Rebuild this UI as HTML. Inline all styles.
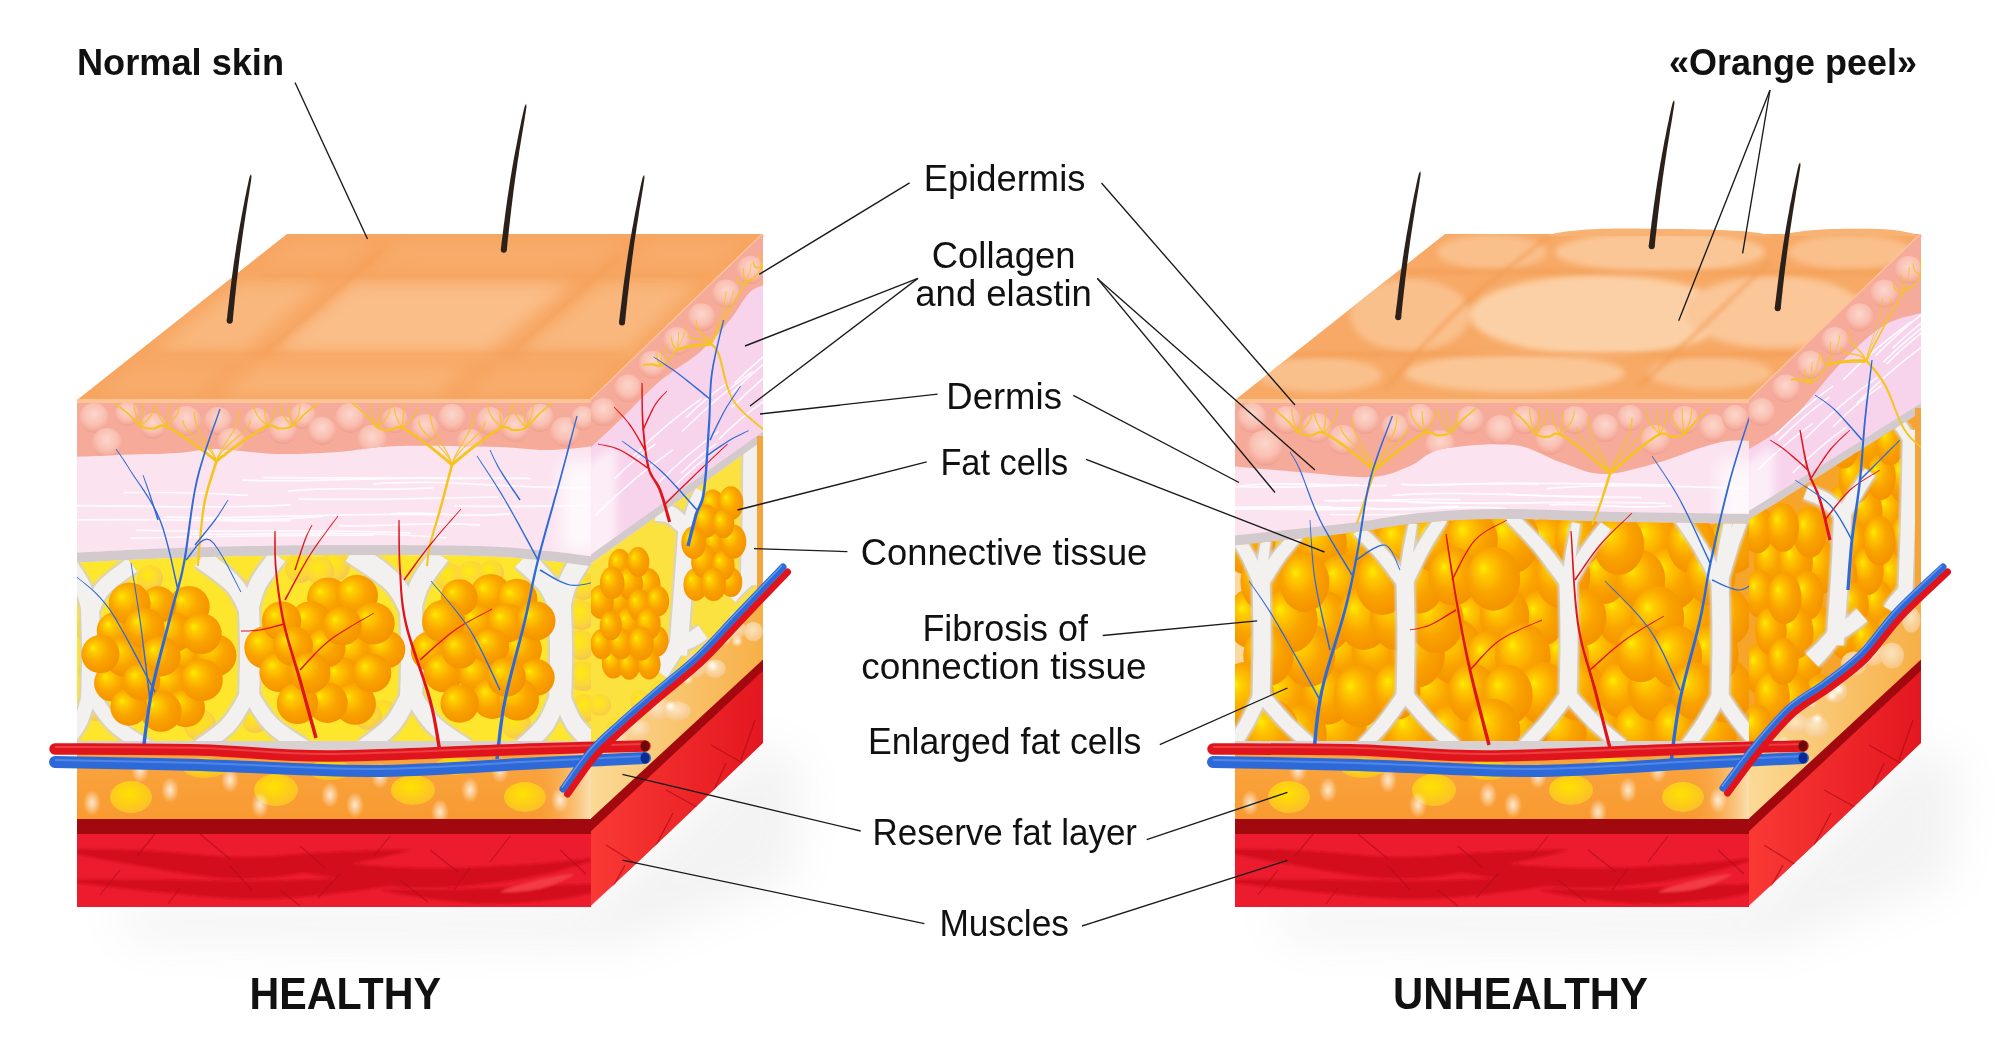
<!DOCTYPE html><html><head><meta charset="utf-8"><style>html,body{margin:0;padding:0;background:#fff;overflow:hidden}svg{display:block}</style></head><body>
<svg width="2000" height="1063" viewBox="0 0 2000 1063"><defs>
<filter id="blur8" x="-30%" y="-30%" width="160%" height="160%"><feGaussianBlur stdDeviation="8"/></filter>
<filter id="blur5" x="-30%" y="-30%" width="160%" height="160%"><feGaussianBlur stdDeviation="5"/></filter>
<filter id="blur3" x="-30%" y="-30%" width="160%" height="160%"><feGaussianBlur stdDeviation="3"/></filter>
<filter id="blur2" x="-30%" y="-30%" width="160%" height="160%"><feGaussianBlur stdDeviation="2"/></filter>
<filter id="blur1" x="-30%" y="-30%" width="160%" height="160%"><feGaussianBlur stdDeviation="1"/></filter>
<filter id="blur25" x="-50%" y="-50%" width="200%" height="200%"><feGaussianBlur stdDeviation="22"/></filter>
<radialGradient id="gFat" cx="0.45" cy="0.42" r="0.62" fx="0.3" fy="0.33">
  <stop offset="0" stop-color="#FFEE00"/><stop offset="0.18" stop-color="#FFCB00"/><stop offset="0.55" stop-color="#FAA400"/><stop offset="1" stop-color="#F39000"/>
</radialGradient>
<radialGradient id="gFatPale" cx="0.42" cy="0.38" r="0.62">
  <stop offset="0" stop-color="#FFEA10"/><stop offset="0.7" stop-color="#FBD63A"/><stop offset="1" stop-color="#F6C650"/>
</radialGradient>
<radialGradient id="gEpi" cx="0.5" cy="0.38" r="0.6">
  <stop offset="0" stop-color="#FCD6CC"/><stop offset="0.6" stop-color="#F9C0B2"/><stop offset="0.92" stop-color="#F4A898"/><stop offset="1" stop-color="#F0A090"/>
</radialGradient>
<radialGradient id="gSpark" cx="0.5" cy="0.5" r="0.5">
  <stop offset="0" stop-color="#FFFFFF" stop-opacity="0.9"/><stop offset="1" stop-color="#FFFFFF" stop-opacity="0"/>
</radialGradient>
<radialGradient id="gBlob" cx="0.45" cy="0.4" r="0.6">
  <stop offset="0" stop-color="#FFE200"/><stop offset="1" stop-color="#FBBF2A"/>
</radialGradient>
<radialGradient id="gBlobPale" cx="0.45" cy="0.4" r="0.6">
  <stop offset="0" stop-color="#FDE9C8"/><stop offset="1" stop-color="#F7C88A"/>
</radialGradient>
<linearGradient id="gMuscleR" x1="0" y1="0" x2="1" y2="0">
  <stop offset="0" stop-color="#FA3A35"/><stop offset="1" stop-color="#E3161F"/>
</linearGradient>
<linearGradient id="gDermHi" x1="0" y1="0" x2="1" y2="0">
  <stop offset="0" stop-color="#FFFFFF" stop-opacity="0"/><stop offset="0.6" stop-color="#FFFFFF" stop-opacity="0.9"/><stop offset="1" stop-color="#FFFFFF" stop-opacity="0.3"/>
</linearGradient>
<linearGradient id="gRes" x1="0" y1="0" x2="0" y2="1">
  <stop offset="0" stop-color="#FAA540"/><stop offset="1" stop-color="#F89A30"/>
</linearGradient>
<linearGradient id="gResCorner" x1="0" y1="0" x2="1" y2="0">
  <stop offset="0" stop-color="#F99C32" stop-opacity="0"/><stop offset="1" stop-color="#FBE0B0"/>
</linearGradient>
<linearGradient id="gResR" x1="0" y1="0" x2="1" y2="0">
  <stop offset="0" stop-color="#FBDB98"/><stop offset="1" stop-color="#F7AE44"/>
</linearGradient>
<clipPath id="tf0"><polygon points="287.0,234.0 763.0,234.0 591.0,400.0 77.0,400.0"/></clipPath><clipPath id="ff0"><rect x="77" y="403" width="514" height="504"/></clipPath><clipPath id="ep0"><path d="M72.0,457.0 C79.5,456.7 99.5,455.7 117.0,455.0 C134.5,454.3 160.3,454.0 177.0,453.0 C193.7,452.0 200.3,448.8 217.0,449.0 C233.7,449.2 257.0,453.5 277.0,454.0 C297.0,454.5 317.0,453.3 337.0,452.0 C357.0,450.7 370.3,446.8 397.0,446.0 C423.7,445.2 472.0,446.3 497.0,447.0 C522.0,447.7 530.5,450.2 547.0,450.0 C563.5,449.8 587.8,446.7 596.0,446.0 L596,402 L72,402 Z"/></clipPath><clipPath id="fc0"><path d="M72.0,563.0 C89.5,562.2 134.5,559.3 177.0,558.0 C219.5,556.7 277.0,555.3 327.0,555.0 C377.0,554.7 440.3,555.0 477.0,556.0 C513.7,557.0 527.2,559.2 547.0,561.0 C566.8,562.8 587.8,566.0 596.0,567.0 L596,752 L72,752 Z"/></clipPath><clipPath id="rf0"><polygon points="591.0,400.0 763.0,234.0 763.0,743.0 591.0,907.0"/></clipPath><clipPath id="fr0"><polygon points="586.0,567.0 768.0,437.0 763.0,592.0 738.0,618.0 698.0,660.0 658.0,694.0 619.0,728.0 591.0,754.0"/></clipPath><clipPath id="tf1158"><polygon points="1445.0,234.0 1921.0,234.0 1749.0,400.0 1235.0,400.0"/></clipPath><clipPath id="ff1158"><rect x="1235" y="403" width="514" height="504"/></clipPath><clipPath id="ep1158"><path d="M1230.0,466.0 C1241.5,467.0 1275.5,470.2 1299.0,472.0 C1322.5,473.8 1352.5,478.0 1371.0,477.0 C1389.5,476.0 1398.2,470.7 1410.0,466.0 C1421.8,461.3 1424.7,452.5 1442.0,449.0 C1459.3,445.5 1494.3,442.8 1514.0,445.0 C1533.7,447.2 1545.2,457.2 1560.0,462.0 C1574.8,466.8 1586.8,473.8 1603.0,474.0 C1619.2,474.2 1640.8,467.3 1657.0,463.0 C1673.2,458.7 1688.2,451.7 1700.0,448.0 C1711.8,444.3 1719.0,442.2 1728.0,441.0 C1737.0,439.8 1749.7,441.0 1754.0,441.0 L1754,402 L1230,402 Z"/></clipPath><clipPath id="fc1158"><path d="M1230.0,546.0 C1250.0,543.8 1318.3,536.8 1350.0,533.0 C1381.7,529.2 1395.0,525.3 1420.0,523.0 C1445.0,520.7 1466.7,519.2 1500.0,519.0 C1533.3,518.8 1577.7,521.2 1620.0,522.0 C1662.3,522.8 1731.7,523.7 1754.0,524.0 L1754,752 L1230,752 Z"/></clipPath><clipPath id="rf1158"><polygon points="1749.0,400.0 1921.0,234.0 1921.0,743.0 1749.0,907.0"/></clipPath><clipPath id="fr1158"><polygon points="1744.0,523.0 1926.0,409.0 1921.0,588.0 1897.0,611.0 1861.0,654.0 1825.0,683.0 1789.0,708.0 1754.0,747.0 1749.0,754.0"/></clipPath></defs><rect width="2000" height="1063" fill="#fff"/>
<g filter="url(#blur25)" opacity="0.10"><polygon points="107.0,905.0 591.0,905.0 763.0,742.0 803.0,770.0 793.0,880.0 621.0,945.0 137.0,940.0" fill="#8A8A8A" /></g>
<polygon points="287.0,234.0 763.0,234.0 591.0,400.0 77.0,400.0" fill="#F7A560" />
<g clip-path="url(#tf0)">
<g filter="url(#blur8)">
<polygon points="293.4,240.0 374.5,240.0 342.0,268.0 258.0,268.0" fill="#F8AB6A" />
<polygon points="402.5,240.0 626.4,240.0 591.9,268.0 370.0,268.0" fill="#F8AB6A" />
<polygon points="654.4,240.0 742.8,240.0 713.8,268.0 619.9,268.0" fill="#F8AB6A" />
<polygon points="239.0,283.0 324.6,283.0 244.6,352.0 151.7,352.0" fill="#F9B77D" />
<polygon points="352.6,283.0 573.5,283.0 488.6,352.0 272.6,352.0" fill="#FABE89" />
<polygon points="601.5,283.0 698.2,283.0 626.8,352.0 516.6,352.0" fill="#F9B77D" />
<polygon points="134.0,366.0 228.4,366.0 193.6,396.0 96.1,396.0" fill="#F8AC6C" />
<polygon points="256.4,366.0 471.4,366.0 434.5,396.0 221.6,396.0" fill="#F9B275" />
<polygon points="499.4,366.0 612.2,366.0 581.2,396.0 462.5,396.0" fill="#F8AC6C" />
</g><g filter="url(#blur2)">
<path d="M258.9,276.0 L704.5,276.0" fill="none" stroke="#F39A4E" stroke-width="3" opacity="0.45"/>
<path d="M160.2,354.0 L623.7,354.0" fill="none" stroke="#F39A4E" stroke-width="3" opacity="0.45"/>
<path d="M384,249 L267,351" fill="none" stroke="#F39A4E" stroke-width="3" opacity="0.5" transform="translate(0,0)"/>
<path d="M618,258 L516,348" fill="none" stroke="#F39A4E" stroke-width="3" opacity="0.5" transform="translate(0,0)"/>
</g>
</g>
<path d="M77,401 L591,401 L763,235" fill="none" stroke="#FDC597" stroke-width="4" />
<g clip-path="url(#ff0)">
<rect x="77" y="400" width="514" height="507" fill="#FBE3F0"/>
<path d="M72.0,457.0 C79.5,456.7 99.5,455.7 117.0,455.0 C134.5,454.3 160.3,454.0 177.0,453.0 C193.7,452.0 200.3,448.8 217.0,449.0 C233.7,449.2 257.0,453.5 277.0,454.0 C297.0,454.5 317.0,453.3 337.0,452.0 C357.0,450.7 370.3,446.8 397.0,446.0 C423.7,445.2 472.0,446.3 497.0,447.0 C522.0,447.7 530.5,450.2 547.0,450.0 C563.5,449.8 587.8,446.7 596.0,446.0 L596,402 L72,402 Z" fill="#F6AA9A" stroke="none" stroke-width="1" />
<g clip-path="url(#ep0)">
<circle cx="94.0" cy="418.0" r="15.0" fill="url(#gEpi)"/>
<circle cx="107.0" cy="443.0" r="15.0" fill="url(#gEpi)"/>
<circle cx="127.0" cy="414.0" r="12.0" fill="url(#gEpi)"/>
<circle cx="153.0" cy="426.0" r="13.0" fill="url(#gEpi)"/>
<circle cx="186.0" cy="421.0" r="15.0" fill="url(#gEpi)"/>
<circle cx="218.0" cy="421.0" r="14.0" fill="url(#gEpi)"/>
<circle cx="231.0" cy="442.0" r="14.0" fill="url(#gEpi)"/>
<circle cx="257.0" cy="421.0" r="13.0" fill="url(#gEpi)"/>
<circle cx="283.0" cy="430.0" r="14.0" fill="url(#gEpi)"/>
<circle cx="303.0" cy="416.0" r="13.0" fill="url(#gEpi)"/>
<circle cx="322.0" cy="431.0" r="14.0" fill="url(#gEpi)"/>
<circle cx="350.0" cy="418.0" r="15.0" fill="url(#gEpi)"/>
<circle cx="372.0" cy="440.0" r="15.0" fill="url(#gEpi)"/>
<circle cx="395.0" cy="420.0" r="13.0" fill="url(#gEpi)"/>
<circle cx="425.0" cy="428.0" r="14.0" fill="url(#gEpi)"/>
<circle cx="452.0" cy="418.0" r="14.0" fill="url(#gEpi)"/>
<circle cx="470.0" cy="442.0" r="13.0" fill="url(#gEpi)"/>
<circle cx="490.0" cy="421.0" r="14.0" fill="url(#gEpi)"/>
<circle cx="515.0" cy="428.0" r="14.0" fill="url(#gEpi)"/>
<circle cx="540.0" cy="418.0" r="14.0" fill="url(#gEpi)"/>
<circle cx="565.0" cy="432.0" r="15.0" fill="url(#gEpi)"/>
<circle cx="583.0" cy="418.0" r="12.0" fill="url(#gEpi)"/>
</g>
<path d="M263.3,477.7 C343.7,477.3 424.0,477.8 531.2,478.4" fill="none" stroke="#FFFFFF" stroke-width="1.7" opacity="0.85"/>
<path d="M242.2,480.2 C308.5,483.8 374.7,475.4 463.0,478.7" fill="none" stroke="#FFFFFF" stroke-width="1.7" opacity="0.85"/>
<path d="M373.2,483.8 C442.5,478.3 511.8,489.6 604.2,487.5" fill="none" stroke="#FFFFFF" stroke-width="1.7" opacity="0.85"/>
<path d="M287.8,491.3 C331.4,485.5 375.0,491.7 433.0,487.8" fill="none" stroke="#FFFFFF" stroke-width="1.7" opacity="0.85"/>
<path d="M123.5,492.7 C160.9,492.2 198.3,492.0 248.3,495.4" fill="none" stroke="#FFFFFF" stroke-width="1.7" opacity="0.85"/>
<path d="M298.7,498.8 C358.7,500.7 418.7,498.3 498.7,497.0" fill="none" stroke="#FFFFFF" stroke-width="1.7" opacity="0.85"/>
<path d="M455.1,505.8 C531.4,508.3 607.8,503.6 709.5,503.6" fill="none" stroke="#FFFFFF" stroke-width="1.7" opacity="0.85"/>
<path d="M47.9,505.7 C120.7,504.5 193.5,509.8 290.5,504.8" fill="none" stroke="#FFFFFF" stroke-width="1.7" opacity="0.85"/>
<path d="M389.8,513.8 C425.8,510.3 461.9,518.7 509.9,513.6" fill="none" stroke="#FFFFFF" stroke-width="1.7" opacity="0.85"/>
<path d="M191.9,518.1 C231.4,519.6 270.9,521.4 323.6,516.2" fill="none" stroke="#FFFFFF" stroke-width="1.7" opacity="0.85"/>
<path d="M163.3,516.9 C245.6,520.0 327.9,512.3 437.6,514.8" fill="none" stroke="#FFFFFF" stroke-width="1.7" opacity="0.85"/>
<path d="M43.4,521.1 C117.6,517.2 191.9,521.8 290.9,520.7" fill="none" stroke="#FFFFFF" stroke-width="1.7" opacity="0.85"/>
<path d="M339.0,525.7 C381.3,527.5 423.6,521.1 480.0,525.1" fill="none" stroke="#FFFFFF" stroke-width="1.7" opacity="0.85"/>
<path d="M135.7,530.0 C218.3,533.7 300.9,527.7 411.1,533.1" fill="none" stroke="#FFFFFF" stroke-width="1.7" opacity="0.85"/>
<path d="M190.5,534.1 C267.5,535.8 344.5,529.3 447.2,538.0" fill="none" stroke="#FFFFFF" stroke-width="1.7" opacity="0.85"/>
<path d="M130.6,538.3 C203.7,536.2 276.8,535.8 374.3,534.9" fill="none" stroke="#FFFFFF" stroke-width="1.7" opacity="0.85"/>
<g filter="url(#blur8)"><rect x="561" y="462" width="40" height="90" fill="#FFFFFF" opacity="0.75"/></g>
<path d="M72.0,553.0 C89.5,552.2 134.5,549.3 177.0,548.0 C219.5,546.7 277.0,545.3 327.0,545.0 C377.0,544.7 440.3,545.0 477.0,546.0 C513.7,547.0 527.2,549.2 547.0,551.0 C566.8,552.8 587.8,556.0 596.0,557.0 L596.0,567.0 C587.8,566.0 566.8,562.8 547.0,561.0 C527.2,559.2 513.7,557.0 477.0,556.0 C440.3,555.0 377.0,554.7 327.0,555.0 C277.0,555.3 219.5,556.7 177.0,558.0 C134.5,559.3 89.5,562.2 72.0,563.0 Z" fill="#D3CACD" stroke="none" stroke-width="1" />
<path d="M72.0,563.0 C89.5,562.2 134.5,559.3 177.0,558.0 C219.5,556.7 277.0,555.3 327.0,555.0 C377.0,554.7 440.3,555.0 477.0,556.0 C513.7,557.0 527.2,559.2 547.0,561.0 C566.8,562.8 587.8,566.0 596.0,567.0 L596,752 L72,752 Z" fill="#FEE62C" stroke="none" stroke-width="1" />
<g clip-path="url(#fc0)">
<circle cx="300" cy="568" r="15" fill="url(#gFatPale)"/>
<circle cx="335" cy="566" r="15" fill="url(#gFatPale)"/>
<circle cx="449" cy="577" r="14" fill="url(#gFatPale)"/>
<circle cx="471" cy="575" r="14" fill="url(#gFatPale)"/>
<circle cx="491" cy="573" r="13" fill="url(#gFatPale)"/>
<circle cx="583" cy="586" r="14" fill="url(#gFatPale)"/>
<circle cx="581" cy="615" r="15" fill="url(#gFatPale)"/>
<circle cx="581" cy="645" r="15" fill="url(#gFatPale)"/>
<circle cx="583" cy="676" r="15" fill="url(#gFatPale)"/>
<circle cx="585" cy="708" r="14" fill="url(#gFatPale)"/>
<circle cx="516" cy="724" r="15" fill="url(#gFatPale)"/>
<circle cx="384" cy="714" r="14" fill="url(#gFatPale)"/>
<circle cx="368" cy="716" r="14" fill="url(#gFatPale)"/>
<circle cx="200" cy="725" r="16" fill="url(#gFatPale)"/>
<circle cx="320" cy="571" r="14" fill="url(#gFatPale)"/>
<circle cx="150" cy="578" r="13" fill="url(#gFatPale)"/>
<circle cx="118" cy="590" r="13" fill="url(#gFatPale)"/>
<circle cx="90" cy="630" r="14" fill="url(#gFatPale)"/>
<circle cx="92" cy="670" r="14" fill="url(#gFatPale)"/>
<circle cx="96" cy="708" r="13" fill="url(#gFatPale)"/>
<circle cx="240" cy="590" r="12" fill="url(#gFatPale)"/>
<circle cx="255" cy="720" r="13" fill="url(#gFatPale)"/>
<g filter="url(#blur1)"><polygon points="79.0,605.3 79.1,609.0 79.2,614.0 79.4,619.9 79.6,626.5 79.7,633.4 79.9,640.4 80.0,647.2 80.0,653.5 80.0,659.8 79.9,666.6 79.7,673.6 79.6,680.5 79.4,687.1 79.2,693.0 79.1,698.0 79.0,701.7 101.0,702.3 101.1,698.5 101.2,693.6 101.4,687.7 101.6,681.1 101.7,674.1 101.9,666.9 102.0,660.0 102.0,653.5 102.0,647.0 101.9,640.1 101.7,632.9 101.6,625.9 101.4,619.3 101.2,613.4 101.1,608.5 101.0,604.7" fill="#D6D0CC" /><polygon points="99.0,612.9 98.6,610.9 98.2,608.1 97.6,604.7 96.9,600.7 96.0,596.5 94.9,592.0 93.6,587.6 92.0,583.3 90.0,579.1 87.6,574.9 85.1,570.8 82.6,566.9 80.1,563.3 77.9,560.2 76.2,557.6 75.0,555.7 57.0,568.3 58.5,570.3 60.6,572.9 62.9,575.9 65.3,579.1 67.8,582.5 70.1,585.8 72.1,588.9 73.6,591.6 74.8,594.3 76.0,597.6 77.1,601.2 78.0,604.9 78.9,608.5 79.7,611.9 80.4,614.8 81.0,617.1" fill="#D6D0CC" /><polygon points="98.5,618.6 99.5,616.3 100.6,613.5 101.8,610.3 103.2,607.0 104.7,603.6 106.4,600.3 108.1,597.4 110.0,595.0 112.4,592.5 115.8,589.5 119.8,586.3 124.0,583.1 128.3,580.1 132.2,577.3 135.6,574.9 138.1,573.0 125.9,557.0 123.6,558.8 120.4,561.1 116.5,564.1 112.1,567.4 107.6,571.0 103.1,574.7 98.9,578.6 95.2,582.6 92.1,586.8 89.6,591.3 87.5,595.6 85.7,599.8 84.3,603.7 83.1,607.0 82.2,609.6 81.5,611.4" fill="#D6D0CC" /><polygon points="81.6,689.4 80.8,692.0 79.8,695.5 78.6,699.6 77.3,703.9 75.9,708.4 74.4,712.7 72.8,716.6 71.3,719.8 69.5,722.6 67.3,725.7 64.8,728.9 62.1,732.0 59.4,735.0 56.9,737.7 54.7,740.1 53.0,742.0 67.0,754.0 68.4,752.3 70.4,750.0 72.9,747.2 75.8,744.0 78.8,740.4 81.8,736.5 84.6,732.5 87.1,728.2 89.2,723.7 91.1,718.9 92.8,714.0 94.3,709.1 95.6,704.4 96.7,700.3 97.6,697.0 98.4,694.6" fill="#D6D0CC" /><polygon points="82.8,696.9 84.4,699.4 86.5,702.7 89.2,706.8 92.2,711.5 95.6,716.4 99.2,721.3 103.1,726.1 107.2,730.5 111.7,734.5 116.7,738.4 122.0,742.1 127.2,745.6 132.2,748.8 136.7,751.6 140.3,753.9 143.0,755.7 153.0,740.3 150.2,738.5 146.4,736.1 141.9,733.4 137.1,730.4 132.2,727.2 127.4,723.8 123.1,720.6 119.6,717.5 116.5,714.3 113.2,710.3 110.0,706.0 106.9,701.5 104.0,697.2 101.3,693.2 99.0,689.7 97.2,687.1" fill="#D6D0CC" /></g><polygon points="81.0,605.2 81.1,609.0 81.2,614.0 81.4,619.9 81.6,626.4 81.7,633.4 81.9,640.4 82.0,647.2 82.0,653.5 82.0,659.8 81.9,666.6 81.7,673.6 81.6,680.6 81.4,687.1 81.2,693.0 81.1,698.0 81.0,701.8 99.0,702.2 99.1,698.5 99.2,693.5 99.4,687.6 99.6,681.0 99.7,674.0 99.9,666.9 100.0,660.0 100.0,653.5 100.0,647.0 99.9,640.1 99.7,633.0 99.6,626.0 99.4,619.4 99.2,613.5 99.1,608.5 99.0,604.8" fill="#F3F1EF" /><polygon points="97.0,613.4 96.7,611.3 96.2,608.5 95.6,605.1 94.9,601.2 94.0,596.9 93.0,592.6 91.7,588.3 90.2,584.1 88.2,580.0 85.9,575.9 83.5,571.9 80.9,568.1 78.5,564.5 76.3,561.3 74.6,558.8 73.4,556.8 58.6,567.2 60.1,569.1 62.2,571.7 64.5,574.7 67.0,577.9 69.5,581.3 71.8,584.7 73.9,588.0 75.4,590.8 76.7,593.7 77.9,597.1 79.0,600.7 80.0,604.5 80.9,608.1 81.7,611.5 82.4,614.4 83.0,616.6" fill="#F3F1EF" /><polygon points="96.6,617.8 97.6,615.6 98.7,612.8 100.0,609.6 101.3,606.2 102.9,602.7 104.6,599.4 106.5,596.3 108.5,593.7 111.0,591.1 114.5,588.0 118.6,584.8 122.8,581.5 127.1,578.5 131.0,575.7 134.4,573.3 136.9,571.4 127.1,558.6 124.8,560.4 121.6,562.8 117.7,565.7 113.3,569.0 108.8,572.5 104.4,576.2 100.3,580.0 96.7,583.9 93.8,588.0 91.3,592.2 89.3,596.5 87.6,600.6 86.2,604.4 85.0,607.7 84.1,610.3 83.4,612.2" fill="#F3F1EF" /><polygon points="83.5,690.0 82.7,692.6 81.7,696.1 80.5,700.1 79.2,704.5 77.8,709.0 76.3,713.4 74.7,717.4 73.1,720.7 71.2,723.7 68.9,726.9 66.3,730.2 63.6,733.4 60.9,736.4 58.4,739.1 56.2,741.5 54.5,743.3 65.5,752.7 66.9,751.0 68.9,748.7 71.5,745.9 74.3,742.6 77.2,739.1 80.2,735.3 82.9,731.4 85.3,727.3 87.4,722.9 89.2,718.2 90.9,713.3 92.4,708.5 93.7,703.9 94.8,699.8 95.7,696.4 96.5,694.0" fill="#F3F1EF" /><polygon points="84.4,695.8 86.1,698.3 88.2,701.6 90.8,705.7 93.9,710.3 97.2,715.2 100.8,720.1 104.6,724.7 108.6,729.0 113.0,733.0 117.9,736.8 123.1,740.5 128.3,743.9 133.3,747.1 137.7,749.9 141.4,752.3 144.1,754.0 151.9,742.0 149.1,740.2 145.3,737.8 140.9,735.1 136.0,732.1 131.1,728.8 126.2,725.5 121.9,722.1 118.2,719.0 115.0,715.6 111.7,711.6 108.4,707.2 105.2,702.7 102.3,698.3 99.7,694.2 97.4,690.8 95.6,688.2" fill="#F3F1EF" />
<g filter="url(#blur1)"><polygon points="237.0,605.3 237.1,609.1 237.2,614.0 237.4,620.0 237.6,626.5 237.7,633.4 237.9,640.4 238.0,647.2 238.0,653.5 238.0,659.8 237.9,666.6 237.7,673.6 237.6,680.5 237.4,687.0 237.2,693.0 237.1,697.9 237.0,701.7 261.0,702.3 261.1,698.6 261.2,693.6 261.4,687.7 261.6,681.1 261.7,674.1 261.9,667.0 262.0,660.0 262.0,653.5 262.0,647.0 261.9,640.0 261.7,632.9 261.6,625.9 261.4,619.3 261.2,613.4 261.1,608.4 261.0,604.7" fill="#D6D0CC" /><polygon points="258.2,611.0 257.4,608.9 256.4,606.1 255.2,602.3 253.6,598.0 251.6,593.3 249.3,588.4 246.5,583.4 243.0,578.6 238.9,574.0 234.2,569.5 229.1,565.1 223.9,560.9 219.0,557.0 214.5,553.5 210.9,550.7 208.4,548.5 193.6,567.5 196.5,569.6 200.5,572.4 205.0,575.6 209.9,579.1 214.8,582.8 219.4,586.5 223.3,589.9 226.2,592.7 228.4,595.5 230.5,598.7 232.4,602.4 234.2,606.1 235.8,609.8 237.3,613.3 238.6,616.5 239.8,619.0" fill="#D6D0CC" /><polygon points="258.7,617.4 259.4,615.0 260.2,611.7 261.0,608.1 262.0,604.1 263.1,600.1 264.4,596.1 265.7,592.5 267.1,589.4 268.9,586.3 271.3,582.7 274.0,578.8 277.0,574.9 279.9,571.2 282.7,567.8 285.0,564.8 286.8,562.6 269.2,549.4 267.7,551.6 265.5,554.4 262.8,558.0 259.8,562.0 256.7,566.4 253.6,570.9 250.7,575.5 248.3,580.1 246.3,584.9 244.6,589.7 243.3,594.6 242.1,599.2 241.2,603.5 240.4,607.3 239.8,610.3 239.3,612.6" fill="#D6D0CC" /><polygon points="240.8,687.3 239.2,689.9 237.3,693.4 235.1,697.4 232.6,701.7 230.0,706.2 227.3,710.5 224.5,714.3 221.9,717.5 219.0,720.4 215.3,723.6 211.3,726.9 207.0,730.1 202.8,733.1 198.9,735.8 195.5,738.1 193.0,740.0 205.0,756.0 207.3,754.3 210.4,752.0 214.3,749.2 218.7,745.9 223.4,742.4 228.0,738.6 232.4,734.7 236.5,730.5 240.1,726.0 243.4,721.2 246.5,716.2 249.4,711.3 251.9,706.6 254.1,702.5 255.9,699.2 257.2,696.7" fill="#D6D0CC" /><polygon points="241.0,697.1 242.5,699.6 244.5,702.9 247.0,707.0 249.8,711.7 253.0,716.6 256.5,721.6 260.1,726.4 264.1,730.8 268.5,734.9 273.3,738.9 278.3,742.6 283.4,746.2 288.1,749.4 292.4,752.2 295.8,754.5 298.3,756.2 309.7,739.8 306.9,737.9 303.3,735.6 299.0,732.8 294.5,729.8 289.8,726.6 285.3,723.4 281.3,720.1 278.0,717.2 275.1,714.0 272.1,710.1 269.0,705.8 266.1,701.3 263.3,697.0 260.9,693.0 258.7,689.5 257.0,686.9" fill="#D6D0CC" /></g><polygon points="239.0,605.2 239.1,609.0 239.2,614.0 239.4,619.9 239.6,626.5 239.7,633.4 239.9,640.4 240.0,647.2 240.0,653.5 240.0,659.8 239.9,666.6 239.7,673.6 239.6,680.5 239.4,687.1 239.2,693.0 239.1,698.0 239.0,701.8 259.0,702.2 259.1,698.5 259.2,693.6 259.4,687.6 259.6,681.0 259.7,674.0 259.9,666.9 260.0,660.0 260.0,653.5 260.0,647.0 259.9,640.1 259.7,633.0 259.6,626.0 259.4,619.4 259.2,613.4 259.1,608.5 259.0,604.8" fill="#F3F1EF" /><polygon points="256.3,611.8 255.6,609.7 254.6,606.8 253.3,603.0 251.7,598.8 249.8,594.1 247.6,589.3 244.8,584.5 241.5,579.9 237.5,575.4 232.8,571.0 227.8,566.7 222.7,562.5 217.8,558.6 213.3,555.1 209.7,552.3 207.1,550.1 194.9,565.9 197.7,568.0 201.7,570.7 206.2,574.0 211.1,577.5 216.0,581.2 220.7,584.9 224.7,588.4 227.7,591.4 230.0,594.4 232.2,597.8 234.2,601.5 236.1,605.3 237.7,609.1 239.1,612.6 240.5,615.8 241.7,618.2" fill="#F3F1EF" /><polygon points="256.8,617.0 257.4,614.5 258.2,611.3 259.1,607.6 260.1,603.6 261.2,599.5 262.5,595.5 263.9,591.7 265.3,588.5 267.2,585.3 269.6,581.6 272.4,577.7 275.4,573.7 278.3,570.0 281.1,566.6 283.5,563.6 285.2,561.4 270.8,550.6 269.3,552.8 267.1,555.7 264.4,559.2 261.4,563.2 258.3,567.5 255.3,572.0 252.5,576.5 250.1,581.0 248.1,585.6 246.5,590.3 245.2,595.1 244.1,599.7 243.1,604.0 242.4,607.8 241.7,610.8 241.2,613.0" fill="#F3F1EF" /><polygon points="242.5,688.3 241.0,690.9 239.0,694.3 236.8,698.4 234.4,702.7 231.7,707.2 228.9,711.6 226.1,715.5 223.4,718.8 220.4,721.9 216.6,725.2 212.5,728.5 208.2,731.7 204.0,734.7 200.1,737.4 196.7,739.8 194.2,741.6 203.8,754.4 206.1,752.6 209.3,750.3 213.2,747.5 217.5,744.3 222.1,740.8 226.7,737.1 231.1,733.2 235.0,729.2 238.5,724.8 241.8,720.1 244.8,715.1 247.6,710.3 250.1,705.7 252.3,701.5 254.1,698.2 255.5,695.7" fill="#F3F1EF" /><polygon points="242.7,696.1 244.2,698.5 246.2,701.9 248.7,706.0 251.5,710.6 254.7,715.5 258.1,720.4 261.7,725.1 265.5,729.4 269.8,733.4 274.5,737.3 279.5,741.0 284.5,744.5 289.2,747.7 293.5,750.5 297.0,752.8 299.5,754.6 308.5,741.4 305.8,739.6 302.2,737.2 297.9,734.5 293.3,731.5 288.6,728.3 284.1,724.9 280.0,721.7 276.6,718.6 273.6,715.2 270.4,711.3 267.4,706.9 264.4,702.4 261.6,698.0 259.2,694.0 257.0,690.5 255.3,687.9" fill="#F3F1EF" />
<g filter="url(#blur1)"><polygon points="398.0,605.3 398.1,609.1 398.2,614.1 398.4,620.0 398.6,626.5 398.7,633.5 398.9,640.5 399.0,647.2 399.0,653.5 399.0,659.8 398.9,666.5 398.7,673.5 398.6,680.5 398.4,687.0 398.2,692.9 398.1,697.9 398.0,701.7 424.0,702.3 424.1,698.6 424.2,693.6 424.4,687.7 424.6,681.1 424.7,674.1 424.9,667.0 425.0,660.0 425.0,653.5 425.0,647.0 424.9,640.0 424.7,632.9 424.6,625.9 424.4,619.3 424.2,613.4 424.1,608.4 424.0,604.7" fill="#D6D0CC" /><polygon points="420.7,610.3 419.8,608.0 418.6,604.9 417.0,600.8 415.0,596.1 412.6,590.9 409.7,585.5 406.2,580.1 402.0,574.8 397.0,569.8 391.2,564.9 385.0,560.0 378.7,555.3 372.6,550.9 367.1,547.0 362.7,543.8 359.5,541.4 344.5,562.6 348.0,564.9 352.8,568.1 358.4,571.7 364.4,575.7 370.4,579.8 376.1,584.0 381.0,587.8 384.6,591.1 387.3,594.2 389.9,597.8 392.3,601.7 394.5,605.8 396.4,609.8 398.2,613.6 399.8,617.0 401.3,619.7" fill="#D6D0CC" /><polygon points="421.5,617.6 422.2,615.1 423.0,611.8 423.9,608.1 424.8,604.1 426.0,600.0 427.2,596.0 428.5,592.3 429.9,589.2 431.7,586.1 434.0,582.5 436.8,578.6 439.7,574.6 442.7,570.8 445.4,567.4 447.8,564.3 449.6,562.0 430.4,548.0 428.9,550.2 426.7,553.1 424.0,556.7 421.0,560.8 417.9,565.3 414.8,569.9 412.0,574.6 409.5,579.4 407.5,584.2 405.8,589.2 404.5,594.1 403.3,598.9 402.4,603.3 401.6,607.1 401.0,610.2 400.5,612.4" fill="#D6D0CC" /><polygon points="402.0,687.2 400.5,689.8 398.7,693.3 396.7,697.3 394.4,701.6 391.9,706.1 389.4,710.3 386.9,714.1 384.5,717.2 381.8,720.1 378.4,723.2 374.6,726.4 370.6,729.6 366.6,732.6 362.9,735.3 359.7,737.7 357.3,739.5 370.7,756.5 372.8,754.7 375.8,752.5 379.5,749.6 383.7,746.4 388.1,742.8 392.5,739.0 396.8,735.0 400.6,730.8 404.0,726.2 407.2,721.3 410.1,716.3 412.7,711.4 415.1,706.7 417.1,702.6 418.8,699.3 420.0,696.8" fill="#D6D0CC" /><polygon points="402.4,697.6 403.9,700.0 405.9,703.3 408.4,707.4 411.2,712.1 414.4,717.0 417.8,722.0 421.5,726.9 425.5,731.4 430.0,735.5 434.8,739.5 439.9,743.3 444.9,746.8 449.7,750.0 454.0,752.9 457.4,755.2 459.9,756.9 472.1,739.1 469.4,737.3 465.7,734.9 461.5,732.2 456.9,729.2 452.2,726.0 447.8,722.7 443.8,719.6 440.6,716.6 437.7,713.5 434.7,709.6 431.7,705.3 428.7,700.9 426.0,696.6 423.5,692.6 421.4,689.1 419.6,686.4" fill="#D6D0CC" /></g><polygon points="400.0,605.3 400.1,609.0 400.2,614.0 400.4,619.9 400.6,626.5 400.7,633.4 400.9,640.4 401.0,647.2 401.0,653.5 401.0,659.8 400.9,666.6 400.7,673.6 400.6,680.5 400.4,687.1 400.2,693.0 400.1,698.0 400.0,701.7 422.0,702.3 422.1,698.5 422.2,693.6 422.4,687.7 422.6,681.1 422.7,674.1 422.9,666.9 423.0,660.0 423.0,653.5 423.0,647.0 422.9,640.1 422.7,632.9 422.6,625.9 422.4,619.3 422.2,613.4 422.1,608.5 422.0,604.7" fill="#F3F1EF" /><polygon points="418.9,611.2 417.9,608.8 416.7,605.6 415.1,601.6 413.2,596.9 410.8,591.8 408.0,586.6 404.6,581.3 400.5,576.2 395.6,571.3 390.0,566.4 383.8,561.6 377.6,556.9 371.5,552.6 366.0,548.7 361.5,545.5 358.4,543.0 345.6,561.0 349.2,563.3 353.9,566.4 359.5,570.0 365.5,574.0 371.6,578.2 377.4,582.4 382.3,586.3 386.1,589.7 388.9,593.0 391.6,596.7 394.1,600.8 396.3,604.9 398.3,609.0 400.0,612.8 401.7,616.2 403.1,618.8" fill="#F3F1EF" /><polygon points="419.5,617.1 420.2,614.6 421.0,611.4 421.9,607.6 422.9,603.6 424.0,599.5 425.3,595.4 426.7,591.6 428.1,588.4 430.0,585.1 432.4,581.4 435.2,577.4 438.1,573.4 441.1,569.6 443.8,566.2 446.2,563.1 448.0,560.8 432.0,549.2 430.5,551.4 428.3,554.3 425.6,557.9 422.6,562.0 419.5,566.4 416.5,571.0 413.7,575.6 411.3,580.2 409.3,584.9 407.7,589.8 406.4,594.7 405.3,599.3 404.3,603.7 403.6,607.5 403.0,610.6 402.5,612.9" fill="#F3F1EF" /><polygon points="403.7,688.1 402.3,690.7 400.5,694.2 398.4,698.2 396.1,702.6 393.7,707.0 391.1,711.4 388.5,715.3 386.0,718.5 383.2,721.5 379.7,724.7 375.8,728.0 371.8,731.2 367.8,734.2 364.1,736.9 360.9,739.3 358.5,741.1 369.5,754.9 371.6,753.2 374.6,750.9 378.3,748.0 382.5,744.8 386.8,741.3 391.2,737.5 395.3,733.6 399.1,729.5 402.4,725.0 405.5,720.3 408.4,715.3 411.0,710.4 413.3,705.8 415.4,701.7 417.0,698.3 418.3,695.9" fill="#F3F1EF" /><polygon points="404.1,696.5 405.6,698.9 407.6,702.3 410.1,706.4 412.9,711.0 416.0,715.9 419.4,720.8 423.1,725.6 427.0,730.0 431.3,734.0 436.0,737.9 441.0,741.7 446.0,745.2 450.8,748.4 455.1,751.2 458.5,753.5 461.0,755.3 471.0,740.7 468.3,738.9 464.6,736.6 460.4,733.8 455.8,730.8 451.1,727.6 446.5,724.3 442.5,721.1 439.1,718.0 436.2,714.7 433.1,710.8 430.0,706.5 427.0,702.0 424.3,697.6 421.8,693.6 419.7,690.1 417.9,687.5" fill="#F3F1EF" />
<g filter="url(#blur1)"><polygon points="547.0,605.3 547.1,609.1 547.2,614.1 547.4,620.0 547.6,626.5 547.7,633.5 547.9,640.5 548.0,647.2 548.0,653.5 548.0,659.8 547.9,666.5 547.7,673.5 547.6,680.5 547.4,687.0 547.2,692.9 547.1,697.9 547.0,701.7 573.0,702.3 573.1,698.6 573.2,693.6 573.4,687.7 573.6,681.1 573.7,674.1 573.9,667.0 574.0,660.0 574.0,653.5 574.0,647.0 573.9,640.0 573.7,632.9 573.6,625.9 573.4,619.3 573.2,613.4 573.1,608.4 573.0,604.7" fill="#D6D0CC" /><polygon points="570.2,611.6 569.7,609.5 569.0,606.6 568.0,602.9 566.9,598.7 565.4,594.1 563.6,589.3 561.5,584.4 558.8,579.5 555.6,574.9 551.9,570.4 548.0,566.0 544.0,561.9 540.2,558.0 536.7,554.6 534.0,551.8 532.1,549.8 513.9,568.2 516.2,570.3 519.3,573.1 522.8,576.2 526.5,579.6 530.3,583.2 533.8,586.7 536.8,590.0 539.0,592.7 540.7,595.3 542.3,598.5 543.9,602.1 545.3,605.8 546.6,609.5 547.7,612.9 548.8,616.0 549.8,618.4" fill="#D6D0CC" /><polygon points="570.6,617.1 571.1,614.7 571.8,611.6 572.4,608.0 573.2,604.1 574.1,600.2 575.0,596.3 576.1,592.7 577.2,589.7 578.6,586.8 580.4,583.3 582.5,579.6 584.7,575.9 586.9,572.4 589.0,569.1 590.9,566.2 592.3,564.0 571.7,552.0 570.6,554.0 569.0,556.8 567.0,560.2 564.7,564.1 562.4,568.2 560.0,572.6 557.9,577.1 556.0,581.6 554.5,586.1 553.3,590.8 552.3,595.5 551.5,600.0 550.8,604.1 550.2,607.8 549.8,610.8 549.4,612.9" fill="#D6D0CC" /><polygon points="550.5,688.1 549.4,690.7 548.0,694.2 546.4,698.2 544.7,702.6 542.8,707.0 540.8,711.2 538.8,715.0 536.9,718.1 534.7,720.9 532.0,723.9 528.9,727.1 525.6,730.2 522.3,733.2 519.3,735.9 516.6,738.3 514.5,740.2 529.5,755.8 531.2,754.1 533.6,751.8 536.7,749.0 540.2,745.8 543.9,742.2 547.6,738.3 551.1,734.2 554.3,729.9 557.1,725.3 559.6,720.4 561.8,715.4 563.9,710.4 565.7,705.8 567.3,701.7 568.5,698.3 569.5,695.9" fill="#D6D0CC" /><polygon points="550.5,695.9 551.5,698.3 552.7,701.7 554.3,705.8 556.1,710.4 558.2,715.4 560.4,720.4 562.9,725.3 565.7,729.9 568.9,734.2 572.4,738.3 576.1,742.2 579.8,745.8 583.3,749.0 586.4,751.8 588.8,754.1 590.5,755.8 605.5,740.2 603.4,738.3 600.7,735.9 597.7,733.2 594.4,730.2 591.1,727.1 588.0,723.9 585.3,720.9 583.1,718.1 581.2,715.0 579.2,711.2 577.2,707.0 575.3,702.6 573.6,698.2 572.0,694.2 570.6,690.7 569.5,688.1" fill="#D6D0CC" /></g><polygon points="549.0,605.3 549.1,609.0 549.2,614.0 549.4,619.9 549.6,626.5 549.7,633.4 549.9,640.4 550.0,647.2 550.0,653.5 550.0,659.8 549.9,666.6 549.7,673.6 549.6,680.5 549.4,687.1 549.2,693.0 549.1,698.0 549.0,701.7 571.0,702.3 571.1,698.5 571.2,693.6 571.4,687.7 571.6,681.1 571.7,674.1 571.9,666.9 572.0,660.0 572.0,653.5 572.0,647.0 571.9,640.1 571.7,632.9 571.6,625.9 571.4,619.3 571.2,613.4 571.1,608.5 571.0,604.7" fill="#F3F1EF" /><polygon points="568.3,612.2 567.8,610.1 567.1,607.2 566.1,603.5 565.0,599.3 563.5,594.8 561.8,590.1 559.7,585.3 557.2,580.6 554.0,576.2 550.4,571.7 546.5,567.4 542.6,563.3 538.8,559.4 535.4,556.0 532.6,553.3 530.7,551.2 515.3,566.8 517.6,568.9 520.6,571.6 524.2,574.8 527.9,578.2 531.7,581.8 535.3,585.4 538.4,588.7 540.6,591.6 542.4,594.4 544.1,597.7 545.7,601.4 547.2,605.2 548.5,608.9 549.7,612.3 550.7,615.4 551.7,617.8" fill="#F3F1EF" /><polygon points="568.6,616.7 569.2,614.3 569.8,611.2 570.5,607.6 571.2,603.8 572.1,599.8 573.1,595.8 574.2,592.2 575.3,589.0 576.7,585.9 578.6,582.4 580.7,578.7 583.0,574.9 585.2,571.3 587.3,568.0 589.2,565.2 590.5,563.0 573.5,553.0 572.3,555.0 570.7,557.8 568.7,561.2 566.4,565.1 564.1,569.2 561.8,573.6 559.7,577.9 557.9,582.3 556.4,586.7 555.2,591.3 554.3,595.9 553.4,600.3 552.7,604.5 552.2,608.2 551.7,611.1 551.4,613.3" fill="#F3F1EF" /><polygon points="552.4,688.8 551.3,691.5 549.9,694.9 548.3,699.0 546.5,703.3 544.6,707.8 542.6,712.1 540.5,716.0 538.5,719.2 536.3,722.1 533.5,725.3 530.3,728.5 527.0,731.7 523.7,734.7 520.6,737.4 517.9,739.8 515.9,741.6 528.1,754.4 529.8,752.6 532.3,750.4 535.4,747.5 538.8,744.3 542.5,740.7 546.1,737.0 549.6,733.0 552.7,728.8 555.3,724.3 557.8,719.5 560.0,714.6 562.0,709.7 563.8,705.1 565.4,700.9 566.6,697.6 567.6,695.2" fill="#F3F1EF" /><polygon points="552.4,695.2 553.4,697.6 554.6,700.9 556.2,705.1 558.0,709.7 560.0,714.6 562.2,719.5 564.7,724.3 567.3,728.8 570.4,733.0 573.9,737.0 577.5,740.7 581.2,744.3 584.6,747.5 587.7,750.4 590.2,752.6 591.9,754.4 604.1,741.6 602.1,739.8 599.4,737.4 596.3,734.7 593.0,731.7 589.7,728.5 586.5,725.3 583.7,722.1 581.5,719.2 579.5,716.0 577.4,712.1 575.4,707.8 573.5,703.3 571.7,699.0 570.1,694.9 568.7,691.5 567.6,688.8" fill="#F3F1EF" />
<ellipse cx="186.3" cy="656.5" rx="19.3" ry="19.3" fill="url(#gFat)"/><ellipse cx="215.2" cy="655.3" rx="21.2" ry="21.2" fill="url(#gFat)"/><ellipse cx="188.9" cy="606.7" rx="20.8" ry="20.8" fill="url(#gFat)"/><ellipse cx="171.3" cy="682.8" rx="20.7" ry="20.7" fill="url(#gFat)"/><ellipse cx="115.0" cy="630.6" rx="18.3" ry="18.3" fill="url(#gFat)"/><ellipse cx="172.7" cy="632.3" rx="20.4" ry="20.4" fill="url(#gFat)"/><ellipse cx="158.0" cy="604.7" rx="18.4" ry="18.4" fill="url(#gFat)"/><ellipse cx="112.6" cy="683.0" rx="18.6" ry="18.6" fill="url(#gFat)"/><ellipse cx="129.6" cy="603.5" rx="21.0" ry="21.0" fill="url(#gFat)"/><ellipse cx="185.7" cy="708.0" rx="19.3" ry="19.3" fill="url(#gFat)"/><ellipse cx="161.0" cy="711.2" rx="20.6" ry="20.6" fill="url(#gFat)"/><ellipse cx="125.2" cy="657.2" rx="19.7" ry="19.7" fill="url(#gFat)"/><ellipse cx="100.4" cy="654.2" rx="19.1" ry="19.1" fill="url(#gFat)"/><ellipse cx="201.7" cy="680.1" rx="21.1" ry="21.1" fill="url(#gFat)"/><ellipse cx="144.6" cy="628.0" rx="20.2" ry="20.2" fill="url(#gFat)"/><ellipse cx="160.6" cy="656.3" rx="20.1" ry="20.1" fill="url(#gFat)"/><ellipse cx="201.4" cy="633.7" rx="20.3" ry="20.3" fill="url(#gFat)"/><ellipse cx="128.9" cy="707.1" rx="18.6" ry="18.6" fill="url(#gFat)"/><ellipse cx="141.4" cy="681.4" rx="18.8" ry="18.8" fill="url(#gFat)"/>
<ellipse cx="265.7" cy="647.6" rx="21.4" ry="21.4" fill="url(#gFat)"/><ellipse cx="328.0" cy="598.4" rx="20.9" ry="20.9" fill="url(#gFat)"/><ellipse cx="357.0" cy="595.8" rx="21.0" ry="21.0" fill="url(#gFat)"/><ellipse cx="310.6" cy="622.4" rx="21.2" ry="21.2" fill="url(#gFat)"/><ellipse cx="355.3" cy="651.4" rx="20.2" ry="20.2" fill="url(#gFat)"/><ellipse cx="341.1" cy="678.0" rx="20.8" ry="20.8" fill="url(#gFat)"/><ellipse cx="281.5" cy="621.0" rx="19.7" ry="19.7" fill="url(#gFat)"/><ellipse cx="386.2" cy="649.4" rx="19.1" ry="19.1" fill="url(#gFat)"/><ellipse cx="355.1" cy="703.9" rx="20.9" ry="20.9" fill="url(#gFat)"/><ellipse cx="373.7" cy="623.3" rx="21.0" ry="21.0" fill="url(#gFat)"/><ellipse cx="279.4" cy="672.1" rx="20.0" ry="20.0" fill="url(#gFat)"/><ellipse cx="325.8" cy="647.9" rx="19.8" ry="19.8" fill="url(#gFat)"/><ellipse cx="327.6" cy="702.7" rx="20.2" ry="20.2" fill="url(#gFat)"/><ellipse cx="342.3" cy="626.0" rx="19.5" ry="19.5" fill="url(#gFat)"/><ellipse cx="297.4" cy="703.4" rx="20.6" ry="20.6" fill="url(#gFat)"/><ellipse cx="293.2" cy="646.2" rx="19.8" ry="19.8" fill="url(#gFat)"/><ellipse cx="372.0" cy="673.1" rx="19.3" ry="19.3" fill="url(#gFat)"/><ellipse cx="310.0" cy="672.8" rx="20.5" ry="20.5" fill="url(#gFat)"/>
<ellipse cx="490.8" cy="594.4" rx="20.5" ry="20.5" fill="url(#gFat)"/><ellipse cx="478.0" cy="622.8" rx="19.2" ry="19.2" fill="url(#gFat)"/><ellipse cx="430.8" cy="651.2" rx="20.0" ry="20.0" fill="url(#gFat)"/><ellipse cx="443.8" cy="672.2" rx="20.1" ry="20.1" fill="url(#gFat)"/><ellipse cx="459.2" cy="597.6" rx="18.4" ry="18.4" fill="url(#gFat)"/><ellipse cx="521.5" cy="649.5" rx="20.4" ry="20.4" fill="url(#gFat)"/><ellipse cx="517.1" cy="599.0" rx="20.3" ry="20.3" fill="url(#gFat)"/><ellipse cx="443.6" cy="621.4" rx="21.6" ry="21.6" fill="url(#gFat)"/><ellipse cx="477.2" cy="674.8" rx="19.0" ry="19.0" fill="url(#gFat)"/><ellipse cx="536.3" cy="677.5" rx="18.4" ry="18.4" fill="url(#gFat)"/><ellipse cx="507.0" cy="622.9" rx="19.7" ry="19.7" fill="url(#gFat)"/><ellipse cx="492.3" cy="698.6" rx="20.3" ry="20.3" fill="url(#gFat)"/><ellipse cx="535.8" cy="620.9" rx="19.7" ry="19.7" fill="url(#gFat)"/><ellipse cx="459.7" cy="703.6" rx="19.2" ry="19.2" fill="url(#gFat)"/><ellipse cx="460.1" cy="650.4" rx="18.2" ry="18.2" fill="url(#gFat)"/><ellipse cx="517.8" cy="699.3" rx="21.2" ry="21.2" fill="url(#gFat)"/><ellipse cx="491.0" cy="646.4" rx="18.1" ry="18.1" fill="url(#gFat)"/><ellipse cx="506.3" cy="677.3" rx="19.5" ry="19.5" fill="url(#gFat)"/>
</g>
<rect x="77" y="741" width="514" height="10" fill="#D9D1D1"/>
<rect x="77" y="752" width="514" height="68" fill="url(#gRes)"/>
<rect x="531" y="752" width="60" height="68" fill="url(#gResCorner)"/>
<ellipse cx="131.0" cy="797.0" rx="21.0" ry="16.0" fill="url(#gBlob)"/>
<ellipse cx="276.0" cy="790.0" rx="22.0" ry="16.0" fill="url(#gBlob)"/>
<ellipse cx="413.0" cy="790.0" rx="22.0" ry="15.0" fill="url(#gBlob)"/>
<ellipse cx="525.0" cy="797.0" rx="21.0" ry="15.0" fill="url(#gBlob)"/>
<ellipse cx="205.0" cy="768.0" rx="22.0" ry="10.0" fill="url(#gBlob)"/>
<ellipse cx="330.0" cy="770.0" rx="22.0" ry="10.0" fill="url(#gBlob)"/>
<ellipse cx="455.0" cy="766.0" rx="20.0" ry="9.0" fill="url(#gBlob)"/>
<ellipse cx="92" cy="803" rx="9" ry="13" fill="url(#gSpark)" opacity="0.85"/>
<ellipse cx="140" cy="770" rx="9" ry="13" fill="url(#gSpark)" opacity="0.85"/>
<ellipse cx="170" cy="790" rx="9" ry="13" fill="url(#gSpark)" opacity="0.85"/>
<ellipse cx="230" cy="780" rx="9" ry="13" fill="url(#gSpark)" opacity="0.85"/>
<ellipse cx="260" cy="805" rx="9" ry="13" fill="url(#gSpark)" opacity="0.85"/>
<ellipse cx="330" cy="795" rx="9" ry="13" fill="url(#gSpark)" opacity="0.85"/>
<ellipse cx="380" cy="776" rx="9" ry="13" fill="url(#gSpark)" opacity="0.85"/>
<ellipse cx="355" cy="805" rx="9" ry="13" fill="url(#gSpark)" opacity="0.85"/>
<ellipse cx="440" cy="812" rx="9" ry="13" fill="url(#gSpark)" opacity="0.85"/>
<ellipse cx="470" cy="790" rx="9" ry="13" fill="url(#gSpark)" opacity="0.85"/>
<ellipse cx="560" cy="800" rx="9" ry="13" fill="url(#gSpark)" opacity="0.85"/>
<ellipse cx="500" cy="770" rx="9" ry="13" fill="url(#gSpark)" opacity="0.85"/>
<rect x="77" y="819" width="514" height="15" fill="#A1090F"/>
<rect x="77" y="834" width="514" height="73" fill="#EC1C2E"/>
<g filter="url(#blur1)">
<polygon points="60.0,850.0 65.9,851.7 73.7,853.5 82.9,855.5 93.3,857.6 104.5,859.7 116.1,861.8 127.8,863.8 139.2,865.7 150.6,867.7 162.7,869.9 175.3,872.0 188.2,874.1 201.3,875.9 214.3,877.5 227.3,878.5 239.9,879.0 252.1,878.8 264.1,878.1 275.9,876.9 287.4,875.4 298.6,873.6 309.6,871.6 320.3,869.7 330.9,867.7 341.8,865.7 353.3,863.5 364.9,861.1 376.2,858.7 386.7,856.3 396.1,854.0 404.0,851.9 410.0,850.0 410.0,850.0 403.8,849.7 395.6,849.7 385.9,849.9 375.1,850.3 363.6,850.8 351.8,851.3 340.2,851.8 329.1,852.3 318.3,852.8 307.3,853.5 296.3,854.3 285.1,855.1 274.0,855.9 262.8,856.5 251.5,856.9 240.1,857.0 228.4,856.7 216.1,856.0 203.5,855.0 190.6,853.9 177.7,852.8 165.0,851.7 152.6,850.8 140.8,850.3 129.2,849.9 117.3,849.6 105.5,849.3 94.2,849.2 83.6,849.1 74.1,849.3 66.1,849.5 60.0,850.0" fill="#D30F1F" />
<polygon points="250.0,862.0 256.0,863.6 263.9,865.4 273.4,867.3 284.0,869.3 295.3,871.3 306.9,873.3 318.4,875.3 329.3,877.0 339.9,878.8 350.6,880.6 361.6,882.4 372.8,884.1 384.2,885.6 395.9,886.8 407.8,887.6 419.9,888.0 432.3,887.9 445.1,887.5 458.1,886.7 471.2,885.6 484.2,884.2 496.9,882.7 509.2,880.9 520.8,879.0 532.4,876.8 544.2,874.2 555.8,871.4 567.0,868.4 577.3,865.4 586.5,862.6 594.2,860.1 600.0,858.0 600.0,858.0 593.8,858.2 585.7,858.8 576.2,859.7 565.5,860.9 554.2,862.1 542.4,863.3 530.6,864.3 519.2,865.0 507.6,865.5 495.4,866.1 482.8,866.7 470.0,867.2 457.2,867.6 444.4,867.9 432.0,868.0 420.1,868.0 408.6,867.7 397.3,867.2 386.0,866.5 374.7,865.7 363.6,864.9 352.5,864.1 341.5,863.4 330.7,863.0 319.6,862.6 308.0,862.3 296.2,862.0 284.8,861.7 274.0,861.5 264.3,861.5 256.2,861.6 250.0,862.0" fill="#D30F1F" />
<polygon points="60.0,880.0 67.7,881.4 77.9,882.9 90.0,884.5 103.5,886.2 117.8,887.9 132.4,889.5 146.5,891.0 159.7,892.4 172.1,893.6 184.6,894.8 197.1,896.0 209.6,897.1 222.2,897.9 234.8,898.6 247.4,898.9 260.1,899.0 272.9,898.7 285.9,898.1 298.9,897.2 311.8,896.0 324.6,894.8 337.0,893.3 349.0,891.8 360.5,890.3 372.0,888.7 383.8,886.9 395.4,885.0 406.6,883.1 417.0,881.1 426.3,879.2 434.1,877.5 440.0,876.0 440.0,876.0 433.9,875.8 425.9,875.7 416.5,875.9 405.9,876.2 394.6,876.6 382.8,877.0 371.0,877.4 359.5,877.7 347.9,878.0 335.8,878.4 323.4,878.9 310.7,879.5 297.9,880.0 285.1,880.4 272.4,880.8 259.9,881.0 247.6,881.0 235.2,880.9 222.8,880.7 210.4,880.4 197.9,880.2 185.4,879.9 172.9,879.7 160.3,879.6 147.1,879.6 132.9,879.5 118.4,879.4 104.0,879.3 90.3,879.3 78.1,879.4 67.8,879.6 60.0,880.0" fill="#D30F1F" />
<polygon points="380.0,890.0 386.9,891.6 396.0,893.4 406.9,895.3 419.1,897.2 432.0,899.1 445.1,900.7 457.9,902.0 469.9,902.9 481.5,903.4 493.4,903.5 505.4,903.3 517.3,902.9 528.9,902.1 540.1,901.2 550.7,900.1 560.6,898.9 570.0,897.5 579.2,895.7 588.0,893.8 596.2,891.7 603.7,889.6 610.2,887.6 615.7,885.7 620.0,884.0 620.0,884.0 615.4,883.6 609.6,883.5 602.7,883.6 595.0,883.8 586.7,884.1 577.8,884.5 568.7,884.8 559.4,885.1 549.6,885.4 539.1,885.8 528.0,886.3 516.5,886.9 504.8,887.5 493.0,888.1 481.4,888.6 470.1,889.1 458.4,889.3 445.7,889.4 432.6,889.4 419.7,889.3 407.4,889.2 396.3,889.2 387.0,889.5 380.0,890.0" fill="#D30F1F" />
<polygon points="500.0,892.0 503.3,892.3 507.6,892.3 512.8,892.1 518.4,891.7 524.3,891.2 530.3,890.4 535.9,889.5 541.1,888.4 546.0,887.0 551.0,885.4 556.1,883.6 560.9,881.6 565.4,879.5 569.3,877.5 572.6,875.6 575.0,874.0 575.0,874.0 572.1,873.9 568.3,874.2 563.9,874.7 559.1,875.4 554.0,876.4 548.8,877.4 543.7,878.5 538.9,879.6 534.0,880.8 528.6,882.3 522.9,883.8 517.2,885.5 511.8,887.2 507.0,888.9 503.0,890.5 500.0,892.0" fill="#F23A45" />
</g>
<path d="M155,834 l-18,22" fill="none" stroke="#B80C1A" stroke-width="1.2" opacity="0.75"/>
<path d="M200,834 l30,25" fill="none" stroke="#B80C1A" stroke-width="1.2" opacity="0.75"/>
<path d="M300,846 l25,22" fill="none" stroke="#B80C1A" stroke-width="1.2" opacity="0.75"/>
<path d="M390,836 l-16,20" fill="none" stroke="#B80C1A" stroke-width="1.2" opacity="0.75"/>
<path d="M430,850 l28,22" fill="none" stroke="#B80C1A" stroke-width="1.2" opacity="0.75"/>
<path d="M510,836 l-20,26" fill="none" stroke="#B80C1A" stroke-width="1.2" opacity="0.75"/>
<path d="M560,850 l26,24" fill="none" stroke="#B80C1A" stroke-width="1.2" opacity="0.75"/>
<path d="M120,870 l-20,25" fill="none" stroke="#B80C1A" stroke-width="1.2" opacity="0.75"/>
<path d="M230,866 l22,24" fill="none" stroke="#B80C1A" stroke-width="1.2" opacity="0.75"/>
<path d="M340,874 l-22,24" fill="none" stroke="#B80C1A" stroke-width="1.2" opacity="0.75"/>
<path d="M400,880 l28,22" fill="none" stroke="#B80C1A" stroke-width="1.2" opacity="0.75"/>
<path d="M470,868 l-16,22" fill="none" stroke="#B80C1A" stroke-width="1.2" opacity="0.75"/>
<path d="M180,888 l-12,16" fill="none" stroke="#B80C1A" stroke-width="1.2" opacity="0.75"/>
<path d="M280,890 l20,16" fill="none" stroke="#B80C1A" stroke-width="1.2" opacity="0.75"/>
</g>
<g clip-path="url(#rf0)">
<polygon points="591.0,400.0 763.0,234.0 763.0,743.0 591.0,907.0" fill="#F8D4EC" />
<path d="M586.0,452.0 C591.7,446.7 607.7,431.8 620.0,420.0 C632.3,408.2 646.7,392.3 660.0,381.0 C673.3,369.7 688.3,362.2 700.0,352.0 C711.7,341.8 721.7,330.0 730.0,320.0 C738.3,310.0 743.7,298.0 750.0,292.0 C756.3,286.0 765.0,285.3 768.0,284.0 L768,200 L586,380 Z" fill="#F6AA9A" stroke="none" stroke-width="1" />
<circle cx="603.3" cy="412.1" r="14.0" fill="url(#gEpi)"/>
<circle cx="627.9" cy="388.4" r="14.0" fill="url(#gEpi)"/>
<circle cx="652.4" cy="364.7" r="14.0" fill="url(#gEpi)"/>
<circle cx="677.0" cy="341.0" r="14.0" fill="url(#gEpi)"/>
<circle cx="701.6" cy="317.3" r="14.0" fill="url(#gEpi)"/>
<circle cx="726.1" cy="293.6" r="14.0" fill="url(#gEpi)"/>
<circle cx="750.7" cy="269.9" r="14.0" fill="url(#gEpi)"/>
<path d="M682.1,431.5 q35.4,-35.4 70.8,-60.2" fill="none" stroke="#FFFFFF" stroke-width="1.6" opacity="0.85"/>
<path d="M728.8,396.3 q38.3,-38.3 76.5,-65.0" fill="none" stroke="#FFFFFF" stroke-width="1.6" opacity="0.85"/>
<path d="M595.2,515.6 q38.7,-38.7 77.5,-65.8" fill="none" stroke="#FFFFFF" stroke-width="1.6" opacity="0.85"/>
<path d="M685.9,417.9 q20.0,-20.0 40.1,-34.1" fill="none" stroke="#FFFFFF" stroke-width="1.6" opacity="0.85"/>
<path d="M659.6,481.6 q29.7,-29.7 59.5,-50.5" fill="none" stroke="#FFFFFF" stroke-width="1.6" opacity="0.85"/>
<path d="M674.9,485.7 q22.4,-22.4 44.8,-38.0" fill="none" stroke="#FFFFFF" stroke-width="1.6" opacity="0.85"/>
<path d="M631.9,457.7 q34.7,-34.7 69.5,-59.0" fill="none" stroke="#FFFFFF" stroke-width="1.6" opacity="0.85"/>
<path d="M614.3,479.0 q20.6,-20.6 41.2,-35.1" fill="none" stroke="#FFFFFF" stroke-width="1.6" opacity="0.85"/>
<path d="M681.3,473.3 q17.5,-17.5 35.1,-29.8" fill="none" stroke="#FFFFFF" stroke-width="1.6" opacity="0.85"/>
<path d="M718.4,439.7 q22.3,-22.3 44.7,-38.0" fill="none" stroke="#FFFFFF" stroke-width="1.6" opacity="0.85"/>
<path d="M734.6,383.0 q24.0,-24.0 48.0,-40.8" fill="none" stroke="#FFFFFF" stroke-width="1.6" opacity="0.85"/>
<path d="M731.6,407.6 q32.8,-32.8 65.5,-55.7" fill="none" stroke="#FFFFFF" stroke-width="1.6" opacity="0.85"/>
<polygon points="586.0,465.0 616.0,445.0 616.0,545.0 586.0,565.0" fill="#FFFFFF" opacity="0.6" filter="url(#blur5)"/>
<polygon points="586.0,558.0 768.0,428.0 768.0,437.0 586.0,567.0" fill="#D3CACD" />
<polygon points="586.0,567.0 768.0,437.0 763.0,592.0 738.0,618.0 698.0,660.0 658.0,694.0 619.0,728.0 591.0,754.0" fill="#FCE23E" />
<g clip-path="url(#fr0)">
<g filter="url(#blur1)"><polygon points="677.0,519.2 676.6,524.7 676.1,531.9 675.5,540.6 674.8,550.2 674.1,560.3 673.4,570.4 672.7,580.2 672.0,589.2 671.4,598.0 670.7,607.3 669.9,616.8 669.2,626.0 668.5,634.8 667.9,642.6 667.4,649.2 667.0,654.2 689.0,655.8 689.4,650.9 689.9,644.3 690.5,636.5 691.2,627.7 691.9,618.4 692.6,609.0 693.3,599.6 694.0,590.8 694.6,581.8 695.3,572.0 696.1,561.8 696.8,551.7 697.5,542.1 698.1,533.5 698.6,526.2 699.0,520.8" fill="#D6D0CC" /><polygon points="694.8,522.7 693.6,521.5 692.0,519.8 689.9,517.6 687.5,515.2 684.9,512.7 682.1,510.3 679.3,507.9 676.1,505.8 672.8,504.2 669.5,503.1 666.5,502.3 663.7,501.9 661.3,501.6 659.4,501.4 658.2,501.3 657.4,501.1 654.6,522.9 656.1,523.0 657.9,523.1 659.6,523.2 661.2,523.2 662.7,523.4 664.0,523.6 665.1,523.9 665.9,524.2 667.0,524.9 668.9,526.2 671.1,528.1 673.4,530.1 675.7,532.3 677.8,534.3 679.7,536.0 681.2,537.3" fill="#D6D0CC" /><polygon points="696.6,532.7 697.3,530.6 698.2,527.9 699.2,524.6 700.4,521.0 701.6,517.4 702.8,513.9 703.9,510.9 704.8,508.5 705.7,506.6 706.6,504.9 707.5,503.3 708.4,501.9 709.3,500.5 710.2,499.3 711.0,498.0 711.7,497.0 694.3,487.0 693.9,487.8 693.4,488.8 692.6,490.3 691.6,492.0 690.5,494.0 689.4,496.3 688.3,498.8 687.2,501.5 686.1,504.6 685.0,508.1 683.8,511.8 682.7,515.6 681.7,519.3 680.7,522.6 680.0,525.3 679.4,527.3" fill="#D6D0CC" /><polygon points="669.8,639.2 668.8,640.5 667.4,642.3 665.7,644.5 663.9,646.8 662.0,649.3 660.1,651.6 658.5,653.8 657.0,655.7 655.7,657.3 654.5,658.8 653.4,660.2 652.3,661.5 651.4,662.6 650.5,663.6 649.8,664.5 649.2,665.1 668.8,678.9 669.2,678.1 669.8,677.1 670.4,675.9 671.2,674.7 672.0,673.2 672.9,671.7 673.9,670.0 675.0,668.3 676.2,666.4 677.7,664.0 679.3,661.5 681.0,658.9 682.6,656.4 684.1,654.1 685.3,652.2 686.2,650.8" fill="#D6D0CC" /><polygon points="681.1,653.5 682.0,653.2 683.3,652.8 685.0,652.3 686.9,651.7 688.9,651.0 691.1,650.3 693.2,649.4 695.4,648.4 697.5,647.3 699.5,646.1 701.5,644.9 703.4,643.7 705.1,642.5 706.6,641.5 707.8,640.8 708.7,640.2 697.3,623.8 696.3,624.5 695.1,625.5 693.7,626.6 692.2,627.7 690.7,628.8 689.2,629.9 687.8,630.9 686.6,631.6 685.4,632.2 684.0,632.9 682.3,633.6 680.6,634.3 679.0,634.9 677.4,635.5 676.0,636.1 674.9,636.5" fill="#D6D0CC" /></g><polygon points="679.0,519.4 678.6,524.8 678.1,532.1 677.5,540.7 676.8,550.3 676.1,560.4 675.4,570.6 674.7,580.4 674.0,589.3 673.4,598.1 672.7,607.4 671.9,616.9 671.2,626.2 670.5,634.9 669.9,642.7 669.4,649.3 669.0,654.3 687.0,655.7 687.4,650.7 687.9,644.1 688.5,636.3 689.2,627.6 689.9,618.3 690.6,608.8 691.3,599.5 692.0,590.7 692.6,581.7 693.3,571.9 694.1,561.7 694.8,551.6 695.5,542.0 696.1,533.3 696.6,526.1 697.0,520.6" fill="#F3F1EF" /><polygon points="693.5,524.2 692.3,522.9 690.6,521.2 688.5,519.1 686.1,516.7 683.5,514.2 680.9,511.8 678.1,509.6 675.2,507.6 672.1,506.1 669.0,505.0 666.1,504.3 663.5,503.9 661.1,503.6 659.3,503.4 658.0,503.3 657.2,503.1 654.8,520.9 656.3,521.0 658.0,521.1 659.7,521.2 661.4,521.3 663.0,521.4 664.5,521.7 665.8,522.0 666.8,522.4 668.2,523.2 670.2,524.7 672.4,526.6 674.8,528.7 677.1,530.8 679.2,532.8 681.1,534.6 682.5,535.8" fill="#F3F1EF" /><polygon points="694.7,532.1 695.4,530.1 696.3,527.3 697.3,524.0 698.5,520.5 699.7,516.8 700.9,513.3 702.0,510.2 703.0,507.8 703.9,505.8 704.8,504.0 705.7,502.4 706.7,500.9 707.6,499.5 708.5,498.2 709.3,497.0 709.9,496.0 696.1,488.0 695.7,488.8 695.1,489.9 694.3,491.3 693.3,493.0 692.3,495.0 691.2,497.2 690.1,499.6 689.0,502.2 688.0,505.2 686.9,508.7 685.8,512.4 684.6,516.2 683.6,519.8 682.6,523.2 681.9,525.9 681.3,527.9" fill="#F3F1EF" /><polygon points="671.5,640.4 670.4,641.7 669.0,643.5 667.3,645.6 665.5,648.0 663.6,650.4 661.8,652.8 660.1,655.0 658.6,656.8 657.4,658.4 656.2,659.9 655.0,661.3 654.0,662.6 653.0,663.8 652.1,664.8 651.4,665.6 650.8,666.3 667.2,677.7 667.6,676.9 668.1,675.9 668.8,674.8 669.5,673.5 670.4,672.1 671.3,670.5 672.3,668.9 673.4,667.2 674.6,665.2 676.1,662.9 677.7,660.4 679.4,657.8 681.0,655.3 682.5,653.0 683.7,651.0 684.5,649.6" fill="#F3F1EF" /><polygon points="680.4,651.6 681.3,651.3 682.7,650.9 684.3,650.4 686.2,649.8 688.2,649.2 690.3,648.4 692.4,647.6 694.5,646.7 696.5,645.6 698.5,644.4 700.4,643.2 702.3,642.0 704.0,640.9 705.5,639.9 706.7,639.1 707.6,638.6 698.4,625.4 697.5,626.2 696.3,627.1 694.9,628.2 693.4,629.3 691.8,630.5 690.2,631.6 688.8,632.6 687.5,633.3 686.3,634.0 684.7,634.7 683.0,635.5 681.3,636.2 679.6,636.8 678.1,637.4 676.7,638.0 675.6,638.4" fill="#F3F1EF" />
<g filter="url(#blur1)"><polygon points="741.5,444.9 741.4,450.7 741.3,458.6 741.2,468.0 741.1,478.3 741.0,489.2 740.8,500.0 740.7,510.4 740.5,519.8 740.3,528.8 740.0,538.2 739.7,547.6 739.4,556.8 739.2,565.5 738.9,573.2 738.7,579.7 738.5,584.7 759.5,585.3 759.7,580.4 759.9,573.9 760.1,566.2 760.4,557.5 760.7,548.3 761.0,538.8 761.3,529.3 761.5,520.2 761.7,510.8 761.8,500.3 762.0,489.4 762.1,478.6 762.2,468.2 762.3,458.8 762.4,451.0 762.5,445.1" fill="#D6D0CC" /><polygon points="759.4,449.8 758.5,448.6 757.4,447.0 756.0,444.9 754.4,442.6 752.7,440.2 750.9,437.9 749.2,435.7 747.4,433.6 745.3,431.8 743.2,430.4 741.2,429.4 739.4,428.6 737.9,428.1 736.9,427.8 736.5,427.7 736.3,427.6 729.7,444.4 730.7,444.8 731.9,445.1 732.6,445.3 733.2,445.5 733.6,445.7 734.0,445.8 734.3,446.0 734.6,446.4 735.4,447.2 736.6,448.8 738.1,450.8 739.6,452.9 741.1,455.1 742.5,457.1 743.7,458.9 744.6,460.2" fill="#D6D0CC" /><polygon points="743.2,571.1 742.0,572.0 740.3,573.2 738.4,574.7 736.2,576.4 734.0,578.1 731.9,579.8 730.0,581.3 728.3,582.6 726.9,583.7 725.6,584.7 724.5,585.7 723.6,586.5 722.7,587.2 722.0,587.7 721.5,588.1 721.1,588.4 736.9,603.6 737.3,603.1 737.7,602.4 738.2,601.7 738.7,601.0 739.3,600.3 739.9,599.4 740.7,598.5 741.7,597.4 743.0,596.1 744.6,594.5 746.5,592.7 748.5,590.9 750.5,589.0 752.3,587.4 753.8,585.9 754.8,584.9" fill="#D6D0CC" /></g><polygon points="743.5,444.9 743.4,450.8 743.3,458.6 743.2,468.0 743.1,478.3 743.0,489.2 742.8,500.1 742.7,510.4 742.5,519.8 742.3,528.8 742.0,538.2 741.7,547.7 741.4,556.9 741.2,565.5 740.9,573.3 740.7,579.8 740.5,584.7 757.5,585.3 757.7,580.3 757.9,573.8 758.1,566.1 758.4,557.5 758.7,548.2 759.0,538.7 759.3,529.3 759.5,520.2 759.7,510.7 759.8,500.3 760.0,489.4 760.1,478.5 760.2,468.2 760.3,458.8 760.4,451.0 760.5,445.1" fill="#F3F1EF" /><polygon points="757.7,451.0 756.9,449.8 755.7,448.1 754.3,446.0 752.7,443.7 751.1,441.4 749.4,439.1 747.7,436.9 745.9,435.1 744.1,433.4 742.2,432.1 740.4,431.2 738.7,430.5 737.4,430.0 736.3,429.7 735.8,429.6 735.5,429.5 730.5,442.5 731.4,442.9 732.4,443.2 733.2,443.4 733.9,443.6 734.5,443.9 735.0,444.1 735.5,444.5 736.1,444.9 736.9,446.0 738.2,447.6 739.7,449.6 741.3,451.8 742.8,454.0 744.2,456.0 745.4,457.8 746.3,459.0" fill="#F3F1EF" /><polygon points="744.5,572.7 743.3,573.5 741.6,574.8 739.7,576.3 737.5,577.9 735.3,579.6 733.2,581.3 731.3,582.8 729.6,584.1 728.3,585.1 727.0,586.2 726.0,587.1 725.0,587.9 724.2,588.5 723.5,589.1 723.0,589.5 722.5,589.7 735.5,602.3 735.8,601.7 736.3,601.0 736.7,600.4 737.3,599.6 737.8,598.8 738.6,598.0 739.4,597.0 740.4,595.9 741.7,594.6 743.3,593.0 745.2,591.2 747.2,589.3 749.2,587.5 751.0,585.8 752.5,584.4 753.5,583.3" fill="#F3F1EF" />
<circle cx="600" cy="705" r="11" fill="url(#gFatPale)" opacity="0.8"/>
<circle cx="618" cy="728" r="11" fill="url(#gFatPale)" opacity="0.8"/>
<circle cx="640" cy="700" r="10" fill="url(#gFatPale)" opacity="0.8"/>
<circle cx="660" cy="690" r="10" fill="url(#gFatPale)" opacity="0.8"/>
<circle cx="605" cy="745" r="10" fill="url(#gFatPale)" opacity="0.8"/>
<ellipse cx="656.9" cy="641.1" rx="11.6" ry="15.4" fill="url(#gFat)"/><ellipse cx="619.7" cy="564.2" rx="11.4" ry="15.2" fill="url(#gFat)"/><ellipse cx="619.3" cy="602.1" rx="12.2" ry="16.3" fill="url(#gFat)"/><ellipse cx="628.7" cy="623.8" rx="12.5" ry="16.7" fill="url(#gFat)"/><ellipse cx="647.8" cy="584.8" rx="12.7" ry="16.9" fill="url(#gFat)"/><ellipse cx="630.1" cy="583.2" rx="12.8" ry="17.0" fill="url(#gFat)"/><ellipse cx="639.3" cy="605.1" rx="12.0" ry="16.0" fill="url(#gFat)"/><ellipse cx="613.3" cy="663.1" rx="11.5" ry="15.4" fill="url(#gFat)"/><ellipse cx="600.9" cy="601.9" rx="12.8" ry="17.0" fill="url(#gFat)"/><ellipse cx="657.8" cy="601.3" rx="11.4" ry="15.3" fill="url(#gFat)"/><ellipse cx="638.1" cy="562.0" rx="11.3" ry="15.0" fill="url(#gFat)"/><ellipse cx="629.2" cy="665.3" rx="10.9" ry="14.5" fill="url(#gFat)"/><ellipse cx="601.8" cy="644.1" rx="11.4" ry="15.1" fill="url(#gFat)"/><ellipse cx="649.2" cy="664.3" rx="11.4" ry="15.3" fill="url(#gFat)"/><ellipse cx="612.2" cy="583.0" rx="12.3" ry="16.4" fill="url(#gFat)"/><ellipse cx="621.0" cy="643.9" rx="11.7" ry="15.6" fill="url(#gFat)"/><ellipse cx="648.5" cy="624.0" rx="12.2" ry="16.3" fill="url(#gFat)"/><ellipse cx="610.8" cy="625.6" rx="11.1" ry="14.7" fill="url(#gFat)"/><ellipse cx="641.0" cy="643.6" rx="12.8" ry="17.1" fill="url(#gFat)"/>
<ellipse cx="695.7" cy="584.5" rx="12.3" ry="16.4" fill="url(#gFat)"/><ellipse cx="714.7" cy="543.0" rx="10.8" ry="14.4" fill="url(#gFat)"/><ellipse cx="712.7" cy="505.0" rx="11.7" ry="15.6" fill="url(#gFat)"/><ellipse cx="703.8" cy="561.3" rx="12.7" ry="17.0" fill="url(#gFat)"/><ellipse cx="706.1" cy="521.2" rx="12.6" ry="16.8" fill="url(#gFat)"/><ellipse cx="731.2" cy="582.2" rx="11.1" ry="14.8" fill="url(#gFat)"/><ellipse cx="723.3" cy="565.2" rx="11.3" ry="15.1" fill="url(#gFat)"/><ellipse cx="693.7" cy="542.6" rx="12.4" ry="16.5" fill="url(#gFat)"/><ellipse cx="730.8" cy="503.2" rx="12.6" ry="16.9" fill="url(#gFat)"/><ellipse cx="733.4" cy="541.6" rx="12.9" ry="17.2" fill="url(#gFat)"/><ellipse cx="723.5" cy="523.8" rx="10.8" ry="14.4" fill="url(#gFat)"/><ellipse cx="713.6" cy="584.4" rx="12.5" ry="16.6" fill="url(#gFat)"/>
</g>
<rect x="757" y="436" width="6" height="154" fill="#F3A53C"/>
<polygon points="591.0,754.0 619.0,728.0 658.0,694.0 698.0,660.0 738.0,618.0 763.0,592.0 768.0,662.0 586.0,825.0" fill="url(#gResR)" />
<ellipse cx="600.6" cy="757.8" rx="10.6" ry="10.0" fill="url(#gBlobPale)" opacity="0.9"/>
<ellipse cx="619.7" cy="738.5" rx="9.6" ry="10.9" fill="url(#gBlobPale)" opacity="0.9"/>
<ellipse cx="638.8" cy="729.4" rx="12.1" ry="9.6" fill="url(#gBlobPale)" opacity="0.9"/>
<ellipse cx="657.9" cy="708.4" rx="11.5" ry="12.4" fill="url(#gBlobPale)" opacity="0.9"/>
<ellipse cx="677.0" cy="711.0" rx="13.8" ry="9.7" fill="url(#gBlobPale)" opacity="0.9"/>
<ellipse cx="696.1" cy="665.1" rx="11.5" ry="12.3" fill="url(#gBlobPale)" opacity="0.9"/>
<ellipse cx="715.2" cy="668.7" rx="10.6" ry="9.3" fill="url(#gBlobPale)" opacity="0.9"/>
<ellipse cx="734.3" cy="629.4" rx="11.7" ry="9.8" fill="url(#gBlobPale)" opacity="0.9"/>
<ellipse cx="753.4" cy="631.5" rx="9.4" ry="9.8" fill="url(#gBlobPale)" opacity="0.9"/>
<circle cx="687.3" cy="678.9" r="6" fill="url(#gSpark)"/>
<circle cx="712.1" cy="665.8" r="6" fill="url(#gSpark)"/>
<circle cx="735.4" cy="616.2" r="6" fill="url(#gSpark)"/>
<circle cx="718.2" cy="639.9" r="6" fill="url(#gSpark)"/>
<circle cx="737.2" cy="641.1" r="6" fill="url(#gSpark)"/>
<circle cx="670.3" cy="706.1" r="6" fill="url(#gSpark)"/>
<circle cx="725.4" cy="639.1" r="6" fill="url(#gSpark)"/>
<polygon points="586.0,823.0 768.0,655.0 768.0,668.0 586.0,838.0" fill="#A1090F" />
<polygon points="586.0,836.0 768.0,666.0 768.0,743.0 586.0,910.0" fill="url(#gMuscleR)" />
<path d="M603,905 l22,-40" fill="none" stroke="#B00A18" stroke-width="1.3" opacity="0.7"/>
<path d="M606,845 l40,25" fill="none" stroke="#B00A18" stroke-width="1.3" opacity="0.7"/>
<path d="M651,855 l22,-42" fill="none" stroke="#B00A18" stroke-width="1.3" opacity="0.7"/>
<path d="M666,790 l40,22" fill="none" stroke="#B00A18" stroke-width="1.3" opacity="0.7"/>
<path d="M706,808 l20,-45" fill="none" stroke="#B00A18" stroke-width="1.3" opacity="0.7"/>
<path d="M711,745 l35,20" fill="none" stroke="#B00A18" stroke-width="1.3" opacity="0.7"/>
<path d="M741,760 l14,-40" fill="none" stroke="#B00A18" stroke-width="1.3" opacity="0.7"/>
</g>
<g clip-path="url(#ff0)">
<polygon points="217.4,459.8 215.4,458.3 212.8,456.3 209.7,453.9 206.2,451.3 202.5,448.5 198.8,445.7 195.2,443.1 191.8,440.7 188.5,438.5 185.1,436.2 181.6,433.8 178.1,431.6 174.8,429.5 171.6,427.7 168.6,426.1 165.9,425.0 163.5,424.5 161.4,424.4 159.6,424.8 158.1,425.5 156.7,426.2 155.5,426.8 154.4,427.2 153.2,427.4 151.7,427.4 150.3,427.4 148.8,427.4 147.3,427.3 145.9,427.0 144.5,426.7 143.0,426.1 141.5,425.4 140.0,424.3 138.4,423.0 136.8,421.4 135.1,419.7 133.4,417.9 131.7,416.1 130.0,414.4 128.3,412.8 126.5,411.3 124.6,409.8 122.7,408.3 120.8,406.8 119.0,405.4 117.3,404.2 116.0,403.2 114.9,402.4 114.1,403.6 115.1,404.4 116.4,405.4 118.0,406.7 119.8,408.0 121.7,409.5 123.6,411.1 125.5,412.6 127.2,414.1 128.8,415.6 130.5,417.3 132.1,419.1 133.8,421.0 135.5,422.7 137.1,424.4 138.8,425.9 140.5,427.0 142.2,427.9 143.8,428.6 145.5,429.0 147.1,429.3 148.6,429.5 150.2,429.6 151.7,429.6 153.3,429.6 155.0,429.4 156.5,428.9 157.8,428.2 159.0,427.6 160.3,427.1 161.6,426.8 163.2,426.9 165.1,427.4 167.5,428.4 170.3,429.9 173.4,431.7 176.7,433.8 180.1,436.0 183.6,438.4 187.0,440.7 190.2,443.0 193.6,445.3 197.1,448.0 200.8,450.8 204.5,453.5 207.9,456.2 211.0,458.6 213.6,460.7 215.6,462.2" fill="#F5C41E" /><polygon points="217.4,462.2 219.4,460.7 222.0,458.6 225.1,456.2 228.5,453.5 232.2,450.8 235.9,448.0 239.4,445.3 242.8,443.0 246.0,440.7 249.4,438.4 252.9,436.0 256.3,433.8 259.6,431.7 262.7,429.9 265.5,428.4 267.9,427.4 269.8,426.9 271.4,426.8 272.7,427.1 274.0,427.6 275.2,428.2 276.5,428.9 278.0,429.4 279.7,429.6 281.3,429.6 282.8,429.6 284.4,429.5 285.9,429.3 287.5,429.0 289.2,428.6 290.8,427.9 292.5,427.0 294.2,425.9 295.9,424.4 297.5,422.7 299.2,421.0 300.9,419.1 302.5,417.3 304.2,415.6 305.8,414.1 307.5,412.6 309.4,411.1 311.3,409.5 313.2,408.0 315.0,406.7 316.6,405.4 317.9,404.4 318.9,403.6 318.1,402.4 317.0,403.2 315.7,404.2 314.0,405.4 312.2,406.8 310.3,408.3 308.4,409.8 306.5,411.3 304.7,412.8 303.0,414.4 301.3,416.1 299.6,417.9 297.9,419.7 296.2,421.4 294.6,423.0 293.0,424.3 291.5,425.4 290.0,426.1 288.5,426.7 287.1,427.0 285.7,427.3 284.2,427.4 282.7,427.4 281.3,427.4 279.8,427.4 278.6,427.2 277.5,426.8 276.3,426.2 274.9,425.5 273.4,424.8 271.6,424.4 269.5,424.5 267.1,425.0 264.4,426.1 261.4,427.7 258.2,429.5 254.9,431.6 251.4,433.8 247.9,436.2 244.5,438.5 241.2,440.7 237.8,443.1 234.2,445.7 230.5,448.5 226.8,451.3 223.3,453.9 220.2,456.3 217.6,458.3 215.6,459.8" fill="#F5C41E" /><path d="M165.5,426.2 C168.4,422.2 179.0,418.3 179.0,406.4" fill="none" stroke="#F5C41E" stroke-width="1.2" stroke-linecap="round" opacity="0.9"/><path d="M165.5,426.2 C166.1,422.2 168.9,417.3 168.9,404.0" fill="none" stroke="#F5C41E" stroke-width="1.2" stroke-linecap="round" opacity="0.9"/><path d="M165.5,426.2 C163.8,422.2 156.9,417.6 156.9,404.8" fill="none" stroke="#F5C41E" stroke-width="1.2" stroke-linecap="round" opacity="0.9"/><path d="M141.0,426.2 C143.5,422.2 153.6,418.2 153.6,406.2" fill="none" stroke="#F5C41E" stroke-width="1.2" stroke-linecap="round" opacity="0.9"/><path d="M141.0,426.2 C141.5,422.2 142.7,417.0 142.7,403.1" fill="none" stroke="#F5C41E" stroke-width="1.2" stroke-linecap="round" opacity="0.9"/><path d="M141.0,426.2 C139.6,422.2 134.3,417.6 134.3,404.7" fill="none" stroke="#F5C41E" stroke-width="1.2" stroke-linecap="round" opacity="0.9"/><path d="M216.5,461.0 C212.0,443.6 194.1,432.0 194.1,411.7" fill="none" stroke="#F5C41E" stroke-width="1.2" stroke-linecap="round" opacity="0.9"/><path d="M216.5,461.0 C209.8,443.6 182.8,432.0 182.8,420.4" fill="none" stroke="#F5C41E" stroke-width="1.2" stroke-linecap="round" opacity="0.9"/><path d="M267.5,426.2 C264.6,422.2 253.7,416.9 253.7,403.0" fill="none" stroke="#F5C41E" stroke-width="1.2" stroke-linecap="round" opacity="0.9"/><path d="M267.5,426.2 C266.9,422.2 264.5,418.1 264.5,405.9" fill="none" stroke="#F5C41E" stroke-width="1.2" stroke-linecap="round" opacity="0.9"/><path d="M267.5,426.2 C269.2,422.2 275.5,418.4 275.5,406.8" fill="none" stroke="#F5C41E" stroke-width="1.2" stroke-linecap="round" opacity="0.9"/><path d="M292.0,426.2 C289.5,422.2 280.5,417.0 280.5,403.1" fill="none" stroke="#F5C41E" stroke-width="1.2" stroke-linecap="round" opacity="0.9"/><path d="M292.0,426.2 C291.5,422.2 288.6,417.8 288.6,405.2" fill="none" stroke="#F5C41E" stroke-width="1.2" stroke-linecap="round" opacity="0.9"/><path d="M292.0,426.2 C293.4,422.2 300.2,417.5 300.2,404.5" fill="none" stroke="#F5C41E" stroke-width="1.2" stroke-linecap="round" opacity="0.9"/><path d="M216.5,461.0 C221.0,443.6 238.9,432.0 238.9,411.7" fill="none" stroke="#F5C41E" stroke-width="1.2" stroke-linecap="round" opacity="0.9"/><path d="M216.5,461.0 C223.2,443.6 250.2,432.0 250.2,420.4" fill="none" stroke="#F5C41E" stroke-width="1.2" stroke-linecap="round" opacity="0.9"/><polygon points="215.2,460.6 214.3,463.6 213.1,467.6 211.5,472.3 209.9,477.6 208.1,483.2 206.5,488.9 205.0,494.5 203.8,499.8 202.9,504.8 202.1,510.1 201.4,515.4 200.8,520.7 200.3,525.9 199.8,530.9 199.3,535.6 198.9,539.9 198.5,544.0 198.2,548.0 197.9,551.8 197.7,555.4 197.5,558.7 197.3,561.6 197.2,564.0 197.0,565.9 199.0,566.1 199.1,564.2 199.3,561.7 199.5,558.8 199.7,555.6 200.0,552.0 200.3,548.2 200.7,544.2 201.1,540.1 201.5,535.8 202.0,531.1 202.5,526.1 203.0,520.9 203.7,515.7 204.4,510.4 205.2,505.3 206.2,500.2 207.4,495.1 208.9,489.6 210.5,483.9 212.3,478.4 214.0,473.1 215.5,468.4 216.8,464.4 217.8,461.4" fill="#F5C41E" />
<polygon points="453.0,463.5 451.0,462.0 448.5,459.8 445.4,457.3 442.0,454.5 438.4,451.5 434.7,448.6 431.1,445.8 427.8,443.2 424.6,440.9 421.2,438.4 417.8,435.9 414.4,433.5 411.1,431.3 408.0,429.3 405.1,427.7 402.4,426.5 400.1,425.9 398.0,425.9 396.2,426.3 394.7,427.0 393.4,427.7 392.2,428.4 391.1,428.9 389.9,429.0 388.5,429.1 387.1,429.1 385.6,429.0 384.2,428.9 382.8,428.6 381.4,428.2 380.0,427.7 378.5,426.9 377.0,425.8 375.5,424.3 373.9,422.7 372.3,420.8 370.6,418.9 368.9,417.0 367.3,415.2 365.6,413.5 363.8,411.9 362.0,410.3 360.1,408.7 358.2,407.1 356.4,405.7 354.8,404.4 353.5,403.3 352.5,402.4 351.5,403.6 352.5,404.4 353.9,405.5 355.4,406.8 357.2,408.3 359.0,409.9 360.9,411.5 362.7,413.1 364.4,414.7 366.0,416.4 367.6,418.2 369.2,420.1 370.9,422.0 372.5,423.9 374.2,425.7 375.8,427.2 377.5,428.5 379.1,429.4 380.7,430.1 382.3,430.6 383.9,431.0 385.5,431.1 387.0,431.2 388.5,431.2 390.1,431.3 391.7,431.0 393.2,430.5 394.5,429.8 395.7,429.1 396.9,428.6 398.2,428.3 399.7,428.3 401.6,428.8 403.9,429.9 406.7,431.5 409.7,433.4 412.9,435.7 416.3,438.1 419.7,440.5 423.0,443.0 426.2,445.4 429.4,447.9 433.0,450.7 436.6,453.7 440.1,456.7 443.5,459.5 446.6,462.1 449.1,464.2 451.0,465.9" fill="#F5C41E" /><polygon points="453.0,465.9 454.9,464.2 457.4,462.1 460.5,459.5 463.9,456.7 467.4,453.7 471.0,450.7 474.6,447.9 477.8,445.4 481.0,443.0 484.3,440.5 487.7,438.1 491.1,435.7 494.3,433.4 497.3,431.5 500.1,429.9 502.4,428.8 504.3,428.3 505.8,428.3 507.1,428.6 508.3,429.1 509.5,429.8 510.8,430.5 512.3,431.0 513.9,431.3 515.5,431.2 517.0,431.2 518.5,431.1 520.1,431.0 521.7,430.6 523.3,430.1 524.9,429.4 526.5,428.5 528.2,427.2 529.8,425.7 531.5,423.9 533.1,422.0 534.8,420.1 536.4,418.2 538.0,416.4 539.6,414.7 541.3,413.1 543.1,411.5 545.0,409.9 546.8,408.3 548.6,406.8 550.1,405.5 551.5,404.4 552.5,403.6 551.5,402.4 550.5,403.3 549.2,404.4 547.6,405.7 545.8,407.1 543.9,408.7 542.0,410.3 540.2,411.9 538.4,413.5 536.7,415.2 535.1,417.0 533.4,418.9 531.7,420.8 530.1,422.7 528.5,424.3 527.0,425.8 525.5,426.9 524.0,427.7 522.6,428.2 521.2,428.6 519.8,428.9 518.4,429.0 516.9,429.1 515.5,429.1 514.1,429.0 512.9,428.9 511.8,428.4 510.6,427.7 509.3,427.0 507.8,426.3 506.0,425.9 503.9,425.9 501.6,426.5 498.9,427.7 496.0,429.3 492.9,431.3 489.6,433.5 486.2,435.9 482.8,438.4 479.4,440.9 476.2,443.2 472.9,445.8 469.3,448.6 465.6,451.5 462.0,454.5 458.6,457.3 455.5,459.8 453.0,462.0 451.0,463.5" fill="#F5C41E" /><path d="M402.0,427.7 C404.8,423.7 416.9,419.3 416.9,406.8" fill="none" stroke="#F5C41E" stroke-width="1.2" stroke-linecap="round" opacity="0.9"/><path d="M402.0,427.7 C402.6,423.7 403.9,417.9 403.9,403.3" fill="none" stroke="#F5C41E" stroke-width="1.2" stroke-linecap="round" opacity="0.9"/><path d="M402.0,427.7 C400.3,423.7 394.3,419.0 394.3,405.9" fill="none" stroke="#F5C41E" stroke-width="1.2" stroke-linecap="round" opacity="0.9"/><path d="M378.0,427.7 C380.4,423.7 390.3,418.3 390.3,404.2" fill="none" stroke="#F5C41E" stroke-width="1.2" stroke-linecap="round" opacity="0.9"/><path d="M378.0,427.7 C378.5,423.7 380.6,418.8 380.6,405.4" fill="none" stroke="#F5C41E" stroke-width="1.2" stroke-linecap="round" opacity="0.9"/><path d="M378.0,427.7 C376.6,423.7 371.0,418.1 371.0,403.6" fill="none" stroke="#F5C41E" stroke-width="1.2" stroke-linecap="round" opacity="0.9"/><path d="M452.0,464.7 C447.6,446.2 430.0,433.9 430.0,412.3" fill="none" stroke="#F5C41E" stroke-width="1.2" stroke-linecap="round" opacity="0.9"/><path d="M452.0,464.7 C445.4,446.2 419.0,433.9 419.0,421.5" fill="none" stroke="#F5C41E" stroke-width="1.2" stroke-linecap="round" opacity="0.9"/><path d="M502.0,427.7 C499.2,423.7 487.9,418.4 487.9,404.6" fill="none" stroke="#F5C41E" stroke-width="1.2" stroke-linecap="round" opacity="0.9"/><path d="M502.0,427.7 C501.4,423.7 499.6,419.4 499.6,407.0" fill="none" stroke="#F5C41E" stroke-width="1.2" stroke-linecap="round" opacity="0.9"/><path d="M502.0,427.7 C503.7,423.7 511.3,418.7 511.3,405.2" fill="none" stroke="#F5C41E" stroke-width="1.2" stroke-linecap="round" opacity="0.9"/><path d="M526.0,427.7 C523.6,423.7 513.9,418.2 513.9,404.1" fill="none" stroke="#F5C41E" stroke-width="1.2" stroke-linecap="round" opacity="0.9"/><path d="M526.0,427.7 C525.5,423.7 522.7,417.9 522.7,403.1" fill="none" stroke="#F5C41E" stroke-width="1.2" stroke-linecap="round" opacity="0.9"/><path d="M526.0,427.7 C527.4,423.7 533.1,418.3 533.1,404.3" fill="none" stroke="#F5C41E" stroke-width="1.2" stroke-linecap="round" opacity="0.9"/><path d="M452.0,464.7 C456.4,446.2 474.0,433.9 474.0,412.3" fill="none" stroke="#F5C41E" stroke-width="1.2" stroke-linecap="round" opacity="0.9"/><path d="M452.0,464.7 C458.6,446.2 485.0,433.9 485.0,421.5" fill="none" stroke="#F5C41E" stroke-width="1.2" stroke-linecap="round" opacity="0.9"/><polygon points="450.7,464.4 449.8,467.9 448.5,472.8 447.1,478.5 445.4,484.8 443.7,491.5 442.0,498.0 440.3,504.2 438.8,509.7 437.5,514.6 436.1,519.5 434.7,524.2 433.3,528.7 432.1,533.0 430.9,537.2 429.8,541.1 428.9,544.8 428.2,548.2 427.7,551.6 427.2,554.7 426.9,557.6 426.6,560.2 426.4,562.5 426.2,564.4 426.0,565.9 428.0,566.1 428.2,564.6 428.4,562.7 428.6,560.4 428.9,557.8 429.3,555.0 429.7,551.9 430.3,548.6 431.1,545.2 432.0,541.6 433.0,537.8 434.2,533.7 435.5,529.3 436.9,524.8 438.3,520.1 439.7,515.3 441.2,510.3 442.7,504.8 444.3,498.7 446.1,492.1 447.8,485.5 449.5,479.1 451.0,473.4 452.3,468.6 453.3,465.0" fill="#F5C41E" />
<polygon points="178.8,589.8 177.5,584.3 175.8,576.8 173.8,567.8 171.6,558.0 169.1,547.7 166.4,537.5 163.6,528.1 160.6,519.8 157.3,512.3 153.5,505.1 149.5,498.2 145.3,491.6 141.1,485.4 137.1,479.7 133.5,474.4 130.4,469.7 127.8,465.6 125.5,461.9 123.4,458.8 121.5,456.1 119.9,453.8 118.5,451.8 117.3,450.2 116.3,448.8 115.7,449.2 116.6,450.7 117.8,452.3 119.2,454.3 120.7,456.6 122.6,459.3 124.6,462.5 127.0,466.1 129.6,470.3 132.6,475.0 136.2,480.3 140.1,486.1 144.2,492.3 148.4,498.8 152.4,505.7 156.1,512.9 159.4,520.2 162.3,528.5 165.1,537.9 167.7,548.0 170.2,558.3 172.4,568.2 174.3,577.1 175.9,584.6 177.2,590.2" fill="#2D6AD8" /><polygon points="158.8,519.8 158.1,517.8 157.3,515.2 156.2,512.0 155.1,508.5 153.9,504.9 152.7,501.3 151.6,497.9 150.6,494.8 149.6,491.9 148.5,489.0 147.5,486.1 146.5,483.3 145.5,480.7 144.7,478.3 143.9,476.4 143.4,474.9 142.6,475.1 143.1,476.7 143.8,478.6 144.6,481.0 145.5,483.6 146.5,486.4 147.5,489.4 148.5,492.3 149.4,495.2 150.4,498.3 151.5,501.7 152.6,505.3 153.8,509.0 154.9,512.5 155.8,515.6 156.6,518.3 157.2,520.2" fill="#2D6AD8" /><polygon points="186.6,560.5 188.4,558.4 190.8,555.2 193.5,551.2 196.6,547.2 199.9,543.6 203.3,541.0 206.5,539.8 209.7,540.5 213.3,543.8 217.5,549.5 222.0,556.8 226.6,565.0 230.9,573.4 234.9,581.2 238.2,587.7 240.6,592.2 241.4,591.8 238.9,587.3 235.7,580.8 231.8,572.9 227.4,564.5 222.9,556.2 218.4,548.9 214.2,543.0 210.3,539.5 206.5,538.6 202.6,539.8 199.0,542.6 195.5,546.3 192.4,550.4 189.5,554.3 187.2,557.5 185.4,559.5" fill="#2D6AD8" /><polygon points="155.7,691.6 152.1,685.0 147.3,675.8 141.5,664.8 135.2,652.7 128.6,640.4 122.0,628.7 115.9,618.1 110.5,609.7 105.5,602.9 100.5,597.2 95.7,592.2 91.0,588.0 86.7,584.4 82.9,581.4 79.7,578.9 77.3,576.7 76.7,577.3 79.2,579.5 82.4,582.1 86.1,585.2 90.4,588.8 94.9,593.0 99.7,597.9 104.6,603.7 109.5,610.3 114.8,618.8 120.9,629.3 127.4,641.1 133.9,653.4 140.3,665.4 146.0,676.5 150.8,685.7 154.3,692.4" fill="#2D6AD8" /><polygon points="150.8,699.9 150.0,693.6 148.9,685.0 147.7,674.8 146.3,663.5 144.8,651.7 143.3,640.2 141.9,629.4 140.6,619.9 139.3,611.3 138.0,602.7 136.7,594.4 135.4,586.4 134.1,579.1 133.0,572.6 132.1,567.2 131.4,562.9 130.6,563.1 131.3,567.3 132.1,572.8 133.2,579.3 134.4,586.6 135.6,594.5 136.9,602.9 138.2,611.5 139.4,620.1 140.7,629.5 142.0,640.3 143.4,651.9 144.9,663.6 146.2,674.9 147.4,685.2 148.5,693.8 149.2,700.1" fill="#2D6AD8" /><polygon points="195.6,545.5 197.2,543.5 199.3,540.9 201.9,537.7 204.7,534.2 207.7,530.5 210.5,526.9 213.2,523.4 215.5,520.4 217.5,517.5 219.5,514.5 221.4,511.5 223.2,508.7 224.8,506.1 226.2,503.7 227.4,501.7 228.3,500.2 227.7,499.8 226.7,501.3 225.4,503.2 224.0,505.6 222.3,508.2 220.5,511.0 218.6,513.9 216.6,516.8 214.5,519.6 212.2,522.7 209.5,526.1 206.6,529.7 203.6,533.3 200.8,536.8 198.2,539.9 196.0,542.5 194.4,544.5" fill="#2D6AD8" /><polygon points="144.8,752.2 145.4,747.6 146.1,741.5 146.9,734.3 147.9,726.2 149.1,717.5 150.4,708.5 151.9,699.3 153.5,690.3 155.5,681.0 157.9,670.8 160.5,660.2 163.2,649.4 166.0,638.7 168.7,628.5 171.1,618.9 173.3,610.3 175.1,603.1 176.8,597.1 178.2,591.9 179.6,587.0 180.9,582.1 182.3,576.8 183.6,570.6 185.1,563.2 186.6,554.4 188.0,544.6 189.4,534.1 190.8,523.1 192.3,512.0 193.9,500.9 195.8,490.2 197.9,480.2 200.4,470.3 203.4,460.0 206.7,449.6 210.0,439.6 213.3,430.1 216.3,421.7 218.8,414.6 220.6,409.2 219.4,408.8 217.5,414.2 215.0,421.2 211.9,429.7 208.6,439.1 205.1,449.1 201.8,459.5 198.7,469.8 196.1,479.8 194.0,489.9 192.1,500.6 190.4,511.7 188.8,522.9 187.3,533.8 185.9,544.4 184.4,554.1 182.9,562.8 181.4,570.1 180.0,576.2 178.6,581.5 177.3,586.4 175.8,591.2 174.3,596.4 172.6,602.5 170.7,609.7 168.5,618.2 166.0,627.7 163.2,638.0 160.4,648.7 157.6,659.5 154.9,670.1 152.5,680.3 150.5,689.7 148.7,698.8 147.2,708.0 145.8,717.1 144.6,725.8 143.5,733.9 142.6,741.1 141.9,747.1 141.2,751.8" fill="#2D6AD8" />
<polygon points="285.7,600.4 287.6,596.9 290.1,592.1 293.1,586.5 296.4,580.3 299.9,573.7 303.5,567.2 307.1,561.0 310.5,555.3 314.0,549.9 317.9,544.2 321.9,538.5 326.0,533.0 329.8,527.8 333.3,523.1 336.2,519.2 338.3,516.2 337.7,515.8 335.5,518.7 332.5,522.6 329.0,527.2 325.2,532.4 321.1,537.9 317.0,543.6 313.1,549.3 309.5,554.7 306.0,560.3 302.4,566.6 298.7,573.1 295.1,579.6 291.8,585.8 288.8,591.4 286.2,596.1 284.3,599.6" fill="#E0141C" /><polygon points="283.8,623.2 281.9,623.7 279.4,624.5 276.3,625.3 273.0,626.3 269.5,627.2 266.1,628.1 262.8,628.8 259.9,629.4 257.2,629.8 254.4,630.1 251.6,630.3 249.0,630.4 246.5,630.4 244.3,630.5 242.4,630.5 241.0,630.6 241.0,631.4 242.4,631.4 244.3,631.4 246.5,631.4 249.0,631.4 251.7,631.3 254.5,631.2 257.3,630.9 260.1,630.6 263.1,630.1 266.4,629.3 269.9,628.5 273.4,627.6 276.7,626.7 279.8,625.9 282.3,625.2 284.2,624.8" fill="#E0141C" /><polygon points="300.6,670.6 302.8,668.2 305.6,665.0 309.0,661.3 312.8,657.2 316.9,652.8 321.3,648.5 325.8,644.3 330.4,640.5 335.5,636.8 341.3,632.9 347.7,628.9 354.1,625.1 360.3,621.4 366.0,618.2 370.7,615.4 374.2,613.3 373.8,612.7 370.3,614.7 365.5,617.4 359.9,620.6 353.6,624.2 347.1,628.0 340.8,631.9 334.8,635.8 329.6,639.5 325.0,643.3 320.4,647.5 315.9,651.9 311.7,656.2 307.9,660.3 304.5,664.0 301.7,667.1 299.4,669.4" fill="#E0141C" /><polygon points="295.8,570.2 296.5,567.8 297.6,564.5 298.8,560.5 300.2,556.2 301.7,551.7 303.1,547.4 304.4,543.4 305.6,540.2 306.6,537.5 307.6,535.1 308.6,532.8 309.6,530.8 310.4,529.1 311.2,527.6 311.9,526.2 312.4,525.2 311.6,524.8 311.1,525.9 310.4,527.1 309.6,528.6 308.7,530.4 307.7,532.4 306.6,534.6 305.5,537.1 304.4,539.8 303.2,543.0 301.9,546.9 300.4,551.3 298.9,555.7 297.5,560.1 296.2,564.0 295.1,567.3 294.2,569.8" fill="#E0141C" /><polygon points="317.7,737.5 316.5,733.0 314.8,727.1 312.8,720.0 310.6,712.1 308.3,703.7 305.9,695.3 303.6,687.1 301.5,679.6 299.4,672.5 297.2,665.4 295.0,658.4 292.8,651.4 290.7,644.4 288.7,637.5 286.8,630.6 285.2,623.7 283.7,616.8 282.4,609.8 281.2,602.8 280.1,595.8 279.2,588.9 278.3,582.3 277.6,575.9 276.9,569.9 276.4,564.1 276.1,558.2 275.9,552.5 275.8,547.1 275.8,542.1 275.7,537.7 275.7,533.9 275.6,531.0 274.4,531.0 274.3,533.9 274.3,537.7 274.2,542.1 274.2,547.1 274.2,552.6 274.4,558.3 274.6,564.2 275.1,570.1 275.6,576.1 276.3,582.5 277.1,589.2 278.0,596.1 279.0,603.1 280.1,610.2 281.4,617.3 282.8,624.3 284.4,631.2 286.2,638.2 288.1,645.1 290.2,652.1 292.3,659.2 294.4,666.2 296.5,673.3 298.5,680.4 300.6,688.0 302.8,696.1 305.1,704.6 307.4,712.9 309.5,720.9 311.5,728.0 313.1,734.0 314.3,738.5" fill="#E0141C" />
<polygon points="404.6,580.5 406.6,577.8 409.2,574.2 412.2,569.9 415.6,565.2 419.3,560.1 423.1,555.0 426.8,550.0 430.5,545.4 434.3,540.7 438.5,535.6 443.0,530.3 447.5,525.1 451.8,520.2 455.7,515.8 458.9,512.1 461.3,509.3 460.7,508.7 458.3,511.5 455.0,515.2 451.1,519.6 446.7,524.5 442.2,529.6 437.7,534.9 433.4,539.9 429.5,544.6 425.8,549.3 422.0,554.2 418.2,559.3 414.5,564.3 411.0,569.1 407.9,573.3 405.3,576.9 403.4,579.5" fill="#E0141C" /><polygon points="420.5,660.6 423.2,658.2 426.7,655.0 431.0,651.1 435.7,646.8 440.6,642.4 445.7,638.1 450.7,634.0 455.3,630.5 460.1,627.3 465.3,624.1 470.6,621.0 475.9,618.1 481.0,615.4 485.5,613.0 489.3,610.9 492.2,609.4 491.8,608.6 488.9,610.2 485.1,612.2 480.5,614.5 475.5,617.2 470.1,620.1 464.7,623.2 459.5,626.3 454.7,629.5 449.9,633.0 444.9,637.1 439.7,641.4 434.7,645.8 430.0,650.0 425.7,653.8 422.2,657.0 419.5,659.4" fill="#E0141C" /><polygon points="441.8,751.7 441.1,747.9 440.2,742.9 439.3,737.1 438.1,730.5 436.8,723.2 435.3,715.6 433.5,707.7 431.5,699.6 429.0,691.1 425.9,681.7 422.6,671.8 419.0,661.7 415.6,651.5 412.3,641.6 409.4,632.3 407.2,623.7 405.5,615.9 404.3,608.7 403.3,601.8 402.6,595.3 402.1,588.9 401.7,582.6 401.4,576.4 400.9,569.9 400.5,563.2 400.2,556.0 400.0,548.7 399.9,541.6 399.8,534.9 399.8,528.9 399.7,523.8 399.6,520.0 398.4,520.0 398.4,523.8 398.3,528.9 398.3,534.9 398.3,541.6 398.4,548.8 398.5,556.1 398.7,563.3 399.1,570.1 399.4,576.5 399.7,582.8 400.0,589.1 400.5,595.5 401.1,602.1 402.0,609.0 403.2,616.4 404.8,624.3 407.0,633.0 409.8,642.4 413.0,652.4 416.5,662.6 419.9,672.7 423.2,682.6 426.1,691.9 428.5,700.4 430.5,708.4 432.2,716.2 433.6,723.8 434.9,731.0 435.9,737.6 436.8,743.5 437.6,748.4 438.2,752.3" fill="#E0141C" />
<polygon points="538.7,559.6 536.1,554.9 532.6,548.5 528.5,540.8 523.9,532.4 519.1,523.6 514.2,515.0 509.7,506.8 505.5,499.7 501.6,493.1 497.5,486.6 493.3,480.1 489.4,474.0 485.6,468.3 482.3,463.3 479.5,459.1 477.3,455.8 476.7,456.2 478.8,459.5 481.5,463.8 484.8,468.8 488.5,474.5 492.5,480.7 496.5,487.1 500.6,493.7 504.5,500.3 508.6,507.5 513.1,515.6 517.9,524.3 522.6,533.1 527.2,541.5 531.3,549.2 534.7,555.6 537.3,560.4" fill="#2D6AD8" /><polygon points="539.6,570.7 541.9,572.0 545.0,573.8 548.7,576.0 552.8,578.4 557.2,580.7 561.6,582.8 565.9,584.5 569.9,585.6 573.9,586.0 578.0,585.8 582.3,585.2 586.5,584.4 590.4,583.5 593.9,582.6 596.9,581.9 599.1,581.4 598.9,580.6 596.7,581.0 593.7,581.7 590.2,582.6 586.3,583.4 582.1,584.2 578.0,584.7 573.9,584.8 570.1,584.4 566.3,583.3 562.1,581.6 557.8,579.5 553.5,577.1 549.5,574.7 545.8,572.5 542.7,570.6 540.4,569.3" fill="#2D6AD8" /><polygon points="500.7,689.7 498.4,685.0 495.5,678.6 492.0,671.1 488.1,662.8 483.8,654.0 479.4,645.3 474.9,637.1 470.5,629.7 465.8,622.7 460.4,615.5 454.7,608.3 449.0,601.4 443.5,595.0 438.6,589.3 434.4,584.4 431.3,580.7 430.7,581.3 433.7,585.0 437.9,589.8 442.8,595.6 448.2,602.1 453.9,609.0 459.5,616.2 464.8,623.3 469.5,630.3 473.8,637.7 478.3,645.9 482.6,654.6 486.8,663.4 490.7,671.7 494.1,679.3 497.0,685.6 499.3,690.3" fill="#2D6AD8" /><polygon points="520.7,499.6 519.0,497.2 516.8,494.0 514.1,490.1 511.2,485.9 508.2,481.5 505.3,477.1 502.7,473.1 500.5,469.7 498.7,466.6 497.1,463.6 495.5,460.7 494.2,457.9 493.0,455.4 492.0,453.2 491.1,451.3 490.4,449.8 489.6,450.2 490.3,451.7 491.2,453.5 492.1,455.8 493.3,458.3 494.6,461.1 496.1,464.1 497.7,467.2 499.5,470.3 501.6,473.8 504.2,477.9 507.1,482.2 510.0,486.6 512.9,490.9 515.6,494.8 517.7,498.1 519.3,500.4" fill="#2D6AD8" /><polygon points="498.8,759.2 499.3,754.8 499.9,749.1 500.6,742.3 501.4,734.7 502.4,726.5 503.6,717.8 504.9,709.1 506.5,700.3 508.5,691.2 510.8,681.4 513.4,671.0 516.1,660.4 518.9,649.8 521.6,639.4 524.1,629.5 526.3,620.3 528.2,612.0 529.8,604.3 531.2,597.2 532.6,590.2 533.9,583.3 535.4,576.2 537.1,568.6 539.1,560.3 541.4,551.1 544.0,541.3 546.8,531.0 549.7,520.5 552.7,510.0 555.5,499.6 558.3,489.6 560.8,480.2 563.3,471.0 565.8,461.6 568.3,452.2 570.6,443.2 572.8,434.8 574.7,427.3 576.4,421.0 577.6,416.2 576.4,415.8 575.1,420.7 573.4,426.9 571.4,434.4 569.1,442.8 566.7,451.8 564.2,461.2 561.7,470.6 559.2,479.8 556.6,489.1 553.7,499.1 550.8,509.4 547.8,520.0 544.8,530.5 542.0,540.8 539.3,550.6 536.9,559.7 534.9,568.1 533.1,575.7 531.6,582.8 530.2,589.8 528.8,596.7 527.3,603.8 525.6,611.4 523.7,619.7 521.4,628.9 518.9,638.7 516.1,649.1 513.3,659.7 510.5,670.3 507.9,680.6 505.5,690.5 503.5,699.7 501.8,708.5 500.4,717.4 499.1,726.0 498.1,734.3 497.2,741.9 496.4,748.7 495.8,754.4 495.2,758.8" fill="#2D6AD8" />
</g><g clip-path="url(#rf0)">
<g transform="matrix(1,-0.965,0,1,0,570.31)"><polygon points="711.9,459.0 710.6,457.9 708.8,456.3 706.7,454.5 704.4,452.4 701.9,450.2 699.4,448.1 697.0,446.0 694.8,444.2 692.6,442.5 690.3,440.7 687.9,438.9 685.6,437.1 683.4,435.5 681.2,434.1 679.2,432.9 677.4,432.0 675.7,431.5 674.2,431.5 672.9,431.8 671.9,432.3 671.0,432.9 670.2,433.4 669.5,433.7 668.8,433.8 667.8,433.8 666.8,433.9 665.9,433.8 664.9,433.7 664.0,433.6 663.1,433.3 662.1,432.9 661.2,432.3 660.2,431.5 659.1,430.5 658.0,429.3 656.9,427.9 655.8,426.5 654.7,425.1 653.5,423.8 652.4,422.6 651.2,421.4 649.9,420.2 648.6,419.1 647.3,417.9 646.1,416.9 645.0,415.9 644.1,415.1 643.4,414.5 642.6,415.5 643.3,416.1 644.2,416.9 645.2,417.9 646.4,418.9 647.7,420.1 648.9,421.3 650.2,422.5 651.3,423.6 652.4,424.8 653.5,426.1 654.6,427.5 655.7,428.9 656.8,430.3 657.9,431.6 659.0,432.8 660.2,433.7 661.3,434.4 662.5,434.9 663.6,435.3 664.7,435.5 665.7,435.7 666.8,435.7 667.8,435.8 668.9,435.8 670.1,435.6 671.1,435.2 672.0,434.6 672.9,434.2 673.6,433.8 674.4,433.6 675.4,433.6 676.6,434.0 678.2,434.8 680.0,435.9 682.1,437.3 684.3,438.9 686.5,440.7 688.8,442.5 691.1,444.3 693.2,446.1 695.5,447.9 697.8,450.0 700.3,452.1 702.7,454.3 705.0,456.3 707.1,458.2 708.8,459.8 710.1,461.0" fill="#F5C41E" /><polygon points="711.9,461.0 713.2,459.8 714.9,458.2 717.0,456.3 719.3,454.3 721.7,452.1 724.2,450.0 726.5,447.9 728.8,446.1 730.9,444.3 733.2,442.5 735.5,440.7 737.7,438.9 739.9,437.3 742.0,435.9 743.8,434.8 745.4,434.0 746.6,433.6 747.6,433.6 748.4,433.8 749.1,434.2 750.0,434.6 750.9,435.2 751.9,435.6 753.1,435.8 754.2,435.8 755.2,435.7 756.3,435.7 757.3,435.5 758.4,435.3 759.5,434.9 760.7,434.4 761.8,433.7 763.0,432.8 764.1,431.6 765.2,430.3 766.3,428.9 767.4,427.5 768.5,426.1 769.6,424.8 770.7,423.6 771.8,422.5 773.1,421.3 774.3,420.1 775.6,418.9 776.8,417.9 777.8,416.9 778.7,416.1 779.4,415.5 778.6,414.5 777.9,415.1 777.0,415.9 775.9,416.9 774.7,417.9 773.4,419.1 772.1,420.2 770.8,421.4 769.6,422.6 768.5,423.8 767.3,425.1 766.2,426.5 765.1,427.9 764.0,429.3 762.9,430.5 761.8,431.5 760.8,432.3 759.9,432.9 758.9,433.3 758.0,433.6 757.1,433.7 756.1,433.8 755.2,433.9 754.2,433.8 753.2,433.8 752.5,433.7 751.8,433.4 751.0,432.9 750.1,432.3 749.1,431.8 747.8,431.5 746.3,431.5 744.6,432.0 742.8,432.9 740.8,434.1 738.6,435.5 736.4,437.1 734.1,438.9 731.7,440.7 729.4,442.5 727.2,444.2 725.0,446.0 722.6,448.1 720.1,450.2 717.6,452.4 715.3,454.5 713.2,456.3 711.4,457.9 710.1,459.0" fill="#F5C41E" /><path d="M677.0,433.0 C678.9,429.0 686.0,426.7 686.0,417.2" fill="none" stroke="#F5C41E" stroke-width="1.05" stroke-linecap="round" opacity="0.9"/><path d="M677.0,433.0 C677.4,429.0 678.6,426.8 678.6,417.4" fill="none" stroke="#F5C41E" stroke-width="1.05" stroke-linecap="round" opacity="0.9"/><path d="M677.0,433.0 C675.9,429.0 671.5,425.9 671.5,415.3" fill="none" stroke="#F5C41E" stroke-width="1.05" stroke-linecap="round" opacity="0.9"/><path d="M660.7,433.0 C662.3,429.0 667.9,427.1 667.9,418.3" fill="none" stroke="#F5C41E" stroke-width="1.05" stroke-linecap="round" opacity="0.9"/><path d="M660.7,433.0 C661.0,429.0 661.8,426.2 661.8,415.9" fill="none" stroke="#F5C41E" stroke-width="1.05" stroke-linecap="round" opacity="0.9"/><path d="M660.7,433.0 C659.7,429.0 656.8,426.6 656.8,416.9" fill="none" stroke="#F5C41E" stroke-width="1.05" stroke-linecap="round" opacity="0.9"/><path d="M711.0,460.0 C708.0,446.5 696.0,437.5 696.0,421.8" fill="none" stroke="#F5C41E" stroke-width="1.05" stroke-linecap="round" opacity="0.9"/><path d="M711.0,460.0 C706.5,446.5 688.6,437.5 688.6,428.5" fill="none" stroke="#F5C41E" stroke-width="1.05" stroke-linecap="round" opacity="0.9"/><path d="M745.0,433.0 C743.1,429.0 736.2,426.6 736.2,416.9" fill="none" stroke="#F5C41E" stroke-width="1.05" stroke-linecap="round" opacity="0.9"/><path d="M745.0,433.0 C744.6,429.0 743.4,426.0 743.4,415.6" fill="none" stroke="#F5C41E" stroke-width="1.05" stroke-linecap="round" opacity="0.9"/><path d="M745.0,433.0 C746.1,429.0 751.0,427.2 751.0,418.5" fill="none" stroke="#F5C41E" stroke-width="1.05" stroke-linecap="round" opacity="0.9"/><path d="M761.3,433.0 C759.7,429.0 753.2,427.0 753.2,418.0" fill="none" stroke="#F5C41E" stroke-width="1.05" stroke-linecap="round" opacity="0.9"/><path d="M761.3,433.0 C761.0,429.0 760.0,425.9 760.0,415.3" fill="none" stroke="#F5C41E" stroke-width="1.05" stroke-linecap="round" opacity="0.9"/><path d="M761.3,433.0 C762.3,429.0 766.7,426.7 766.7,417.4" fill="none" stroke="#F5C41E" stroke-width="1.05" stroke-linecap="round" opacity="0.9"/><path d="M711.0,460.0 C714.0,446.5 726.0,437.5 726.0,421.8" fill="none" stroke="#F5C41E" stroke-width="1.05" stroke-linecap="round" opacity="0.9"/><path d="M711.0,460.0 C715.5,446.5 733.4,437.5 733.4,428.5" fill="none" stroke="#F5C41E" stroke-width="1.05" stroke-linecap="round" opacity="0.9"/></g><polygon points="710.2,344.8 710.8,345.5 711.6,346.1 712.4,346.7 713.3,347.5 714.3,348.6 715.5,350.2 716.7,352.4 718.0,355.4 719.3,359.4 720.7,364.4 722.0,370.2 723.5,376.5 725.2,382.9 727.2,389.3 729.5,395.2 732.2,400.5 735.6,405.3 739.8,410.1 744.5,414.7 749.3,419.0 754.0,422.9 758.3,426.4 761.9,429.4 764.4,431.6 765.6,430.4 763.0,428.1 759.4,425.1 755.1,421.6 750.5,417.6 745.7,413.4 741.2,408.8 737.1,404.2 733.8,399.5 731.2,394.4 729.0,388.6 727.1,382.4 725.5,376.0 724.0,369.8 722.7,363.9 721.3,358.8 720.0,354.6 718.6,351.5 717.3,349.0 716.1,347.2 714.9,345.9 713.9,345.0 713.0,344.3 712.3,343.8 711.8,343.2" fill="#F5C41E" />
<polygon points="645.7,449.6 644.5,447.6 643.0,445.0 641.1,441.8 639.1,438.3 636.9,434.6 634.7,431.0 632.5,427.6 630.5,424.6 628.4,421.9 626.1,419.2 623.8,416.6 621.4,414.1 619.2,411.8 617.2,409.8 615.6,408.0 614.3,406.7 613.7,407.3 614.9,408.6 616.6,410.4 618.5,412.5 620.7,414.8 623.0,417.3 625.3,419.9 627.5,422.6 629.5,425.4 631.5,428.3 633.6,431.7 635.8,435.3 637.9,439.0 639.9,442.5 641.7,445.7 643.2,448.4 644.3,450.4" fill="#E0141C" /><polygon points="643.7,430.3 644.6,428.3 645.8,425.6 647.3,422.3 648.9,418.7 650.6,415.0 652.3,411.4 654.0,408.1 655.5,405.3 657.1,403.0 658.7,400.7 660.4,398.7 662.1,396.8 663.7,395.1 665.2,393.6 666.4,392.3 667.3,391.3 666.7,390.7 665.8,391.7 664.5,392.9 663.0,394.4 661.4,396.1 659.6,398.0 657.9,400.1 656.1,402.3 654.5,404.7 652.9,407.5 651.1,410.8 649.4,414.4 647.6,418.1 646.0,421.7 644.5,424.9 643.2,427.7 642.3,429.7" fill="#E0141C" /><polygon points="648.4,467.3 646.2,465.9 643.3,463.9 639.7,461.4 635.8,458.8 631.7,456.1 627.6,453.5 623.7,451.3 620.3,449.5 617.0,448.1 613.7,447.0 610.5,446.1 607.4,445.4 604.5,444.8 601.9,444.4 599.7,444.0 598.1,443.6 597.9,444.4 599.6,444.8 601.7,445.2 604.3,445.7 607.1,446.4 610.2,447.1 613.4,448.0 616.6,449.2 619.7,450.5 623.1,452.3 626.9,454.6 630.9,457.2 635.0,460.0 638.9,462.6 642.4,465.1 645.4,467.2 647.6,468.7" fill="#E0141C" /><polygon points="664.6,505.6 667.4,502.8 671.2,499.0 675.7,494.6 680.8,489.6 686.0,484.5 691.2,479.4 696.1,474.6 700.4,470.4 704.4,466.6 708.5,462.7 712.5,458.8 716.4,455.2 720.0,451.8 723.1,448.8 725.8,446.3 727.9,444.3 727.3,443.7 725.2,445.6 722.5,448.1 719.3,451.1 715.7,454.4 711.8,458.1 707.8,461.9 703.6,465.7 699.6,469.6 695.2,473.7 690.3,478.5 685.1,483.5 679.8,488.6 674.7,493.5 670.1,498.0 666.3,501.7 663.4,504.4" fill="#E0141C" /><polygon points="671.1,521.6 670.4,519.0 669.4,515.6 668.2,511.5 666.9,507.0 665.6,502.3 664.1,497.6 662.7,493.3 661.3,489.5 659.8,486.3 658.2,483.5 656.6,481.1 655.0,478.8 653.5,476.4 652.1,473.8 650.7,470.9 649.6,467.3 648.6,463.1 647.6,458.3 646.8,453.1 646.1,447.6 645.4,442.0 644.9,436.3 644.3,430.7 643.9,425.3 643.5,419.8 643.2,413.8 643.0,407.6 642.9,401.6 642.8,395.8 642.8,390.6 642.7,386.3 642.6,383.0 641.4,383.0 641.4,386.3 641.4,390.6 641.4,395.8 641.4,401.6 641.5,407.7 641.6,413.8 641.8,419.9 642.1,425.5 642.5,430.9 643.0,436.5 643.5,442.2 644.1,447.9 644.8,453.4 645.5,458.6 646.4,463.5 647.4,467.9 648.6,471.7 649.9,474.9 651.4,477.6 653.0,480.1 654.5,482.5 656.0,484.9 657.4,487.5 658.7,490.5 660.0,494.2 661.4,498.5 662.8,503.1 664.1,507.8 665.3,512.3 666.4,516.4 667.4,519.9 668.1,522.4" fill="#E0141C" />
<polygon points="711.5,399.4 709.1,397.4 705.8,394.8 701.9,391.6 697.6,388.1 693.1,384.4 688.5,380.8 684.2,377.5 680.4,374.5 676.7,371.8 672.8,369.1 669.0,366.5 665.2,364.0 661.8,361.7 658.6,359.7 656.0,358.0 654.0,356.7 653.6,357.3 655.6,358.7 658.1,360.4 661.2,362.5 664.7,364.9 668.4,367.4 672.2,370.0 676.0,372.8 679.6,375.5 683.5,378.5 687.7,381.9 692.2,385.5 696.7,389.2 701.0,392.7 704.8,395.9 708.1,398.6 710.5,400.6" fill="#2D6AD8" /><polygon points="710.7,440.4 711.8,438.0 713.4,434.8 715.1,431.0 717.1,426.8 719.3,422.4 721.4,418.1 723.5,414.0 725.5,410.3 727.5,406.8 729.7,403.3 732.0,399.8 734.2,396.4 736.3,393.2 738.2,390.4 739.8,388.0 741.0,386.2 740.4,385.8 739.1,387.6 737.5,389.9 735.5,392.7 733.4,395.8 731.1,399.2 728.8,402.7 726.5,406.3 724.5,409.7 722.4,413.4 720.3,417.5 718.1,421.8 715.9,426.2 713.8,430.4 712.0,434.1 710.5,437.3 709.3,439.6" fill="#2D6AD8" /><polygon points="708.5,455.7 710.2,454.4 712.5,452.8 715.2,450.8 718.2,448.7 721.4,446.4 724.6,444.2 727.6,442.2 730.3,440.5 732.9,439.0 735.6,437.5 738.3,436.2 740.9,434.9 743.3,433.7 745.5,432.6 747.4,431.8 748.8,431.1 748.4,430.3 747.0,431.0 745.1,431.8 742.9,432.8 740.5,434.0 737.8,435.2 735.1,436.6 732.3,438.0 729.7,439.5 726.9,441.2 723.9,443.2 720.7,445.3 717.4,447.5 714.4,449.6 711.6,451.6 709.3,453.2 707.5,454.3" fill="#2D6AD8" /><polygon points="697.6,509.5 694.7,506.3 690.9,502.1 686.4,497.0 681.4,491.3 676.1,485.5 670.7,479.7 665.4,474.3 660.4,469.6 655.4,465.2 650.0,460.9 644.5,456.6 639.0,452.6 633.8,448.9 629.1,445.6 625.2,442.8 622.2,440.7 621.8,441.3 624.7,443.5 628.6,446.3 633.2,449.7 638.4,453.4 643.8,457.5 649.3,461.7 654.7,466.1 659.6,470.4 664.5,475.2 669.7,480.6 675.1,486.4 680.4,492.3 685.3,497.9 689.8,503.1 693.6,507.4 696.4,510.5" fill="#2D6AD8" /><polygon points="689.6,546.4 690.2,544.0 691.0,540.7 692.0,536.7 693.0,532.4 694.2,527.9 695.3,523.4 696.4,519.2 697.4,515.4 698.4,512.5 699.4,510.1 700.4,508.0 701.4,505.8 702.5,503.2 703.5,500.2 704.4,496.2 705.3,491.2 706.0,484.8 706.7,477.2 707.4,468.8 708.0,459.8 708.5,450.7 709.1,441.6 709.6,433.0 710.1,425.1 710.5,417.9 710.7,411.0 710.9,404.4 711.1,398.1 711.3,391.8 711.6,385.5 712.1,379.3 712.9,372.8 713.9,365.9 715.4,358.5 717.0,350.8 718.7,343.3 720.4,336.1 722.0,329.6 723.3,324.2 724.2,320.1 723.0,319.9 722.0,323.9 720.6,329.3 719.0,335.7 717.3,342.9 715.5,350.5 713.8,358.2 712.3,365.6 711.1,372.6 710.3,379.1 709.8,385.4 709.4,391.7 709.1,398.0 708.9,404.4 708.7,410.9 708.4,417.8 707.9,424.9 707.4,432.8 706.8,441.5 706.3,450.5 705.6,459.7 705.0,468.6 704.3,477.0 703.5,484.5 702.7,490.8 701.9,495.7 700.9,499.4 699.9,502.3 698.9,504.6 697.9,506.7 696.8,508.9 695.7,511.4 694.6,514.6 693.5,518.4 692.3,522.6 691.1,527.1 690.0,531.6 688.8,535.9 687.8,539.9 687.0,543.2 686.4,545.6" fill="#2D6AD8" />
</g>
<path d="M55.0,749.0 C79.2,749.2 154.2,748.8 200.0,750.0 C245.8,751.2 275.0,756.2 330.0,756.0 C385.0,755.8 477.5,750.7 530.0,749.0 C582.5,747.3 625.8,746.5 645.0,746.0" fill="none" stroke="#E0141C" stroke-width="11.5" stroke-linecap="round"/>
<path d="M55.0,762.0 C79.2,762.5 147.3,763.5 200.0,765.0 C252.7,766.5 314.3,771.3 371.0,771.0 C427.7,770.7 494.3,765.2 540.0,763.0 C585.7,760.8 627.5,758.8 645.0,758.0" fill="none" stroke="#2D6AD8" stroke-width="12" stroke-linecap="round"/>
<path d="M55.0,747.0 C79.2,747.2 154.2,746.8 200.0,748.0 C245.8,749.2 275.0,754.2 330.0,754.0 C385.0,753.8 477.5,748.7 530.0,747.0 C582.5,745.3 625.8,744.5 645.0,744.0" fill="none" stroke="#F05A5A" stroke-width="2" opacity="0.6"/>
<path d="M55.0,760.0 C79.2,760.5 147.3,761.5 200.0,763.0 C252.7,764.5 314.3,769.3 371.0,769.0 C427.7,768.7 494.3,763.2 540.0,761.0 C585.7,758.8 627.5,756.8 645.0,756.0" fill="none" stroke="#6A9AF0" stroke-width="2" opacity="0.6"/>
<ellipse cx="645" cy="746" rx="4.5" ry="5.5" fill="#6A0A0A"/><ellipse cx="645" cy="758" rx="4.5" ry="5.5" fill="#0A2A90"/>
<path d="M567.5,794.0 C572.0,787.8 585.2,767.8 594.5,757.0 C603.8,746.2 612.2,739.3 623.5,729.0 C634.8,718.7 649.3,706.3 662.5,695.0 C675.7,683.7 689.2,673.7 702.5,661.0 C715.8,648.3 728.3,633.8 742.5,619.0 C756.7,604.2 780.0,579.8 787.5,572.0" fill="none" stroke="#E0141C" stroke-width="7" stroke-linecap="round"/>
<path d="M563.0,789.0 C567.5,782.8 580.7,762.8 590.0,752.0 C599.3,741.2 607.7,734.3 619.0,724.0 C630.3,713.7 644.8,701.3 658.0,690.0 C671.2,678.7 684.7,668.7 698.0,656.0 C711.3,643.3 723.8,628.8 738.0,614.0 C752.2,599.2 775.5,574.8 783.0,567.0" fill="none" stroke="#2D6AD8" stroke-width="7" stroke-linecap="round"/>
<path d="M562.0,787.5 C566.5,781.3 579.7,761.3 589.0,750.5 C598.3,739.7 606.7,732.8 618.0,722.5 C629.3,712.2 643.8,699.8 657.0,688.5 C670.2,677.2 683.7,667.2 697.0,654.5 C710.3,641.8 722.8,627.3 737.0,612.5 C751.2,597.7 774.5,573.3 782.0,565.5" fill="none" stroke="#7FA8F5" stroke-width="1.5" opacity="0.7"/>
<g filter="url(#blur25)" opacity="0.10"><polygon points="1265.0,905.0 1749.0,905.0 1921.0,742.0 1961.0,770.0 1951.0,880.0 1779.0,945.0 1295.0,940.0" fill="#8A8A8A" /></g>
<polygon points="1445.0,234.0 1921.0,234.0 1749.0,400.0 1235.0,400.0" fill="#F7A965" />
<g clip-path="url(#tf1158)">
<g filter="url(#blur3)">
<ellipse cx="1492" cy="252" rx="55" ry="17" fill="#FAC08C"/>
<ellipse cx="1660" cy="252" rx="105" ry="20" fill="#FBC696"/>
<ellipse cx="1850" cy="252" rx="62" ry="17" fill="#FAC08C"/>
<ellipse cx="1410" cy="315" rx="60" ry="36" fill="#FAC08C"/>
<ellipse cx="1600" cy="315" rx="130" ry="40" fill="#FCD0A6"/>
<ellipse cx="1775" cy="312" rx="90" ry="36" fill="#FBC698"/>
<ellipse cx="1320" cy="375" rx="62" ry="17" fill="#FAC08C"/>
<ellipse cx="1515" cy="373" rx="110" ry="19" fill="#FBC696"/>
<ellipse cx="1710" cy="373" rx="62" ry="16" fill="#FAC08C"/>
</g><g filter="url(#blur2)" opacity="0.75">
<path d="M1405,272 C1500,270 1700,274 1916,272" fill="none" stroke="#F29A50" stroke-width="3" />
<path d="M1292,355 C1450,352 1650,356 1792,354" fill="none" stroke="#F29A50" stroke-width="3" />
<path d="M1550,236 C1520,258 1500,275 1481,289 C1440,325 1410,360 1385,389" fill="none" stroke="#F29A50" stroke-width="3" />
<path d="M1771,261 C1740,290 1700,330 1640,386" fill="none" stroke="#F29A50" stroke-width="3" />
</g>
</g>
<path d="M1545,236 C1570,228 1620,228 1660,229 C1720,229 1760,231 1772,236 Z" fill="#F8B274" stroke="none" stroke-width="1" />
<path d="M1778,236 C1800,229 1840,228 1880,229 C1900,230 1912,233 1921,236 Z" fill="#F8B274" stroke="none" stroke-width="1" />
<path d="M1235,401 L1749,401 L1921,235" fill="none" stroke="#FDC597" stroke-width="4" />
<g clip-path="url(#ff1158)">
<rect x="1235" y="400" width="514" height="507" fill="#FBE3F0"/>
<path d="M1230.0,466.0 C1241.5,467.0 1275.5,470.2 1299.0,472.0 C1322.5,473.8 1352.5,478.0 1371.0,477.0 C1389.5,476.0 1398.2,470.7 1410.0,466.0 C1421.8,461.3 1424.7,452.5 1442.0,449.0 C1459.3,445.5 1494.3,442.8 1514.0,445.0 C1533.7,447.2 1545.2,457.2 1560.0,462.0 C1574.8,466.8 1586.8,473.8 1603.0,474.0 C1619.2,474.2 1640.8,467.3 1657.0,463.0 C1673.2,458.7 1688.2,451.7 1700.0,448.0 C1711.8,444.3 1719.0,442.2 1728.0,441.0 C1737.0,439.8 1749.7,441.0 1754.0,441.0 L1754,402 L1230,402 Z" fill="#F6AA9A" stroke="none" stroke-width="1" />
<g clip-path="url(#ep1158)">
<circle cx="1252.0" cy="418.0" r="15.0" fill="url(#gEpi)"/>
<circle cx="1265.0" cy="448.0" r="18.0" fill="url(#gEpi)"/>
<circle cx="1287.0" cy="420.0" r="14.0" fill="url(#gEpi)"/>
<circle cx="1317.0" cy="428.0" r="15.0" fill="url(#gEpi)"/>
<circle cx="1343.0" cy="440.0" r="15.0" fill="url(#gEpi)"/>
<circle cx="1365.0" cy="420.0" r="14.0" fill="url(#gEpi)"/>
<circle cx="1395.0" cy="428.0" r="14.0" fill="url(#gEpi)"/>
<circle cx="1420.0" cy="418.0" r="14.0" fill="url(#gEpi)"/>
<circle cx="1440.0" cy="445.0" r="15.0" fill="url(#gEpi)"/>
<circle cx="1470.0" cy="420.0" r="14.0" fill="url(#gEpi)"/>
<circle cx="1500.0" cy="430.0" r="15.0" fill="url(#gEpi)"/>
<circle cx="1525.0" cy="420.0" r="14.0" fill="url(#gEpi)"/>
<circle cx="1550.0" cy="440.0" r="15.0" fill="url(#gEpi)"/>
<circle cx="1575.0" cy="420.0" r="14.0" fill="url(#gEpi)"/>
<circle cx="1605.0" cy="428.0" r="14.0" fill="url(#gEpi)"/>
<circle cx="1630.0" cy="418.0" r="13.0" fill="url(#gEpi)"/>
<circle cx="1655.0" cy="440.0" r="15.0" fill="url(#gEpi)"/>
<circle cx="1685.0" cy="420.0" r="14.0" fill="url(#gEpi)"/>
<circle cx="1713.0" cy="428.0" r="14.0" fill="url(#gEpi)"/>
<circle cx="1735.0" cy="418.0" r="13.0" fill="url(#gEpi)"/>
</g>
<path d="M1400.7,484.1 C1441.9,488.1 1483.0,480.4 1538.0,484.4" fill="none" stroke="#FFFFFF" stroke-width="1.7" opacity="0.85"/>
<path d="M1417.7,485.2 C1494.4,482.7 1571.0,482.6 1673.2,485.0" fill="none" stroke="#FFFFFF" stroke-width="1.7" opacity="0.85"/>
<path d="M1230.5,486.2 C1268.8,488.9 1307.1,486.4 1358.1,484.8" fill="none" stroke="#FFFFFF" stroke-width="1.7" opacity="0.85"/>
<path d="M1237.9,486.4 C1282.5,480.8 1327.2,486.2 1386.7,485.6" fill="none" stroke="#FFFFFF" stroke-width="1.7" opacity="0.85"/>
<path d="M1546.5,488.6 C1611.8,483.1 1677.1,486.4 1764.2,489.1" fill="none" stroke="#FFFFFF" stroke-width="1.7" opacity="0.85"/>
<path d="M1506.3,493.9 C1546.9,497.8 1587.5,496.1 1641.7,497.6" fill="none" stroke="#FFFFFF" stroke-width="1.7" opacity="0.85"/>
<path d="M1391.4,495.5 C1455.8,490.3 1520.2,496.7 1606.0,496.6" fill="none" stroke="#FFFFFF" stroke-width="1.7" opacity="0.85"/>
<path d="M1341.1,500.0 C1399.1,500.4 1457.1,505.1 1534.5,503.0" fill="none" stroke="#FFFFFF" stroke-width="1.7" opacity="0.85"/>
<path d="M1408.7,502.4 C1485.9,505.1 1563.0,500.3 1665.8,503.4" fill="none" stroke="#FFFFFF" stroke-width="1.7" opacity="0.85"/>
<path d="M1323.8,500.6 C1364.9,501.8 1405.9,498.0 1460.5,499.7" fill="none" stroke="#FFFFFF" stroke-width="1.7" opacity="0.85"/>
<path d="M1549.0,505.2 C1586.0,501.5 1623.0,510.6 1672.4,505.6" fill="none" stroke="#FFFFFF" stroke-width="1.7" opacity="0.85"/>
<path d="M1367.6,507.8 C1409.2,513.6 1450.9,504.0 1506.4,508.6" fill="none" stroke="#FFFFFF" stroke-width="1.7" opacity="0.85"/>
<path d="M1191.7,507.9 C1271.8,509.0 1352.0,512.1 1458.8,506.1" fill="none" stroke="#FFFFFF" stroke-width="1.7" opacity="0.85"/>
<path d="M1208.2,509.2 C1255.9,503.6 1303.7,510.9 1367.3,507.2" fill="none" stroke="#FFFFFF" stroke-width="1.7" opacity="0.85"/>
<path d="M1192.3,510.0 C1234.4,511.6 1276.5,504.0 1332.6,506.9" fill="none" stroke="#FFFFFF" stroke-width="1.7" opacity="0.85"/>
<path d="M1329.6,514.5 C1411.7,516.0 1493.7,510.8 1603.2,515.6" fill="none" stroke="#FFFFFF" stroke-width="1.7" opacity="0.85"/>
<g filter="url(#blur8)"><rect x="1719" y="462" width="40" height="90" fill="#FFFFFF" opacity="0.75"/></g>
<path d="M1230.0,536.0 C1250.0,533.8 1318.3,526.8 1350.0,523.0 C1381.7,519.2 1395.0,515.3 1420.0,513.0 C1445.0,510.7 1466.7,509.2 1500.0,509.0 C1533.3,508.8 1577.7,511.2 1620.0,512.0 C1662.3,512.8 1731.7,513.7 1754.0,514.0 L1754.0,524.0 C1731.7,523.7 1662.3,522.8 1620.0,522.0 C1577.7,521.2 1533.3,518.8 1500.0,519.0 C1466.7,519.2 1445.0,520.7 1420.0,523.0 C1395.0,525.3 1381.7,529.2 1350.0,533.0 C1318.3,536.8 1250.0,543.8 1230.0,546.0 Z" fill="#D3CACD" stroke="none" stroke-width="1" />
<path d="M1230.0,546.0 C1250.0,543.8 1318.3,536.8 1350.0,533.0 C1381.7,529.2 1395.0,525.3 1420.0,523.0 C1445.0,520.7 1466.7,519.2 1500.0,519.0 C1533.3,518.8 1577.7,521.2 1620.0,522.0 C1662.3,522.8 1731.7,523.7 1754.0,524.0 L1754,752 L1230,752 Z" fill="#F7A52A" stroke="none" stroke-width="1" />
<g clip-path="url(#fc1158)">
<rect x="1235" y="520" width="14" height="230" fill="#FAD9A0"/>
<ellipse cx="1653.3" cy="542.5" rx="26.4" ry="31.4" fill="url(#gFat)"/><ellipse cx="1600.9" cy="654.9" rx="27.3" ry="32.5" fill="url(#gFat)"/><ellipse cx="1379.2" cy="733.2" rx="24.9" ry="29.7" fill="url(#gFat)"/><ellipse cx="1363.8" cy="540.5" rx="26.2" ry="31.2" fill="url(#gFat)"/><ellipse cx="1345.0" cy="653.0" rx="25.5" ry="30.4" fill="url(#gFat)"/><ellipse cx="1548.8" cy="544.7" rx="23.6" ry="28.2" fill="url(#gFat)"/><ellipse cx="1712.1" cy="733.0" rx="24.8" ry="29.6" fill="url(#gFat)"/><ellipse cx="1726.2" cy="616.8" rx="24.9" ry="29.7" fill="url(#gFat)"/><ellipse cx="1284.9" cy="695.4" rx="26.7" ry="31.9" fill="url(#gFat)"/><ellipse cx="1473.8" cy="620.2" rx="23.6" ry="28.1" fill="url(#gFat)"/><ellipse cx="1434.9" cy="694.2" rx="26.4" ry="31.5" fill="url(#gFat)"/><ellipse cx="1690.5" cy="621.5" rx="27.6" ry="32.9" fill="url(#gFat)"/><ellipse cx="1522.8" cy="578.7" rx="26.4" ry="31.5" fill="url(#gFat)"/><ellipse cx="1602.7" cy="726.9" rx="24.9" ry="29.7" fill="url(#gFat)"/><ellipse cx="1284.0" cy="544.4" rx="26.9" ry="32.1" fill="url(#gFat)"/><ellipse cx="1338.7" cy="730.4" rx="27.9" ry="33.3" fill="url(#gFat)"/><ellipse cx="1455.0" cy="651.3" rx="27.8" ry="33.1" fill="url(#gFat)"/><ellipse cx="1321.4" cy="541.9" rx="25.3" ry="30.2" fill="url(#gFat)"/><ellipse cx="1563.0" cy="732.7" rx="23.6" ry="28.2" fill="url(#gFat)"/><ellipse cx="1327.3" cy="695.3" rx="24.8" ry="29.5" fill="url(#gFat)"/><ellipse cx="1451.0" cy="732.8" rx="23.6" ry="28.2" fill="url(#gFat)"/><ellipse cx="1564.9" cy="657.0" rx="24.3" ry="29.0" fill="url(#gFat)"/><ellipse cx="1301.2" cy="734.8" rx="25.5" ry="30.4" fill="url(#gFat)"/><ellipse cx="1621.7" cy="614.5" rx="26.4" ry="31.5" fill="url(#gFat)"/><ellipse cx="1247.7" cy="541.5" rx="27.8" ry="33.2" fill="url(#gFat)"/><ellipse cx="1341.8" cy="583.1" rx="24.2" ry="28.9" fill="url(#gFat)"/><ellipse cx="1325.8" cy="621.7" rx="25.7" ry="30.6" fill="url(#gFat)"/><ellipse cx="1671.8" cy="578.0" rx="27.2" ry="32.4" fill="url(#gFat)"/><ellipse cx="1604.0" cy="575.7" rx="23.8" ry="28.4" fill="url(#gFat)"/><ellipse cx="1578.1" cy="689.3" rx="26.4" ry="31.5" fill="url(#gFat)"/><ellipse cx="1251.8" cy="618.5" rx="25.4" ry="30.3" fill="url(#gFat)"/><ellipse cx="1378.8" cy="651.6" rx="27.2" ry="32.4" fill="url(#gFat)"/><ellipse cx="1413.0" cy="733.6" rx="27.6" ry="32.9" fill="url(#gFat)"/><ellipse cx="1512.0" cy="540.6" rx="27.6" ry="32.9" fill="url(#gFat)"/><ellipse cx="1416.9" cy="654.2" rx="28.0" ry="33.3" fill="url(#gFat)"/><ellipse cx="1541.8" cy="617.9" rx="23.5" ry="28.0" fill="url(#gFat)"/><ellipse cx="1522.7" cy="732.1" rx="25.3" ry="30.1" fill="url(#gFat)"/><ellipse cx="1640.5" cy="579.7" rx="24.8" ry="29.6" fill="url(#gFat)"/><ellipse cx="1618.7" cy="544.4" rx="25.5" ry="30.4" fill="url(#gFat)"/><ellipse cx="1733.0" cy="543.9" rx="24.9" ry="29.7" fill="url(#gFat)"/><ellipse cx="1504.5" cy="616.4" rx="24.8" ry="29.6" fill="url(#gFat)"/><ellipse cx="1363.8" cy="618.4" rx="26.4" ry="31.5" fill="url(#gFat)"/><ellipse cx="1359.7" cy="696.1" rx="26.1" ry="31.1" fill="url(#gFat)"/><ellipse cx="1308.8" cy="655.4" rx="26.4" ry="31.5" fill="url(#gFat)"/><ellipse cx="1621.8" cy="690.1" rx="23.7" ry="28.2" fill="url(#gFat)"/><ellipse cx="1489.4" cy="659.2" rx="23.9" ry="28.5" fill="url(#gFat)"/><ellipse cx="1397.7" cy="617.3" rx="27.9" ry="33.3" fill="url(#gFat)"/><ellipse cx="1265.8" cy="581.7" rx="25.4" ry="30.3" fill="url(#gFat)"/><ellipse cx="1562.9" cy="576.5" rx="27.4" ry="32.6" fill="url(#gFat)"/><ellipse cx="1290.4" cy="620.2" rx="27.2" ry="32.4" fill="url(#gFat)"/><ellipse cx="1522.8" cy="656.4" rx="27.8" ry="33.1" fill="url(#gFat)"/><ellipse cx="1726.1" cy="690.6" rx="26.8" ry="32.0" fill="url(#gFat)"/><ellipse cx="1637.9" cy="731.9" rx="24.2" ry="28.8" fill="url(#gFat)"/><ellipse cx="1657.6" cy="617.9" rx="26.6" ry="31.8" fill="url(#gFat)"/><ellipse cx="1472.7" cy="693.2" rx="24.8" ry="29.6" fill="url(#gFat)"/><ellipse cx="1268.4" cy="655.8" rx="25.1" ry="29.9" fill="url(#gFat)"/><ellipse cx="1655.1" cy="688.6" rx="27.2" ry="32.4" fill="url(#gFat)"/><ellipse cx="1245.9" cy="695.3" rx="28.1" ry="33.5" fill="url(#gFat)"/><ellipse cx="1691.7" cy="544.1" rx="24.4" ry="29.1" fill="url(#gFat)"/><ellipse cx="1582.6" cy="617.7" rx="23.8" ry="28.4" fill="url(#gFat)"/><ellipse cx="1401.0" cy="543.6" rx="26.3" ry="31.4" fill="url(#gFat)"/><ellipse cx="1436.7" cy="621.0" rx="27.1" ry="32.3" fill="url(#gFat)"/><ellipse cx="1418.4" cy="582.2" rx="26.3" ry="31.4" fill="url(#gFat)"/><ellipse cx="1304.6" cy="582.4" rx="24.8" ry="29.6" fill="url(#gFat)"/><ellipse cx="1434.7" cy="542.6" rx="24.7" ry="29.5" fill="url(#gFat)"/><ellipse cx="1578.3" cy="539.2" rx="23.6" ry="28.2" fill="url(#gFat)"/><ellipse cx="1640.9" cy="652.9" rx="24.6" ry="29.4" fill="url(#gFat)"/><ellipse cx="1677.6" cy="731.6" rx="24.9" ry="29.7" fill="url(#gFat)"/><ellipse cx="1396.5" cy="691.1" rx="23.9" ry="28.5" fill="url(#gFat)"/><ellipse cx="1471.9" cy="540.2" rx="25.9" ry="30.9" fill="url(#gFat)"/><ellipse cx="1543.7" cy="693.7" rx="26.3" ry="31.4" fill="url(#gFat)"/><ellipse cx="1710.8" cy="575.7" rx="24.7" ry="29.5" fill="url(#gFat)"/><ellipse cx="1713.0" cy="654.7" rx="25.6" ry="30.5" fill="url(#gFat)"/><ellipse cx="1675.9" cy="656.5" rx="26.3" ry="31.3" fill="url(#gFat)"/><ellipse cx="1271.5" cy="732.9" rx="28.0" ry="33.4" fill="url(#gFat)"/><ellipse cx="1694.8" cy="691.1" rx="23.9" ry="28.5" fill="url(#gFat)"/><ellipse cx="1453.5" cy="576.2" rx="24.6" ry="29.3" fill="url(#gFat)"/><ellipse cx="1382.7" cy="582.3" rx="27.3" ry="32.6" fill="url(#gFat)"/><ellipse cx="1507.4" cy="695.0" rx="25.3" ry="30.2" fill="url(#gFat)"/><ellipse cx="1493.0" cy="731.4" rx="27.4" ry="32.7" fill="url(#gFat)"/><ellipse cx="1493.5" cy="578.9" rx="26.7" ry="31.9" fill="url(#gFat)"/>
<g filter="url(#blur1)"><polygon points="1250.5,578.2 1250.6,582.9 1250.7,589.2 1250.9,596.6 1251.1,604.9 1251.2,613.6 1251.4,622.5 1251.5,631.0 1251.5,639.0 1251.5,647.0 1251.4,655.5 1251.2,664.4 1251.1,673.1 1250.9,681.4 1250.7,688.8 1250.6,695.1 1250.5,699.8 1271.5,700.2 1271.6,695.5 1271.7,689.3 1271.9,681.8 1272.1,673.5 1272.2,664.7 1272.4,655.8 1272.5,647.1 1272.5,639.0 1272.5,630.9 1272.4,622.2 1272.2,613.3 1272.1,604.5 1271.9,596.2 1271.7,588.7 1271.6,582.5 1271.5,577.8" fill="#D6D0CC" /><polygon points="1269.2,580.3 1268.2,578.2 1266.9,575.4 1265.3,572.0 1263.5,568.2 1261.6,564.3 1259.7,560.4 1257.8,556.6 1256.0,553.2 1254.2,550.0 1252.3,546.7 1250.4,543.6 1248.5,540.6 1246.7,537.8 1245.1,535.4 1243.8,533.4 1242.8,531.8 1229.2,540.2 1230.1,541.8 1231.3,543.9 1232.8,546.4 1234.4,549.2 1236.1,552.1 1237.8,555.1 1239.5,558.1 1241.0,561.0 1242.5,564.1 1244.1,567.7 1245.9,571.6 1247.6,575.5 1249.2,579.2 1250.7,582.7 1251.9,585.6 1252.8,587.7" fill="#D6D0CC" /><polygon points="1268.6,588.9 1269.9,586.6 1271.8,583.6 1274.0,580.0 1276.4,576.1 1279.0,572.1 1281.6,568.1 1284.1,564.3 1286.3,561.1 1288.6,558.0 1291.0,554.9 1293.6,551.7 1296.1,548.6 1298.6,545.8 1300.8,543.2 1302.6,541.0 1304.1,539.2 1291.9,528.8 1290.5,530.4 1288.6,532.4 1286.3,535.0 1283.7,537.9 1280.9,541.0 1278.1,544.2 1275.3,547.6 1272.7,550.9 1270.0,554.5 1267.3,558.4 1264.5,562.5 1261.7,566.6 1259.2,570.5 1256.8,574.1 1254.9,577.0 1253.4,579.1" fill="#D6D0CC" /><polygon points="1252.9,690.1 1251.8,692.5 1250.4,695.6 1248.7,699.2 1246.9,703.3 1244.9,707.5 1242.9,711.6 1241.0,715.5 1239.3,718.9 1237.6,722.0 1235.7,725.3 1233.8,728.6 1231.8,731.7 1230.0,734.7 1228.3,737.4 1226.9,739.7 1225.8,741.5 1240.2,750.5 1241.3,748.8 1242.7,746.6 1244.5,743.9 1246.4,740.9 1248.5,737.6 1250.6,734.2 1252.7,730.6 1254.7,727.1 1256.7,723.5 1258.7,719.4 1260.8,715.1 1262.9,710.9 1264.8,706.8 1266.6,703.1 1268.0,700.1 1269.1,697.9" fill="#D6D0CC" /><polygon points="1254.2,699.9 1256.2,702.1 1258.8,705.1 1261.9,708.8 1265.4,712.9 1269.2,717.1 1273.0,721.4 1276.7,725.4 1280.3,729.1 1283.8,732.6 1287.6,736.1 1291.4,739.5 1295.2,742.8 1298.7,745.8 1301.8,748.5 1304.4,750.7 1306.4,752.4 1317.6,739.6 1315.6,737.8 1313.0,735.5 1309.9,732.8 1306.5,729.8 1303.0,726.6 1299.4,723.3 1295.9,720.0 1292.7,716.9 1289.6,713.5 1286.1,709.6 1282.5,705.5 1278.9,701.3 1275.5,697.2 1272.4,693.6 1269.8,690.4 1267.8,688.1" fill="#D6D0CC" /><polygon points="1269.0,583.7 1269.1,581.4 1269.2,578.3 1269.4,574.6 1269.7,570.6 1269.9,566.3 1270.2,562.0 1270.6,557.8 1270.9,553.9 1271.4,550.1 1271.9,545.9 1272.5,541.5 1273.1,537.2 1273.7,533.2 1274.2,529.5 1274.6,526.4 1274.9,524.0 1263.1,522.0 1262.6,524.3 1261.9,527.3 1261.1,530.9 1260.3,535.0 1259.4,539.3 1258.6,543.7 1257.8,548.0 1257.1,552.1 1256.4,556.1 1255.8,560.4 1255.3,564.8 1254.7,569.2 1254.2,573.3 1253.8,576.9 1253.4,580.0 1253.0,582.3" fill="#D6D0CC" /></g><polygon points="1252.5,578.2 1252.6,582.9 1252.7,589.1 1252.9,596.6 1253.1,604.9 1253.2,613.6 1253.4,622.4 1253.5,631.0 1253.5,639.0 1253.5,647.0 1253.4,655.6 1253.2,664.4 1253.1,673.1 1252.9,681.4 1252.7,688.9 1252.6,695.1 1252.5,699.8 1269.5,700.2 1269.6,695.5 1269.7,689.2 1269.9,681.8 1270.1,673.5 1270.2,664.7 1270.4,655.8 1270.5,647.1 1270.5,639.0 1270.5,630.9 1270.4,622.2 1270.2,613.3 1270.1,604.5 1269.9,596.2 1269.7,588.8 1269.6,582.5 1269.5,577.8" fill="#F3F1EF" /><polygon points="1267.4,581.1 1266.4,579.0 1265.0,576.2 1263.4,572.8 1261.7,569.1 1259.8,565.1 1257.9,561.2 1256.0,557.5 1254.3,554.1 1252.5,550.9 1250.6,547.7 1248.7,544.6 1246.8,541.6 1245.0,538.9 1243.5,536.4 1242.1,534.4 1241.1,532.9 1230.9,539.1 1231.8,540.8 1233.0,542.9 1234.5,545.4 1236.1,548.1 1237.8,551.1 1239.6,554.1 1241.2,557.2 1242.7,560.1 1244.3,563.3 1245.9,566.9 1247.7,570.7 1249.4,574.7 1251.0,578.4 1252.5,581.8 1253.7,584.7 1254.6,586.9" fill="#F3F1EF" /><polygon points="1266.9,587.8 1268.3,585.5 1270.1,582.5 1272.3,579.0 1274.8,575.0 1277.3,571.0 1279.9,566.9 1282.4,563.2 1284.7,559.9 1287.0,556.8 1289.5,553.6 1292.1,550.4 1294.6,547.3 1297.1,544.5 1299.3,541.9 1301.1,539.6 1302.5,537.9 1293.5,530.1 1292.0,531.7 1290.1,533.8 1287.8,536.3 1285.2,539.2 1282.4,542.3 1279.6,545.5 1276.9,548.8 1274.3,552.1 1271.7,555.6 1268.9,559.5 1266.2,563.6 1263.4,567.7 1260.8,571.6 1258.5,575.1 1256.6,578.0 1255.1,580.2" fill="#F3F1EF" /><polygon points="1254.7,691.0 1253.6,693.3 1252.2,696.4 1250.5,700.1 1248.7,704.1 1246.7,708.3 1244.7,712.5 1242.8,716.4 1241.1,719.8 1239.3,723.0 1237.4,726.3 1235.5,729.6 1233.5,732.8 1231.7,735.8 1230.0,738.5 1228.6,740.8 1227.5,742.6 1238.5,749.4 1239.6,747.7 1241.1,745.5 1242.8,742.9 1244.7,739.8 1246.8,736.6 1248.9,733.1 1251.0,729.6 1252.9,726.2 1254.9,722.5 1256.9,718.5 1259.0,714.3 1261.1,710.0 1263.0,705.9 1264.8,702.3 1266.2,699.2 1267.3,697.0" fill="#F3F1EF" /><polygon points="1255.7,698.6 1257.7,700.8 1260.3,703.8 1263.4,707.5 1266.9,711.5 1270.7,715.8 1274.5,720.0 1278.2,724.1 1281.7,727.7 1285.2,731.2 1288.9,734.6 1292.7,738.0 1296.5,741.3 1300.0,744.3 1303.1,747.0 1305.7,749.2 1307.7,750.9 1316.3,741.1 1314.3,739.3 1311.7,737.0 1308.6,734.3 1305.2,731.3 1301.6,728.1 1298.0,724.8 1294.5,721.5 1291.3,718.3 1288.1,714.8 1284.6,710.9 1281.0,706.8 1277.4,702.6 1274.0,698.5 1270.9,694.9 1268.3,691.7 1266.3,689.4" fill="#F3F1EF" /><polygon points="1267.0,583.6 1267.1,581.2 1267.2,578.1 1267.4,574.5 1267.7,570.4 1267.9,566.1 1268.3,561.8 1268.6,557.6 1269.0,553.7 1269.4,549.8 1269.9,545.6 1270.5,541.2 1271.1,536.9 1271.7,532.8 1272.2,529.1 1272.7,526.0 1272.9,523.7 1265.1,522.3 1264.5,524.6 1263.9,527.6 1263.1,531.3 1262.3,535.4 1261.4,539.7 1260.5,544.0 1259.7,548.3 1259.0,552.3 1258.4,556.4 1257.8,560.7 1257.2,565.0 1256.7,569.4 1256.2,573.4 1255.8,577.1 1255.4,580.2 1255.0,582.4" fill="#F3F1EF" />
<g filter="url(#blur1)"><polygon points="1394.5,578.2 1394.6,582.9 1394.7,589.2 1394.9,596.6 1395.1,604.9 1395.2,613.6 1395.4,622.5 1395.5,631.0 1395.5,639.0 1395.5,647.0 1395.4,655.5 1395.2,664.4 1395.1,673.1 1394.9,681.4 1394.7,688.8 1394.6,695.1 1394.5,699.8 1415.5,700.2 1415.6,695.5 1415.7,689.3 1415.9,681.8 1416.1,673.5 1416.2,664.7 1416.4,655.8 1416.5,647.1 1416.5,639.0 1416.5,630.9 1416.4,622.2 1416.2,613.3 1416.1,604.5 1415.9,596.2 1415.7,588.7 1415.6,582.5 1415.5,577.8" fill="#D6D0CC" /><polygon points="1412.2,578.5 1410.3,576.2 1407.9,573.1 1404.9,569.3 1401.7,565.1 1398.2,560.7 1394.7,556.2 1391.2,552.0 1387.9,548.2 1384.6,544.6 1381.1,541.0 1377.5,537.5 1374.1,534.1 1370.8,531.0 1367.9,528.3 1365.4,526.0 1363.6,524.3 1352.4,535.7 1354.2,537.6 1356.6,540.0 1359.4,542.8 1362.5,545.9 1365.8,549.2 1369.0,552.7 1372.2,556.1 1375.1,559.4 1378.0,562.9 1381.2,567.0 1384.5,571.3 1387.8,575.7 1390.9,579.9 1393.7,583.8 1396.1,587.0 1397.8,589.5" fill="#D6D0CC" /><polygon points="1413.1,588.0 1414.5,585.0 1416.3,581.1 1418.5,576.4 1420.9,571.3 1423.5,565.9 1426.1,560.7 1428.6,555.7 1430.9,551.4 1433.2,547.3 1435.7,543.1 1438.3,538.9 1440.8,534.8 1443.3,531.0 1445.5,527.6 1447.3,524.6 1448.7,522.4 1435.3,513.6 1433.8,515.8 1431.9,518.6 1429.6,522.0 1427.0,525.8 1424.2,529.9 1421.4,534.3 1418.7,538.7 1416.1,543.0 1413.5,547.7 1410.8,552.8 1408.0,558.2 1405.2,563.6 1402.7,568.7 1400.3,573.3 1398.4,577.2 1396.9,580.0" fill="#D6D0CC" /><polygon points="1397.7,688.8 1396.1,691.1 1393.9,694.2 1391.4,697.9 1388.6,701.9 1385.6,706.1 1382.7,710.3 1379.8,714.1 1377.2,717.5 1374.6,720.7 1371.8,723.9 1368.8,727.2 1365.9,730.4 1363.1,733.4 1360.6,736.1 1358.4,738.4 1356.8,740.2 1369.2,751.8 1370.8,750.1 1373.0,747.9 1375.6,745.2 1378.5,742.2 1381.6,738.9 1384.7,735.5 1387.9,732.0 1390.8,728.5 1393.7,724.8 1396.8,720.7 1400.0,716.5 1403.1,712.2 1406.0,708.1 1408.5,704.5 1410.7,701.4 1412.3,699.2" fill="#D6D0CC" /><polygon points="1398.1,699.8 1400.1,702.0 1402.6,705.1 1405.7,708.7 1409.2,712.8 1412.8,717.0 1416.5,721.3 1420.2,725.4 1423.7,729.1 1427.2,732.5 1430.9,736.0 1434.6,739.5 1438.3,742.7 1441.8,745.8 1444.8,748.4 1447.4,750.6 1449.3,752.3 1460.7,739.7 1458.7,737.9 1456.2,735.6 1453.1,732.9 1449.8,729.9 1446.3,726.7 1442.8,723.4 1439.4,720.1 1436.3,716.9 1433.2,713.6 1429.8,709.7 1426.2,705.5 1422.7,701.3 1419.4,697.3 1416.4,693.6 1413.8,690.5 1411.9,688.2" fill="#D6D0CC" /><polygon points="1413.0,583.7 1413.1,581.4 1413.2,578.3 1413.4,574.6 1413.7,570.6 1413.9,566.3 1414.2,562.0 1414.6,557.8 1414.9,553.9 1415.4,550.1 1415.9,545.9 1416.5,541.5 1417.1,537.2 1417.7,533.2 1418.2,529.5 1418.6,526.4 1418.9,524.0 1407.1,522.0 1406.6,524.3 1405.9,527.3 1405.1,530.9 1404.3,535.0 1403.4,539.3 1402.6,543.7 1401.8,548.0 1401.1,552.1 1400.4,556.1 1399.8,560.4 1399.3,564.8 1398.7,569.2 1398.2,573.3 1397.8,576.9 1397.4,580.0 1397.0,582.3" fill="#D6D0CC" /></g><polygon points="1396.5,578.2 1396.6,582.9 1396.7,589.1 1396.9,596.6 1397.1,604.9 1397.2,613.6 1397.4,622.4 1397.5,631.0 1397.5,639.0 1397.5,647.0 1397.4,655.6 1397.2,664.4 1397.1,673.1 1396.9,681.4 1396.7,688.9 1396.6,695.1 1396.5,699.8 1413.5,700.2 1413.6,695.5 1413.7,689.2 1413.9,681.8 1414.1,673.5 1414.2,664.7 1414.4,655.8 1414.5,647.1 1414.5,639.0 1414.5,630.9 1414.4,622.2 1414.2,613.3 1414.1,604.5 1413.9,596.2 1413.7,588.8 1413.6,582.5 1413.5,577.8" fill="#F3F1EF" /><polygon points="1410.6,579.8 1408.7,577.4 1406.3,574.3 1403.3,570.5 1400.1,566.3 1396.6,561.9 1393.1,557.5 1389.7,553.3 1386.4,549.5 1383.1,546.0 1379.7,542.4 1376.1,538.9 1372.7,535.6 1369.4,532.5 1366.5,529.7 1364.1,527.5 1362.2,525.7 1353.8,534.3 1355.6,536.1 1358.0,538.5 1360.8,541.3 1363.9,544.5 1367.2,547.8 1370.5,551.3 1373.7,554.7 1376.6,558.1 1379.5,561.6 1382.7,565.7 1386.1,570.1 1389.3,574.5 1392.5,578.7 1395.3,582.6 1397.7,585.8 1399.4,588.2" fill="#F3F1EF" /><polygon points="1411.3,587.1 1412.7,584.2 1414.5,580.2 1416.7,575.5 1419.2,570.4 1421.7,565.1 1424.3,559.7 1426.9,554.8 1429.2,550.4 1431.5,546.3 1434.0,542.0 1436.6,537.8 1439.1,533.7 1441.6,529.9 1443.8,526.4 1445.6,523.5 1447.0,521.3 1437.0,514.7 1435.5,516.9 1433.6,519.7 1431.3,523.1 1428.7,526.9 1425.9,531.0 1423.1,535.3 1420.4,539.7 1417.8,544.0 1415.3,548.6 1412.5,553.7 1409.8,559.1 1407.0,564.4 1404.5,569.6 1402.1,574.2 1400.2,578.1 1398.7,580.9" fill="#F3F1EF" /><polygon points="1399.3,689.9 1397.7,692.3 1395.5,695.4 1393.0,699.0 1390.2,703.1 1387.2,707.3 1384.3,711.4 1381.4,715.3 1378.7,718.8 1376.1,722.0 1373.3,725.3 1370.3,728.6 1367.4,731.8 1364.6,734.8 1362.0,737.5 1359.9,739.8 1358.3,741.6 1367.7,750.4 1369.4,748.8 1371.5,746.5 1374.1,743.9 1377.0,740.8 1380.1,737.6 1383.2,734.2 1386.3,730.7 1389.3,727.2 1392.2,723.6 1395.2,719.5 1398.4,715.3 1401.4,711.0 1404.3,707.0 1406.9,703.3 1409.1,700.3 1410.7,698.1" fill="#F3F1EF" /><polygon points="1399.7,698.5 1401.6,700.8 1404.2,703.8 1407.2,707.4 1410.7,711.5 1414.3,715.7 1418.0,720.0 1421.7,724.0 1425.1,727.7 1428.6,731.1 1432.3,734.6 1436.0,738.0 1439.6,741.2 1443.1,744.3 1446.2,746.9 1448.7,749.1 1450.7,750.8 1459.3,741.2 1457.4,739.4 1454.8,737.1 1451.8,734.4 1448.5,731.4 1445.0,728.2 1441.4,724.8 1438.0,721.5 1434.9,718.3 1431.7,714.9 1428.3,711.0 1424.7,706.8 1421.2,702.6 1417.8,698.6 1414.8,694.9 1412.3,691.8 1410.3,689.5" fill="#F3F1EF" /><polygon points="1411.0,583.6 1411.1,581.2 1411.2,578.1 1411.4,574.5 1411.7,570.4 1411.9,566.1 1412.3,561.8 1412.6,557.6 1413.0,553.7 1413.4,549.8 1413.9,545.6 1414.5,541.2 1415.1,536.9 1415.7,532.8 1416.2,529.1 1416.7,526.0 1416.9,523.7 1409.1,522.3 1408.5,524.6 1407.9,527.6 1407.1,531.3 1406.3,535.4 1405.4,539.7 1404.5,544.0 1403.7,548.3 1403.0,552.3 1402.4,556.4 1401.8,560.7 1401.2,565.0 1400.7,569.4 1400.2,573.4 1399.8,577.1 1399.4,580.2 1399.0,582.4" fill="#F3F1EF" />
<g filter="url(#blur1)"><polygon points="1557.5,578.2 1557.6,582.9 1557.7,589.2 1557.9,596.6 1558.1,604.9 1558.2,613.6 1558.4,622.5 1558.5,631.0 1558.5,639.0 1558.5,647.0 1558.4,655.5 1558.2,664.4 1558.1,673.1 1557.9,681.4 1557.7,688.8 1557.6,695.1 1557.5,699.8 1578.5,700.2 1578.6,695.5 1578.7,689.3 1578.9,681.8 1579.1,673.5 1579.2,664.7 1579.4,655.8 1579.5,647.1 1579.5,639.0 1579.5,630.9 1579.4,622.2 1579.2,613.3 1579.1,604.5 1578.9,596.2 1578.7,588.7 1578.6,582.5 1578.5,577.8" fill="#D6D0CC" /><polygon points="1575.2,578.6 1572.9,575.7 1569.9,571.7 1566.3,567.0 1562.3,561.7 1558.1,556.1 1553.7,550.6 1549.5,545.3 1545.5,540.6 1541.4,536.1 1537.2,531.6 1532.8,527.1 1528.5,522.9 1524.5,518.9 1520.9,515.5 1517.9,512.6 1515.7,510.4 1504.3,521.6 1506.5,524.0 1509.5,527.0 1513.0,530.5 1516.8,534.5 1520.9,538.7 1525.0,543.1 1528.9,547.4 1532.5,551.6 1536.2,556.1 1540.1,561.2 1544.2,566.7 1548.3,572.2 1552.2,577.5 1555.7,582.3 1558.6,586.4 1560.8,589.4" fill="#D6D0CC" /><polygon points="1575.8,588.5 1577.2,585.9 1579.1,582.4 1581.4,578.3 1583.9,573.8 1586.5,569.1 1589.2,564.4 1591.8,560.1 1594.1,556.3 1596.4,552.7 1599.0,549.0 1601.6,545.4 1604.2,541.8 1606.7,538.4 1609.0,535.4 1610.9,532.8 1612.4,530.8 1599.6,521.2 1598.1,523.0 1596.2,525.5 1593.8,528.4 1591.1,531.8 1588.3,535.4 1585.4,539.2 1582.6,543.1 1579.9,546.9 1577.2,551.0 1574.4,555.6 1571.5,560.3 1568.7,565.0 1566.1,569.6 1563.7,573.6 1561.7,577.0 1560.2,579.5" fill="#D6D0CC" /><polygon points="1560.8,688.6 1559.1,690.9 1556.8,694.1 1554.2,697.7 1551.2,701.8 1548.2,706.0 1545.0,710.1 1542.0,714.0 1539.3,717.3 1536.6,720.5 1533.6,723.8 1530.5,727.1 1527.5,730.3 1524.5,733.3 1521.9,736.0 1519.6,738.3 1517.9,740.1 1530.1,751.9 1531.8,750.3 1534.0,748.1 1536.7,745.4 1539.8,742.4 1543.0,739.1 1546.3,735.6 1549.6,732.1 1552.7,728.7 1555.8,725.0 1559.0,720.9 1562.3,716.6 1565.5,712.4 1568.5,708.3 1571.3,704.6 1573.5,701.6 1575.2,699.4" fill="#D6D0CC" /><polygon points="1561.4,700.1 1563.4,702.3 1566.2,705.3 1569.5,709.0 1573.3,713.0 1577.2,717.3 1581.2,721.6 1585.2,725.6 1588.9,729.3 1592.7,732.8 1596.7,736.3 1600.7,739.7 1604.7,743.0 1608.4,746.0 1611.7,748.6 1614.5,750.9 1616.6,752.5 1627.4,739.5 1625.3,737.7 1622.6,735.4 1619.3,732.7 1615.7,729.7 1611.9,726.5 1608.1,723.2 1604.4,719.9 1601.1,716.7 1597.7,713.3 1594.0,709.4 1590.2,705.3 1586.4,701.1 1582.8,697.0 1579.5,693.4 1576.7,690.3 1574.6,687.9" fill="#D6D0CC" /><polygon points="1576.0,583.7 1576.1,581.4 1576.2,578.3 1576.4,574.6 1576.7,570.6 1576.9,566.3 1577.2,562.0 1577.6,557.8 1577.9,553.9 1578.4,550.1 1578.9,545.9 1579.5,541.5 1580.1,537.2 1580.7,533.2 1581.2,529.5 1581.6,526.4 1581.9,524.0 1570.1,522.0 1569.6,524.3 1568.9,527.3 1568.1,530.9 1567.3,535.0 1566.4,539.3 1565.6,543.7 1564.8,548.0 1564.1,552.1 1563.4,556.1 1562.8,560.4 1562.3,564.8 1561.7,569.2 1561.2,573.3 1560.8,576.9 1560.4,580.0 1560.0,582.3" fill="#D6D0CC" /></g><polygon points="1559.5,578.2 1559.6,582.9 1559.7,589.1 1559.9,596.6 1560.1,604.9 1560.2,613.6 1560.4,622.4 1560.5,631.0 1560.5,639.0 1560.5,647.0 1560.4,655.6 1560.2,664.4 1560.1,673.1 1559.9,681.4 1559.7,688.9 1559.6,695.1 1559.5,699.8 1576.5,700.2 1576.6,695.5 1576.7,689.2 1576.9,681.8 1577.1,673.5 1577.2,664.7 1577.4,655.8 1577.5,647.1 1577.5,639.0 1577.5,630.9 1577.4,622.2 1577.2,613.3 1577.1,604.5 1576.9,596.2 1576.7,588.8 1576.6,582.5 1576.5,577.8" fill="#F3F1EF" /><polygon points="1573.6,579.8 1571.3,576.9 1568.3,572.9 1564.7,568.2 1560.7,562.9 1556.5,557.4 1552.2,551.8 1547.9,546.6 1543.9,541.9 1540.0,537.4 1535.7,533.0 1531.4,528.5 1527.1,524.3 1523.1,520.4 1519.5,516.9 1516.5,514.0 1514.3,511.8 1505.7,520.2 1507.9,522.5 1510.9,525.6 1514.4,529.1 1518.2,533.1 1522.3,537.3 1526.4,541.7 1530.4,546.1 1534.1,550.3 1537.7,554.8 1541.7,560.0 1545.8,565.5 1549.9,571.0 1553.8,576.3 1557.3,581.1 1560.2,585.2 1562.4,588.2" fill="#F3F1EF" /><polygon points="1574.1,587.5 1575.5,584.9 1577.4,581.4 1579.7,577.3 1582.2,572.8 1584.8,568.0 1587.5,563.4 1590.1,559.0 1592.4,555.2 1594.8,551.6 1597.4,547.9 1600.0,544.2 1602.7,540.6 1605.2,537.2 1607.4,534.2 1609.3,531.6 1610.8,529.6 1601.2,522.4 1599.7,524.2 1597.7,526.7 1595.4,529.6 1592.7,533.0 1589.9,536.6 1587.0,540.4 1584.2,544.2 1581.6,548.0 1578.9,552.1 1576.1,556.6 1573.3,561.3 1570.5,566.0 1567.8,570.6 1565.4,574.6 1563.4,578.0 1561.9,580.5" fill="#F3F1EF" /><polygon points="1562.4,689.8 1560.7,692.1 1558.5,695.2 1555.8,698.9 1552.9,703.0 1549.8,707.2 1546.6,711.3 1543.6,715.2 1540.8,718.6 1538.1,721.8 1535.1,725.1 1532.0,728.5 1528.9,731.7 1526.0,734.7 1523.3,737.4 1521.1,739.7 1519.4,741.5 1528.6,750.5 1530.3,748.9 1532.6,746.6 1535.3,744.0 1538.3,741.0 1541.6,737.7 1544.9,734.3 1548.1,730.8 1551.2,727.4 1554.2,723.7 1557.4,719.7 1560.7,715.4 1563.9,711.2 1566.9,707.1 1569.6,703.5 1571.9,700.4 1573.6,698.2" fill="#F3F1EF" /><polygon points="1562.8,698.7 1564.9,701.0 1567.7,704.0 1571.0,707.6 1574.7,711.7 1578.7,715.9 1582.7,720.2 1586.6,724.2 1590.3,727.9 1594.0,731.3 1598.0,734.8 1602.0,738.2 1606.0,741.4 1609.7,744.4 1613.0,747.1 1615.8,749.3 1617.8,751.0 1626.2,741.0 1624.1,739.2 1621.3,736.9 1618.0,734.2 1614.4,731.2 1610.6,728.0 1606.8,724.7 1603.1,721.3 1599.7,718.1 1596.3,714.7 1592.6,710.8 1588.7,706.6 1584.9,702.4 1581.3,698.4 1578.0,694.7 1575.2,691.6 1573.2,689.3" fill="#F3F1EF" /><polygon points="1574.0,583.6 1574.1,581.2 1574.2,578.1 1574.4,574.5 1574.7,570.4 1574.9,566.1 1575.3,561.8 1575.6,557.6 1576.0,553.7 1576.4,549.8 1576.9,545.6 1577.5,541.2 1578.1,536.9 1578.7,532.8 1579.2,529.1 1579.7,526.0 1579.9,523.7 1572.1,522.3 1571.5,524.6 1570.9,527.6 1570.1,531.3 1569.3,535.4 1568.4,539.7 1567.5,544.0 1566.7,548.3 1566.0,552.3 1565.4,556.4 1564.8,560.7 1564.2,565.0 1563.7,569.4 1563.2,573.4 1562.8,577.1 1562.4,580.2 1562.0,582.4" fill="#F3F1EF" />
<g filter="url(#blur1)"><polygon points="1709.5,578.2 1709.6,582.9 1709.7,589.2 1709.9,596.6 1710.1,604.9 1710.2,613.6 1710.4,622.5 1710.5,631.0 1710.5,639.0 1710.5,647.0 1710.4,655.5 1710.2,664.4 1710.1,673.1 1709.9,681.4 1709.7,688.8 1709.6,695.1 1709.5,699.8 1730.5,700.2 1730.6,695.5 1730.7,689.3 1730.9,681.8 1731.1,673.5 1731.2,664.7 1731.4,655.8 1731.5,647.1 1731.5,639.0 1731.5,630.9 1731.4,622.2 1731.2,613.3 1731.1,604.5 1730.9,596.2 1730.7,588.7 1730.6,582.5 1730.5,577.8" fill="#D6D0CC" /><polygon points="1727.9,579.8 1726.4,576.9 1724.3,573.1 1721.8,568.5 1719.0,563.3 1716.0,557.9 1713.0,552.6 1710.1,547.4 1707.3,542.8 1704.5,538.4 1701.5,534.0 1698.5,529.7 1695.5,525.6 1692.7,521.7 1690.2,518.3 1688.1,515.5 1686.6,513.4 1673.4,522.6 1675.0,524.9 1677.0,527.8 1679.4,531.2 1682.0,535.0 1684.8,539.1 1687.6,543.3 1690.3,547.5 1692.7,551.6 1695.2,556.0 1697.9,560.9 1700.7,566.2 1703.5,571.5 1706.2,576.7 1708.6,581.3 1710.6,585.3 1712.1,588.2" fill="#D6D0CC" /><polygon points="1728.6,586.6 1729.5,583.4 1730.8,579.0 1732.2,573.9 1733.8,568.2 1735.6,562.3 1737.3,556.5 1739.0,551.0 1740.5,546.1 1742.1,541.6 1743.8,536.9 1745.5,532.2 1747.2,527.7 1748.8,523.5 1750.3,519.7 1751.5,516.4 1752.4,513.9 1737.6,508.1 1736.5,510.4 1735.2,513.6 1733.6,517.3 1731.9,521.6 1730.0,526.2 1728.1,531.0 1726.2,535.8 1724.5,540.6 1722.7,545.7 1720.9,551.3 1719.0,557.2 1717.1,563.2 1715.3,568.8 1713.7,574.0 1712.4,578.2 1711.4,581.4" fill="#D6D0CC" /><polygon points="1712.1,689.6 1710.9,691.9 1709.2,695.0 1707.2,698.7 1705.0,702.7 1702.7,706.9 1700.4,711.1 1698.1,714.9 1696.1,718.3 1694.1,721.5 1691.9,724.7 1689.6,728.0 1687.3,731.2 1685.1,734.2 1683.1,736.9 1681.4,739.2 1680.1,741.0 1693.9,751.0 1695.1,749.4 1696.8,747.1 1698.9,744.5 1701.2,741.4 1703.6,738.1 1706.1,734.7 1708.6,731.2 1710.9,727.7 1713.2,724.0 1715.6,719.9 1718.1,715.6 1720.5,711.4 1722.8,707.3 1724.9,703.7 1726.6,700.6 1727.9,698.4" fill="#D6D0CC" /><polygon points="1712.5,699.0 1714.1,701.3 1716.2,704.3 1718.6,708.0 1721.4,712.0 1724.3,716.3 1727.3,720.6 1730.3,724.6 1733.1,728.3 1735.9,731.8 1738.8,735.3 1741.9,738.8 1744.8,742.1 1747.6,745.1 1750.1,747.8 1752.1,750.0 1753.7,751.7 1766.3,740.3 1764.8,738.6 1762.7,736.2 1760.3,733.6 1757.7,730.6 1754.9,727.4 1752.1,724.1 1749.4,720.8 1746.9,717.7 1744.5,714.3 1741.7,710.4 1738.9,706.3 1736.1,702.1 1733.4,698.1 1731.0,694.4 1729.0,691.3 1727.5,689.0" fill="#D6D0CC" /><polygon points="1728.0,583.7 1728.1,581.4 1728.2,578.3 1728.4,574.6 1728.7,570.6 1728.9,566.3 1729.2,562.0 1729.6,557.8 1729.9,553.9 1730.4,550.1 1730.9,545.9 1731.5,541.5 1732.1,537.2 1732.7,533.2 1733.2,529.5 1733.6,526.4 1733.9,524.0 1722.1,522.0 1721.6,524.3 1720.9,527.3 1720.1,530.9 1719.3,535.0 1718.4,539.3 1717.6,543.7 1716.8,548.0 1716.1,552.1 1715.4,556.1 1714.8,560.4 1714.3,564.8 1713.7,569.2 1713.2,573.3 1712.8,576.9 1712.4,580.0 1712.0,582.3" fill="#D6D0CC" /></g><polygon points="1711.5,578.2 1711.6,582.9 1711.7,589.1 1711.9,596.6 1712.1,604.9 1712.2,613.6 1712.4,622.4 1712.5,631.0 1712.5,639.0 1712.5,647.0 1712.4,655.6 1712.2,664.4 1712.1,673.1 1711.9,681.4 1711.7,688.9 1711.6,695.1 1711.5,699.8 1728.5,700.2 1728.6,695.5 1728.7,689.2 1728.9,681.8 1729.1,673.5 1729.2,664.7 1729.4,655.8 1729.5,647.1 1729.5,639.0 1729.5,630.9 1729.4,622.2 1729.2,613.3 1729.1,604.5 1728.9,596.2 1728.7,588.8 1728.6,582.5 1728.5,577.8" fill="#F3F1EF" /><polygon points="1726.2,580.7 1724.6,577.9 1722.5,574.0 1720.0,569.4 1717.2,564.3 1714.3,558.9 1711.3,553.5 1708.3,548.4 1705.6,543.8 1702.8,539.5 1699.8,535.1 1696.8,530.8 1693.9,526.7 1691.1,522.9 1688.6,519.5 1686.5,516.7 1684.9,514.6 1675.1,521.4 1676.6,523.7 1678.6,526.6 1681.0,530.1 1683.6,533.9 1686.4,538.0 1689.2,542.2 1691.9,546.5 1694.4,550.6 1696.9,555.0 1699.7,559.9 1702.5,565.2 1705.3,570.6 1707.9,575.7 1710.3,580.4 1712.3,584.4 1713.8,587.3" fill="#F3F1EF" /><polygon points="1726.7,586.0 1727.6,582.8 1728.8,578.5 1730.3,573.3 1731.9,567.6 1733.7,561.7 1735.4,555.9 1737.1,550.3 1738.6,545.5 1740.2,540.9 1741.9,536.2 1743.6,531.5 1745.3,526.9 1747.0,522.7 1748.4,518.9 1749.7,515.7 1750.6,513.2 1739.4,508.8 1738.4,511.2 1737.1,514.3 1735.5,518.1 1733.7,522.3 1731.9,526.9 1730.0,531.7 1728.1,536.5 1726.4,541.2 1724.6,546.3 1722.8,551.9 1720.9,557.8 1719.0,563.8 1717.2,569.4 1715.7,574.5 1714.3,578.8 1713.3,582.0" fill="#F3F1EF" /><polygon points="1713.9,690.6 1712.6,692.9 1711.0,696.0 1709.0,699.7 1706.8,703.7 1704.5,707.9 1702.1,712.1 1699.9,716.0 1697.8,719.4 1695.7,722.6 1693.5,725.9 1691.2,729.2 1688.9,732.4 1686.7,735.4 1684.7,738.1 1683.0,740.4 1681.8,742.2 1692.2,749.8 1693.5,748.2 1695.2,745.9 1697.3,743.3 1699.6,740.2 1702.0,737.0 1704.5,733.6 1706.9,730.1 1709.2,726.6 1711.5,723.0 1713.9,718.9 1716.4,714.7 1718.8,710.4 1721.1,706.4 1723.1,702.7 1724.8,699.7 1726.1,697.4" fill="#F3F1EF" /><polygon points="1714.2,697.9 1715.8,700.2 1717.8,703.2 1720.3,706.9 1723.1,710.9 1726.0,715.2 1729.0,719.4 1731.9,723.5 1734.6,727.1 1737.4,730.6 1740.4,734.0 1743.4,737.5 1746.3,740.7 1749.1,743.7 1751.5,746.4 1753.6,748.6 1755.1,750.3 1764.9,741.7 1763.3,739.9 1761.3,737.6 1758.9,734.9 1756.2,731.9 1753.4,728.7 1750.6,725.4 1747.8,722.1 1745.4,718.9 1742.8,715.5 1740.1,711.6 1737.3,707.4 1734.4,703.2 1731.8,699.2 1729.4,695.5 1727.3,692.4 1725.8,690.1" fill="#F3F1EF" /><polygon points="1726.0,583.6 1726.1,581.2 1726.2,578.1 1726.4,574.5 1726.7,570.4 1726.9,566.1 1727.3,561.8 1727.6,557.6 1728.0,553.7 1728.4,549.8 1728.9,545.6 1729.5,541.2 1730.1,536.9 1730.7,532.8 1731.2,529.1 1731.7,526.0 1731.9,523.7 1724.1,522.3 1723.5,524.6 1722.9,527.6 1722.1,531.3 1721.3,535.4 1720.4,539.7 1719.5,544.0 1718.7,548.3 1718.0,552.3 1717.4,556.4 1716.8,560.7 1716.2,565.0 1715.7,569.4 1715.2,573.4 1714.8,577.1 1714.4,580.2 1714.0,582.4" fill="#F3F1EF" />
</g>
<rect x="1235" y="741" width="514" height="10" fill="#D9D1D1"/>
<rect x="1235" y="752" width="514" height="68" fill="url(#gRes)"/>
<rect x="1689" y="752" width="60" height="68" fill="url(#gResCorner)"/>
<ellipse cx="1289.0" cy="797.0" rx="21.0" ry="16.0" fill="url(#gBlob)"/>
<ellipse cx="1434.0" cy="790.0" rx="22.0" ry="16.0" fill="url(#gBlob)"/>
<ellipse cx="1571.0" cy="790.0" rx="22.0" ry="15.0" fill="url(#gBlob)"/>
<ellipse cx="1683.0" cy="797.0" rx="21.0" ry="15.0" fill="url(#gBlob)"/>
<ellipse cx="1363.0" cy="768.0" rx="22.0" ry="10.0" fill="url(#gBlob)"/>
<ellipse cx="1488.0" cy="770.0" rx="22.0" ry="10.0" fill="url(#gBlob)"/>
<ellipse cx="1613.0" cy="766.0" rx="20.0" ry="9.0" fill="url(#gBlob)"/>
<ellipse cx="1250" cy="803" rx="9" ry="13" fill="url(#gSpark)" opacity="0.85"/>
<ellipse cx="1298" cy="770" rx="9" ry="13" fill="url(#gSpark)" opacity="0.85"/>
<ellipse cx="1328" cy="790" rx="9" ry="13" fill="url(#gSpark)" opacity="0.85"/>
<ellipse cx="1388" cy="780" rx="9" ry="13" fill="url(#gSpark)" opacity="0.85"/>
<ellipse cx="1418" cy="805" rx="9" ry="13" fill="url(#gSpark)" opacity="0.85"/>
<ellipse cx="1488" cy="795" rx="9" ry="13" fill="url(#gSpark)" opacity="0.85"/>
<ellipse cx="1538" cy="776" rx="9" ry="13" fill="url(#gSpark)" opacity="0.85"/>
<ellipse cx="1513" cy="805" rx="9" ry="13" fill="url(#gSpark)" opacity="0.85"/>
<ellipse cx="1598" cy="812" rx="9" ry="13" fill="url(#gSpark)" opacity="0.85"/>
<ellipse cx="1628" cy="790" rx="9" ry="13" fill="url(#gSpark)" opacity="0.85"/>
<ellipse cx="1718" cy="800" rx="9" ry="13" fill="url(#gSpark)" opacity="0.85"/>
<ellipse cx="1658" cy="770" rx="9" ry="13" fill="url(#gSpark)" opacity="0.85"/>
<rect x="1235" y="819" width="514" height="15" fill="#A1090F"/>
<rect x="1235" y="834" width="514" height="73" fill="#EC1C2E"/>
<g filter="url(#blur1)">
<polygon points="1218.0,850.0 1223.9,851.7 1231.7,853.5 1240.9,855.5 1251.3,857.6 1262.5,859.7 1274.1,861.8 1285.8,863.8 1297.2,865.7 1308.6,867.7 1320.7,869.9 1333.3,872.0 1346.2,874.1 1359.3,875.9 1372.3,877.5 1385.3,878.5 1397.9,879.0 1410.1,878.8 1422.1,878.1 1433.9,876.9 1445.4,875.4 1456.6,873.6 1467.6,871.6 1478.3,869.7 1488.9,867.7 1499.8,865.7 1511.3,863.5 1522.9,861.1 1534.2,858.7 1544.7,856.3 1554.1,854.0 1562.0,851.9 1568.0,850.0 1568.0,850.0 1561.8,849.7 1553.6,849.7 1543.9,849.9 1533.1,850.3 1521.6,850.8 1509.8,851.3 1498.2,851.8 1487.1,852.3 1476.3,852.8 1465.3,853.5 1454.3,854.3 1443.1,855.1 1432.0,855.9 1420.8,856.5 1409.5,856.9 1398.1,857.0 1386.4,856.7 1374.1,856.0 1361.5,855.0 1348.6,853.9 1335.7,852.8 1323.0,851.7 1310.6,850.8 1298.8,850.3 1287.2,849.9 1275.3,849.6 1263.5,849.3 1252.2,849.2 1241.6,849.1 1232.1,849.3 1224.1,849.5 1218.0,850.0" fill="#D30F1F" />
<polygon points="1408.0,862.0 1414.0,863.6 1421.9,865.4 1431.4,867.3 1442.0,869.3 1453.3,871.3 1464.9,873.3 1476.4,875.3 1487.3,877.0 1497.9,878.8 1508.6,880.6 1519.6,882.4 1530.8,884.1 1542.2,885.6 1553.9,886.8 1565.8,887.6 1577.9,888.0 1590.3,887.9 1603.1,887.5 1616.1,886.7 1629.2,885.6 1642.2,884.2 1654.9,882.7 1667.2,880.9 1678.8,879.0 1690.4,876.8 1702.2,874.2 1713.8,871.4 1725.0,868.4 1735.3,865.4 1744.5,862.6 1752.2,860.1 1758.0,858.0 1758.0,858.0 1751.8,858.2 1743.7,858.8 1734.2,859.7 1723.5,860.9 1712.2,862.1 1700.4,863.3 1688.6,864.3 1677.2,865.0 1665.6,865.5 1653.4,866.1 1640.8,866.7 1628.0,867.2 1615.2,867.6 1602.4,867.9 1590.0,868.0 1578.1,868.0 1566.6,867.7 1555.3,867.2 1544.0,866.5 1532.7,865.7 1521.6,864.9 1510.5,864.1 1499.5,863.4 1488.7,863.0 1477.6,862.6 1466.0,862.3 1454.2,862.0 1442.8,861.7 1432.0,861.5 1422.3,861.5 1414.2,861.6 1408.0,862.0" fill="#D30F1F" />
<polygon points="1218.0,880.0 1225.7,881.4 1235.9,882.9 1248.0,884.5 1261.5,886.2 1275.8,887.9 1290.4,889.5 1304.5,891.0 1317.7,892.4 1330.1,893.6 1342.6,894.8 1355.1,896.0 1367.6,897.1 1380.2,897.9 1392.8,898.6 1405.4,898.9 1418.1,899.0 1430.9,898.7 1443.9,898.1 1456.9,897.2 1469.8,896.0 1482.6,894.8 1495.0,893.3 1507.0,891.8 1518.5,890.3 1530.0,888.7 1541.8,886.9 1553.4,885.0 1564.6,883.1 1575.0,881.1 1584.3,879.2 1592.1,877.5 1598.0,876.0 1598.0,876.0 1591.9,875.8 1583.9,875.7 1574.5,875.9 1563.9,876.2 1552.6,876.6 1540.8,877.0 1529.0,877.4 1517.5,877.7 1505.9,878.0 1493.8,878.4 1481.4,878.9 1468.7,879.5 1455.9,880.0 1443.1,880.4 1430.4,880.8 1417.9,881.0 1405.6,881.0 1393.2,880.9 1380.8,880.7 1368.4,880.4 1355.9,880.2 1343.4,879.9 1330.9,879.7 1318.3,879.6 1305.1,879.6 1290.9,879.5 1276.4,879.4 1262.0,879.3 1248.3,879.3 1236.1,879.4 1225.8,879.6 1218.0,880.0" fill="#D30F1F" />
<polygon points="1538.0,890.0 1544.9,891.6 1554.0,893.4 1564.9,895.3 1577.1,897.2 1590.0,899.1 1603.1,900.7 1615.9,902.0 1627.9,902.9 1639.5,903.4 1651.4,903.5 1663.4,903.3 1675.3,902.9 1686.9,902.1 1698.1,901.2 1708.7,900.1 1718.6,898.9 1728.0,897.5 1737.2,895.7 1746.0,893.8 1754.2,891.7 1761.7,889.6 1768.2,887.6 1773.7,885.7 1778.0,884.0 1778.0,884.0 1773.4,883.6 1767.6,883.5 1760.7,883.6 1753.0,883.8 1744.7,884.1 1735.8,884.5 1726.7,884.8 1717.4,885.1 1707.6,885.4 1697.1,885.8 1686.0,886.3 1674.5,886.9 1662.8,887.5 1651.0,888.1 1639.4,888.6 1628.1,889.1 1616.4,889.3 1603.7,889.4 1590.6,889.4 1577.7,889.3 1565.4,889.2 1554.3,889.2 1545.0,889.5 1538.0,890.0" fill="#D30F1F" />
<polygon points="1658.0,892.0 1661.3,892.3 1665.6,892.3 1670.8,892.1 1676.4,891.7 1682.3,891.2 1688.3,890.4 1693.9,889.5 1699.1,888.4 1704.0,887.0 1709.0,885.4 1714.1,883.6 1718.9,881.6 1723.4,879.5 1727.3,877.5 1730.6,875.6 1733.0,874.0 1733.0,874.0 1730.1,873.9 1726.3,874.2 1721.9,874.7 1717.1,875.4 1712.0,876.4 1706.8,877.4 1701.7,878.5 1696.9,879.6 1692.0,880.8 1686.6,882.3 1680.9,883.8 1675.2,885.5 1669.8,887.2 1665.0,888.9 1661.0,890.5 1658.0,892.0" fill="#F23A45" />
</g>
<path d="M1313,834 l-18,22" fill="none" stroke="#B80C1A" stroke-width="1.2" opacity="0.75"/>
<path d="M1358,834 l30,25" fill="none" stroke="#B80C1A" stroke-width="1.2" opacity="0.75"/>
<path d="M1458,846 l25,22" fill="none" stroke="#B80C1A" stroke-width="1.2" opacity="0.75"/>
<path d="M1548,836 l-16,20" fill="none" stroke="#B80C1A" stroke-width="1.2" opacity="0.75"/>
<path d="M1588,850 l28,22" fill="none" stroke="#B80C1A" stroke-width="1.2" opacity="0.75"/>
<path d="M1668,836 l-20,26" fill="none" stroke="#B80C1A" stroke-width="1.2" opacity="0.75"/>
<path d="M1718,850 l26,24" fill="none" stroke="#B80C1A" stroke-width="1.2" opacity="0.75"/>
<path d="M1278,870 l-20,25" fill="none" stroke="#B80C1A" stroke-width="1.2" opacity="0.75"/>
<path d="M1388,866 l22,24" fill="none" stroke="#B80C1A" stroke-width="1.2" opacity="0.75"/>
<path d="M1498,874 l-22,24" fill="none" stroke="#B80C1A" stroke-width="1.2" opacity="0.75"/>
<path d="M1558,880 l28,22" fill="none" stroke="#B80C1A" stroke-width="1.2" opacity="0.75"/>
<path d="M1628,868 l-16,22" fill="none" stroke="#B80C1A" stroke-width="1.2" opacity="0.75"/>
<path d="M1338,888 l-12,16" fill="none" stroke="#B80C1A" stroke-width="1.2" opacity="0.75"/>
<path d="M1438,890 l20,16" fill="none" stroke="#B80C1A" stroke-width="1.2" opacity="0.75"/>
</g>
<g clip-path="url(#rf1158)">
<polygon points="1749.0,400.0 1921.0,234.0 1921.0,743.0 1749.0,907.0" fill="#F8D4EC" />
<path d="M1744.0,452.0 C1751.5,447.0 1772.7,437.0 1789.0,422.0 C1805.3,407.0 1826.0,378.2 1842.0,362.0 C1858.0,345.8 1871.0,333.3 1885.0,325.0 C1899.0,316.7 1919.2,314.2 1926.0,312.0 L1926,200 L1744,380 Z" fill="#F6AA9A" stroke="none" stroke-width="1" />
<circle cx="1761.3" cy="412.1" r="14.0" fill="url(#gEpi)"/>
<circle cx="1785.9" cy="388.4" r="14.0" fill="url(#gEpi)"/>
<circle cx="1810.4" cy="364.7" r="14.0" fill="url(#gEpi)"/>
<circle cx="1835.0" cy="341.0" r="14.0" fill="url(#gEpi)"/>
<circle cx="1859.6" cy="317.3" r="14.0" fill="url(#gEpi)"/>
<circle cx="1884.1" cy="293.6" r="14.0" fill="url(#gEpi)"/>
<circle cx="1908.7" cy="269.9" r="14.0" fill="url(#gEpi)"/>
<path d="M1758.1,469.8 q27.2,-27.2 54.4,-46.2" fill="none" stroke="#FFFFFF" stroke-width="1.6" opacity="0.85"/>
<path d="M1792.7,472.9 q26.9,-26.9 53.8,-45.8" fill="none" stroke="#FFFFFF" stroke-width="1.6" opacity="0.85"/>
<path d="M1805.0,438.8 q36.1,-36.1 72.3,-61.4" fill="none" stroke="#FFFFFF" stroke-width="1.6" opacity="0.85"/>
<path d="M1892.6,348.4 q18.4,-18.4 36.8,-31.3" fill="none" stroke="#FFFFFF" stroke-width="1.6" opacity="0.85"/>
<path d="M1883.2,362.3 q25.9,-25.9 51.8,-44.0" fill="none" stroke="#FFFFFF" stroke-width="1.6" opacity="0.85"/>
<path d="M1875.5,355.7 q34.4,-34.4 68.7,-58.4" fill="none" stroke="#FFFFFF" stroke-width="1.6" opacity="0.85"/>
<path d="M1833.1,426.7 q24.1,-24.1 48.2,-41.0" fill="none" stroke="#FFFFFF" stroke-width="1.6" opacity="0.85"/>
<path d="M1843.3,379.6 q34.2,-34.2 68.4,-58.1" fill="none" stroke="#FFFFFF" stroke-width="1.6" opacity="0.85"/>
<path d="M1778.1,440.9 q25.7,-25.7 51.4,-43.7" fill="none" stroke="#FFFFFF" stroke-width="1.6" opacity="0.85"/>
<path d="M1775.1,435.4 q28.9,-28.9 57.8,-49.2" fill="none" stroke="#FFFFFF" stroke-width="1.6" opacity="0.85"/>
<path d="M1886.5,364.1 q24.5,-24.5 49.1,-41.7" fill="none" stroke="#FFFFFF" stroke-width="1.6" opacity="0.85"/>
<path d="M1856.7,403.3 q37.0,-37.0 74.0,-62.9" fill="none" stroke="#FFFFFF" stroke-width="1.6" opacity="0.85"/>
<polygon points="1744.0,465.0 1774.0,445.0 1774.0,545.0 1744.0,565.0" fill="#FFFFFF" opacity="0.6" filter="url(#blur5)"/>
<polygon points="1744.0,514.0 1926.0,400.0 1926.0,409.0 1744.0,523.0" fill="#D3CACD" />
<polygon points="1744.0,523.0 1926.0,409.0 1921.0,588.0 1897.0,611.0 1861.0,654.0 1825.0,683.0 1789.0,708.0 1754.0,747.0 1749.0,754.0" fill="#F7A52A" />
<g clip-path="url(#fr1158)">
<ellipse cx="1770.7" cy="560.8" rx="16.7" ry="25.5" fill="url(#gFat)"/><ellipse cx="1819.6" cy="567.0" rx="18.3" ry="28.0" fill="url(#gFat)"/><ellipse cx="1757.5" cy="529.1" rx="15.9" ry="24.3" fill="url(#gFat)"/><ellipse cx="1805.6" cy="662.0" rx="16.4" ry="25.0" fill="url(#gFat)"/><ellipse cx="1783.1" cy="735.2" rx="18.3" ry="27.9" fill="url(#gFat)"/><ellipse cx="1759.6" cy="668.6" rx="16.7" ry="25.5" fill="url(#gFat)"/><ellipse cx="1795.5" cy="562.2" rx="17.4" ry="26.6" fill="url(#gFat)"/><ellipse cx="1759.7" cy="593.7" rx="15.7" ry="24.1" fill="url(#gFat)"/><ellipse cx="1809.7" cy="532.2" rx="16.9" ry="25.8" fill="url(#gFat)"/><ellipse cx="1819.0" cy="633.2" rx="17.9" ry="27.4" fill="url(#gFat)"/><ellipse cx="1807.5" cy="595.6" rx="16.1" ry="24.6" fill="url(#gFat)"/><ellipse cx="1820.0" cy="699.1" rx="16.2" ry="24.8" fill="url(#gFat)"/><ellipse cx="1796.3" cy="632.4" rx="17.3" ry="26.5" fill="url(#gFat)"/><ellipse cx="1794.7" cy="701.8" rx="18.2" ry="27.8" fill="url(#gFat)"/><ellipse cx="1806.4" cy="730.3" rx="15.8" ry="24.2" fill="url(#gFat)"/><ellipse cx="1770.8" cy="630.8" rx="15.8" ry="24.2" fill="url(#gFat)"/><ellipse cx="1772.1" cy="697.2" rx="17.7" ry="27.0" fill="url(#gFat)"/><ellipse cx="1756.8" cy="729.1" rx="16.3" ry="24.9" fill="url(#gFat)"/><ellipse cx="1783.0" cy="527.4" rx="16.0" ry="24.4" fill="url(#gFat)"/><ellipse cx="1784.5" cy="598.1" rx="17.0" ry="25.9" fill="url(#gFat)"/><ellipse cx="1783.2" cy="661.3" rx="15.4" ry="23.6" fill="url(#gFat)"/>
<ellipse cx="1890.1" cy="511.1" rx="15.9" ry="24.8" fill="url(#gFat)"/><ellipse cx="1894.5" cy="577.1" rx="16.7" ry="26.1" fill="url(#gFat)"/><ellipse cx="1866.6" cy="511.8" rx="15.8" ry="24.8" fill="url(#gFat)"/><ellipse cx="1854.2" cy="542.7" rx="14.5" ry="22.6" fill="url(#gFat)"/><ellipse cx="1869.0" cy="441.1" rx="16.8" ry="26.2" fill="url(#gFat)"/><ellipse cx="1845.1" cy="635.4" rx="15.6" ry="24.4" fill="url(#gFat)"/><ellipse cx="1878.4" cy="604.8" rx="15.9" ry="24.8" fill="url(#gFat)"/><ellipse cx="1905.8" cy="537.6" rx="15.0" ry="23.5" fill="url(#gFat)"/><ellipse cx="1842.5" cy="508.3" rx="15.6" ry="24.4" fill="url(#gFat)"/><ellipse cx="1868.2" cy="570.7" rx="15.5" ry="24.2" fill="url(#gFat)"/><ellipse cx="1904.5" cy="477.5" rx="16.6" ry="26.0" fill="url(#gFat)"/><ellipse cx="1881.1" cy="477.0" rx="14.7" ry="23.0" fill="url(#gFat)"/><ellipse cx="1879.4" cy="540.5" rx="16.0" ry="25.0" fill="url(#gFat)"/><ellipse cx="1904.8" cy="603.7" rx="14.9" ry="23.3" fill="url(#gFat)"/><ellipse cx="1855.1" cy="478.6" rx="16.4" ry="25.6" fill="url(#gFat)"/><ellipse cx="1889.9" cy="442.8" rx="14.5" ry="22.7" fill="url(#gFat)"/><ellipse cx="1844.1" cy="444.9" rx="15.2" ry="23.7" fill="url(#gFat)"/><ellipse cx="1842.1" cy="576.9" rx="15.4" ry="24.0" fill="url(#gFat)"/><ellipse cx="1891.7" cy="638.1" rx="16.2" ry="25.4" fill="url(#gFat)"/><ellipse cx="1854.3" cy="605.7" rx="14.5" ry="22.7" fill="url(#gFat)"/><ellipse cx="1866.6" cy="641.1" rx="15.7" ry="24.6" fill="url(#gFat)"/>
<g filter="url(#blur1)"><polygon points="1832.5,504.5 1832.3,509.5 1832.0,516.0 1831.7,523.7 1831.3,532.4 1830.9,541.6 1830.5,551.0 1830.0,560.4 1829.5,569.4 1829.0,578.8 1828.3,589.1 1827.6,600.0 1826.8,610.8 1826.1,621.2 1825.5,630.6 1824.9,638.4 1824.5,644.3 1845.5,645.7 1845.9,639.9 1846.4,632.0 1847.1,622.7 1847.8,612.3 1848.5,601.4 1849.3,590.5 1849.9,580.1 1850.5,570.6 1851.0,561.5 1851.4,552.0 1851.9,542.5 1852.3,533.3 1852.7,524.6 1853.0,516.9 1853.3,510.4 1853.5,505.5" fill="#D6D0CC" /><polygon points="1849.2,507.8 1847.9,506.7 1846.1,505.1 1843.9,503.2 1841.4,501.0 1838.6,498.6 1835.8,496.3 1832.9,494.1 1829.9,492.1 1826.8,490.4 1823.7,489.0 1820.6,487.7 1817.6,486.5 1814.9,485.6 1812.5,484.7 1810.6,484.1 1809.2,483.6 1802.8,500.4 1804.3,501.0 1806.4,501.8 1808.7,502.7 1811.1,503.6 1813.6,504.6 1816.1,505.7 1818.3,506.8 1820.1,507.9 1822.0,509.2 1824.2,510.9 1826.6,512.9 1829.0,515.0 1831.3,517.2 1833.5,519.1 1835.3,520.9 1836.8,522.2" fill="#D6D0CC" /><polygon points="1850.7,519.6 1851.9,517.6 1853.4,514.9 1855.2,511.6 1857.3,508.1 1859.4,504.4 1861.5,500.8 1863.5,497.4 1865.2,494.5 1866.8,491.9 1868.5,489.2 1870.2,486.6 1871.8,484.1 1873.3,481.7 1874.6,479.7 1875.8,477.9 1876.6,476.5 1863.4,467.5 1862.4,468.8 1861.2,470.5 1859.7,472.5 1858.1,474.8 1856.3,477.3 1854.5,480.0 1852.6,482.7 1850.8,485.5 1848.9,488.5 1846.7,491.9 1844.5,495.5 1842.2,499.2 1840.1,502.7 1838.1,505.8 1836.5,508.5 1835.3,510.4" fill="#D6D0CC" /><polygon points="1827.8,628.8 1826.7,630.0 1825.2,631.5 1823.5,633.4 1821.6,635.4 1819.7,637.6 1817.8,639.6 1816.0,641.5 1814.5,643.1 1813.1,644.4 1811.6,645.8 1810.2,647.1 1808.8,648.3 1807.4,649.5 1806.2,650.5 1805.1,651.4 1804.3,652.2 1819.7,667.8 1820.4,667.1 1821.2,666.1 1822.3,664.9 1823.6,663.5 1825.0,662.0 1826.5,660.4 1828.0,658.7 1829.5,656.9 1831.2,655.0 1832.9,652.9 1834.8,650.6 1836.6,648.3 1838.4,646.1 1840.0,644.1 1841.3,642.4 1842.2,641.2" fill="#D6D0CC" /><polygon points="1839.9,642.5 1841.1,641.8 1842.7,640.9 1844.6,639.7 1846.8,638.4 1849.1,637.0 1851.4,635.5 1853.6,634.0 1855.7,632.6 1857.6,631.2 1859.6,629.7 1861.5,628.2 1863.3,626.8 1864.9,625.4 1866.4,624.2 1867.6,623.3 1868.5,622.6 1855.5,607.4 1854.6,608.2 1853.4,609.3 1852.1,610.6 1850.6,612.0 1849.0,613.4 1847.4,614.8 1845.8,616.2 1844.3,617.4 1842.7,618.6 1840.8,620.0 1838.8,621.4 1836.7,622.9 1834.7,624.3 1832.8,625.5 1831.2,626.6 1830.1,627.5" fill="#D6D0CC" /></g><polygon points="1834.5,504.6 1834.3,509.6 1834.0,516.1 1833.7,523.8 1833.3,532.4 1832.9,541.6 1832.5,551.1 1832.0,560.5 1831.5,569.5 1831.0,578.9 1830.3,589.3 1829.6,600.1 1828.8,611.0 1828.1,621.3 1827.5,630.7 1826.9,638.6 1826.5,644.4 1843.5,645.6 1843.9,639.7 1844.4,631.9 1845.1,622.5 1845.8,612.1 1846.5,601.3 1847.3,590.4 1847.9,579.9 1848.5,570.5 1849.0,561.4 1849.5,551.9 1849.9,542.4 1850.3,533.2 1850.7,524.5 1851.0,516.8 1851.3,510.3 1851.5,505.4" fill="#F3F1EF" /><polygon points="1847.9,509.3 1846.6,508.2 1844.8,506.6 1842.6,504.7 1840.1,502.5 1837.4,500.2 1834.5,497.9 1831.7,495.7 1828.8,493.8 1825.9,492.2 1822.9,490.8 1819.8,489.5 1816.9,488.4 1814.2,487.4 1811.8,486.6 1809.9,486.0 1808.5,485.5 1803.5,498.5 1805.0,499.2 1807.1,499.9 1809.4,500.8 1811.8,501.7 1814.4,502.8 1816.9,503.9 1819.2,505.0 1821.2,506.2 1823.2,507.5 1825.4,509.3 1827.9,511.4 1830.3,513.5 1832.7,515.7 1834.8,517.7 1836.7,519.4 1838.1,520.7" fill="#F3F1EF" /><polygon points="1849.0,518.6 1850.1,516.6 1851.7,513.8 1853.5,510.6 1855.6,507.1 1857.7,503.4 1859.8,499.8 1861.8,496.4 1863.5,493.5 1865.1,490.8 1866.8,488.1 1868.5,485.5 1870.1,482.9 1871.6,480.6 1873.0,478.5 1874.1,476.7 1875.0,475.4 1865.0,468.6 1864.1,469.9 1862.9,471.6 1861.4,473.6 1859.8,475.9 1858.0,478.4 1856.2,481.1 1854.3,483.8 1852.5,486.5 1850.6,489.5 1848.4,492.9 1846.2,496.5 1843.9,500.2 1841.8,503.7 1839.9,506.8 1838.2,509.5 1837.0,511.4" fill="#F3F1EF" /><polygon points="1829.3,630.1 1828.2,631.3 1826.7,632.8 1825.0,634.7 1823.1,636.7 1821.2,638.9 1819.3,640.9 1817.5,642.8 1815.9,644.4 1814.5,645.8 1813.0,647.2 1811.6,648.5 1810.2,649.8 1808.8,650.9 1807.6,652.0 1806.5,652.9 1805.7,653.6 1818.3,666.4 1819.0,665.6 1819.8,664.7 1821.0,663.5 1822.2,662.1 1823.6,660.6 1825.1,659.0 1826.6,657.3 1828.1,655.6 1829.7,653.7 1831.4,651.6 1833.3,649.3 1835.1,647.0 1836.9,644.8 1838.4,642.8 1839.7,641.1 1840.7,639.9" fill="#F3F1EF" /><polygon points="1838.8,640.9 1840.0,640.2 1841.6,639.2 1843.6,638.0 1845.7,636.7 1848.0,635.3 1850.3,633.8 1852.4,632.4 1854.5,631.0 1856.4,629.6 1858.3,628.2 1860.2,626.7 1862.0,625.3 1863.6,623.9 1865.1,622.7 1866.3,621.8 1867.2,621.1 1856.8,608.9 1855.9,609.8 1854.7,610.9 1853.4,612.1 1851.9,613.5 1850.3,614.9 1848.7,616.4 1847.1,617.7 1845.5,619.0 1843.9,620.2 1842.0,621.6 1839.9,623.1 1837.8,624.6 1835.8,625.9 1833.9,627.2 1832.3,628.3 1831.2,629.1" fill="#F3F1EF" />
<g filter="url(#blur1)"><polygon points="1901.0,429.8 1900.9,436.8 1900.7,446.2 1900.4,457.4 1900.2,469.8 1899.9,482.8 1899.6,495.9 1899.3,508.4 1899.0,519.7 1898.7,530.7 1898.3,542.3 1897.8,553.9 1897.4,565.3 1897.0,575.9 1896.6,585.5 1896.2,593.5 1896.0,599.6 1914.0,600.4 1914.2,594.3 1914.6,586.2 1914.9,576.7 1915.4,566.0 1915.8,554.6 1916.2,542.9 1916.6,531.3 1917.0,520.3 1917.3,508.8 1917.6,496.3 1917.9,483.2 1918.2,470.2 1918.4,457.8 1918.7,446.6 1918.9,437.2 1919.0,430.2" fill="#D6D0CC" /><polygon points="1916.7,435.6 1915.9,434.4 1914.9,432.8 1913.6,430.8 1912.1,428.6 1910.6,426.3 1909.1,424.0 1907.7,422.0 1906.3,420.1 1905.0,418.5 1903.7,417.0 1902.4,415.8 1901.3,414.7 1900.3,413.8 1899.4,413.0 1898.9,412.5 1898.5,412.2 1887.5,423.8 1888.2,424.4 1888.9,425.1 1889.7,425.8 1890.5,426.4 1891.2,427.2 1892.1,428.0 1892.9,428.9 1893.7,429.9 1894.7,431.2 1895.9,433.0 1897.3,435.1 1898.7,437.3 1900.1,439.5 1901.4,441.4 1902.5,443.1 1903.3,444.4" fill="#D6D0CC" /><polygon points="1898.9,584.8 1898.1,585.7 1896.9,587.0 1895.5,588.5 1894.0,590.2 1892.4,591.9 1890.9,593.7 1889.5,595.4 1888.2,596.9 1887.1,598.4 1886.1,599.8 1885.1,601.1 1884.3,602.3 1883.6,603.4 1883.1,604.3 1882.6,604.9 1882.3,605.4 1897.7,614.6 1898.1,613.9 1898.5,613.0 1898.9,612.1 1899.4,611.2 1899.9,610.2 1900.5,609.2 1901.1,608.1 1901.8,607.1 1902.7,605.9 1903.9,604.3 1905.2,602.6 1906.6,600.8 1908.0,599.1 1909.3,597.5 1910.3,596.2 1911.1,595.2" fill="#D6D0CC" /></g><polygon points="1903.0,429.9 1902.9,436.9 1902.7,446.3 1902.4,457.5 1902.2,469.9 1901.9,482.9 1901.6,495.9 1901.3,508.4 1901.0,519.8 1900.7,530.8 1900.3,542.3 1899.8,554.0 1899.4,565.3 1899.0,576.0 1898.6,585.6 1898.2,593.6 1898.0,599.7 1912.0,600.3 1912.2,594.2 1912.6,586.1 1912.9,576.6 1913.4,565.9 1913.8,554.5 1914.2,542.8 1914.6,531.3 1915.0,520.2 1915.3,508.8 1915.6,496.3 1915.9,483.2 1916.2,470.1 1916.4,457.7 1916.7,446.5 1916.9,437.2 1917.0,430.1" fill="#F3F1EF" /><polygon points="1915.0,436.7 1914.2,435.5 1913.2,433.9 1911.9,431.9 1910.5,429.7 1909.0,427.4 1907.5,425.2 1906.1,423.1 1904.7,421.3 1903.5,419.8 1902.2,418.4 1901.0,417.2 1899.9,416.2 1899.0,415.3 1898.1,414.6 1897.5,414.0 1897.1,413.6 1888.9,422.4 1889.5,422.9 1890.2,423.6 1891.0,424.3 1891.8,425.0 1892.6,425.8 1893.5,426.6 1894.4,427.6 1895.3,428.7 1896.3,430.1 1897.6,431.9 1899.0,434.0 1900.4,436.2 1901.8,438.4 1903.1,440.4 1904.2,442.0 1905.0,443.3" fill="#F3F1EF" /><polygon points="1900.4,586.1 1899.6,587.0 1898.4,588.3 1897.1,589.8 1895.5,591.5 1894.0,593.2 1892.5,595.0 1891.0,596.6 1889.8,598.1 1888.7,599.5 1887.7,600.9 1886.8,602.1 1886.1,603.3 1885.4,604.4 1884.8,605.3 1884.4,605.9 1884.0,606.4 1896.0,613.6 1896.3,612.9 1896.8,612.1 1897.2,611.2 1897.7,610.2 1898.2,609.2 1898.8,608.1 1899.5,607.0 1900.2,605.9 1901.1,604.6 1902.3,603.0 1903.7,601.3 1905.1,599.5 1906.5,597.8 1907.7,596.2 1908.8,594.9 1909.6,593.9" fill="#F3F1EF" />
</g>
<rect x="1915" y="408" width="6" height="182" fill="#F3A53C"/>
<polygon points="1749.0,754.0 1754.0,747.0 1789.0,708.0 1825.0,683.0 1861.0,654.0 1897.0,611.0 1921.0,588.0 1926.0,662.0 1744.0,825.0" fill="url(#gResR)" />
<ellipse cx="1758.6" cy="754.0" rx="11.1" ry="12.4" fill="url(#gBlobPale)" opacity="0.9"/>
<ellipse cx="1777.7" cy="750.9" rx="9.7" ry="11.8" fill="url(#gBlobPale)" opacity="0.9"/>
<ellipse cx="1796.8" cy="723.7" rx="12.9" ry="9.9" fill="url(#gBlobPale)" opacity="0.9"/>
<ellipse cx="1815.9" cy="727.0" rx="13.1" ry="10.8" fill="url(#gBlobPale)" opacity="0.9"/>
<ellipse cx="1835.0" cy="690.7" rx="12.3" ry="12.0" fill="url(#gBlobPale)" opacity="0.9"/>
<ellipse cx="1854.1" cy="663.5" rx="13.0" ry="12.0" fill="url(#gBlobPale)" opacity="0.9"/>
<ellipse cx="1873.2" cy="652.8" rx="12.5" ry="12.6" fill="url(#gBlobPale)" opacity="0.9"/>
<ellipse cx="1892.3" cy="655.6" rx="11.7" ry="12.9" fill="url(#gBlobPale)" opacity="0.9"/>
<ellipse cx="1911.4" cy="619.9" rx="9.1" ry="12.7" fill="url(#gBlobPale)" opacity="0.9"/>
<circle cx="1775.3" cy="743.4" r="6" fill="url(#gSpark)"/>
<circle cx="1811.1" cy="702.1" r="6" fill="url(#gSpark)"/>
<circle cx="1784.0" cy="742.2" r="6" fill="url(#gSpark)"/>
<circle cx="1815.4" cy="693.4" r="6" fill="url(#gSpark)"/>
<circle cx="1838.5" cy="689.6" r="6" fill="url(#gSpark)"/>
<circle cx="1832.1" cy="695.8" r="6" fill="url(#gSpark)"/>
<circle cx="1817.0" cy="718.8" r="6" fill="url(#gSpark)"/>
<polygon points="1744.0,823.0 1926.0,655.0 1926.0,668.0 1744.0,838.0" fill="#A1090F" />
<polygon points="1744.0,836.0 1926.0,666.0 1926.0,743.0 1744.0,910.0" fill="url(#gMuscleR)" />
<path d="M1761,905 l22,-40" fill="none" stroke="#B00A18" stroke-width="1.3" opacity="0.7"/>
<path d="M1764,845 l40,25" fill="none" stroke="#B00A18" stroke-width="1.3" opacity="0.7"/>
<path d="M1809,855 l22,-42" fill="none" stroke="#B00A18" stroke-width="1.3" opacity="0.7"/>
<path d="M1824,790 l40,22" fill="none" stroke="#B00A18" stroke-width="1.3" opacity="0.7"/>
<path d="M1864,808 l20,-45" fill="none" stroke="#B00A18" stroke-width="1.3" opacity="0.7"/>
<path d="M1869,745 l35,20" fill="none" stroke="#B00A18" stroke-width="1.3" opacity="0.7"/>
<path d="M1899,760 l14,-40" fill="none" stroke="#B00A18" stroke-width="1.3" opacity="0.7"/>
</g>
<g clip-path="url(#ff1158)">
<polygon points="1375.4,468.8 1373.5,467.2 1370.9,465.1 1367.7,462.5 1364.3,459.7 1360.6,456.7 1356.8,453.8 1353.2,451.0 1349.8,448.4 1346.5,446.0 1343.1,443.6 1339.6,441.1 1336.2,438.7 1332.8,436.4 1329.6,434.5 1326.6,432.8 1323.9,431.6 1321.5,431.0 1319.4,431.0 1317.6,431.4 1316.0,432.1 1314.7,432.9 1313.5,433.5 1312.4,434.0 1311.2,434.2 1309.7,434.2 1308.3,434.2 1306.8,434.1 1305.4,434.0 1303.9,433.8 1302.5,433.4 1301.0,432.8 1299.6,432.0 1298.0,430.9 1296.4,429.4 1294.8,427.8 1293.1,425.9 1291.5,424.0 1289.8,422.1 1288.1,420.2 1286.3,418.5 1284.6,416.9 1282.7,415.3 1280.7,413.7 1278.8,412.1 1277.0,410.7 1275.4,409.4 1274.0,408.3 1273.0,407.4 1272.0,408.6 1273.1,409.4 1274.4,410.5 1276.0,411.9 1277.8,413.3 1279.7,414.9 1281.6,416.6 1283.5,418.2 1285.2,419.8 1286.8,421.4 1288.4,423.2 1290.1,425.2 1291.8,427.1 1293.4,429.0 1295.1,430.8 1296.8,432.4 1298.5,433.6 1300.2,434.6 1301.8,435.3 1303.4,435.8 1305.1,436.1 1306.6,436.3 1308.2,436.3 1309.7,436.4 1311.3,436.4 1313.0,436.2 1314.5,435.6 1315.8,434.9 1317.1,434.2 1318.3,433.7 1319.6,433.4 1321.1,433.4 1323.1,434.0 1325.5,435.1 1328.3,436.6 1331.4,438.6 1334.7,440.8 1338.1,443.2 1341.5,445.7 1344.9,448.2 1348.2,450.6 1351.5,453.2 1355.1,456.0 1358.8,458.9 1362.4,461.9 1365.9,464.8 1369.0,467.4 1371.6,469.5 1373.6,471.2" fill="#F5C41E" /><polygon points="1375.4,471.2 1377.4,469.5 1380.0,467.4 1383.1,464.8 1386.6,461.9 1390.2,458.9 1393.9,456.0 1397.5,453.2 1400.8,450.6 1404.1,448.2 1407.5,445.7 1410.9,443.2 1414.3,440.8 1417.6,438.6 1420.7,436.6 1423.5,435.1 1425.9,434.0 1427.9,433.4 1429.4,433.4 1430.7,433.7 1431.9,434.2 1433.2,434.9 1434.5,435.6 1436.0,436.2 1437.7,436.4 1439.3,436.4 1440.8,436.3 1442.4,436.3 1443.9,436.1 1445.6,435.8 1447.2,435.3 1448.8,434.6 1450.5,433.6 1452.2,432.4 1453.9,430.8 1455.6,429.0 1457.2,427.1 1458.9,425.2 1460.6,423.2 1462.2,421.4 1463.8,419.8 1465.5,418.2 1467.4,416.6 1469.3,414.9 1471.2,413.3 1473.0,411.9 1474.6,410.5 1475.9,409.4 1477.0,408.6 1476.0,407.4 1475.0,408.3 1473.6,409.4 1472.0,410.7 1470.2,412.1 1468.3,413.7 1466.3,415.3 1464.4,416.9 1462.7,418.5 1460.9,420.2 1459.2,422.1 1457.5,424.0 1455.9,425.9 1454.2,427.8 1452.6,429.4 1451.0,430.9 1449.4,432.0 1448.0,432.8 1446.5,433.4 1445.1,433.8 1443.6,434.0 1442.2,434.1 1440.7,434.2 1439.3,434.2 1437.8,434.2 1436.6,434.0 1435.5,433.5 1434.3,432.9 1433.0,432.1 1431.4,431.4 1429.6,431.0 1427.5,431.0 1425.1,431.6 1422.4,432.8 1419.4,434.5 1416.2,436.4 1412.8,438.7 1409.4,441.1 1405.9,443.6 1402.5,446.0 1399.2,448.4 1395.8,451.0 1392.2,453.8 1388.4,456.7 1384.7,459.7 1381.3,462.5 1378.1,465.1 1375.5,467.2 1373.6,468.8" fill="#F5C41E" /><path d="M1323.5,432.8 C1326.4,428.8 1337.3,423.0 1337.3,408.4" fill="none" stroke="#F5C41E" stroke-width="1.2" stroke-linecap="round" opacity="0.9"/><path d="M1323.5,432.8 C1324.1,428.8 1326.1,423.1 1326.1,408.6" fill="none" stroke="#F5C41E" stroke-width="1.2" stroke-linecap="round" opacity="0.9"/><path d="M1323.5,432.8 C1321.8,428.8 1314.1,423.5 1314.1,409.6" fill="none" stroke="#F5C41E" stroke-width="1.2" stroke-linecap="round" opacity="0.9"/><path d="M1299.0,432.8 C1301.5,428.8 1312.1,424.2 1312.1,411.2" fill="none" stroke="#F5C41E" stroke-width="1.2" stroke-linecap="round" opacity="0.9"/><path d="M1299.0,432.8 C1299.5,428.8 1302.0,423.2 1302.0,408.9" fill="none" stroke="#F5C41E" stroke-width="1.2" stroke-linecap="round" opacity="0.9"/><path d="M1299.0,432.8 C1297.6,428.8 1291.7,423.3 1291.7,409.1" fill="none" stroke="#F5C41E" stroke-width="1.2" stroke-linecap="round" opacity="0.9"/><path d="M1374.5,470.0 C1370.0,451.4 1352.1,439.0 1352.1,417.3" fill="none" stroke="#F5C41E" stroke-width="1.2" stroke-linecap="round" opacity="0.9"/><path d="M1374.5,470.0 C1367.8,451.4 1340.8,439.0 1340.8,426.6" fill="none" stroke="#F5C41E" stroke-width="1.2" stroke-linecap="round" opacity="0.9"/><path d="M1425.5,432.8 C1422.6,428.8 1410.6,423.0 1410.6,408.4" fill="none" stroke="#F5C41E" stroke-width="1.2" stroke-linecap="round" opacity="0.9"/><path d="M1425.5,432.8 C1424.9,428.8 1422.1,424.4 1422.1,411.7" fill="none" stroke="#F5C41E" stroke-width="1.2" stroke-linecap="round" opacity="0.9"/><path d="M1425.5,432.8 C1427.2,428.8 1434.7,424.2 1434.7,411.2" fill="none" stroke="#F5C41E" stroke-width="1.2" stroke-linecap="round" opacity="0.9"/><path d="M1450.0,432.8 C1447.5,428.8 1438.3,423.2 1438.3,408.8" fill="none" stroke="#F5C41E" stroke-width="1.2" stroke-linecap="round" opacity="0.9"/><path d="M1450.0,432.8 C1449.5,428.8 1447.2,423.9 1447.2,410.5" fill="none" stroke="#F5C41E" stroke-width="1.2" stroke-linecap="round" opacity="0.9"/><path d="M1450.0,432.8 C1451.4,428.8 1457.8,424.2 1457.8,411.4" fill="none" stroke="#F5C41E" stroke-width="1.2" stroke-linecap="round" opacity="0.9"/><path d="M1374.5,470.0 C1379.0,451.4 1396.9,439.0 1396.9,417.3" fill="none" stroke="#F5C41E" stroke-width="1.2" stroke-linecap="round" opacity="0.9"/><path d="M1374.5,470.0 C1381.2,451.4 1408.2,439.0 1408.2,426.6" fill="none" stroke="#F5C41E" stroke-width="1.2" stroke-linecap="round" opacity="0.9"/><polygon points="1373.2,469.6 1372.5,472.0 1371.5,475.2 1370.4,479.0 1369.1,483.2 1367.7,487.6 1366.4,491.9 1365.1,496.0 1363.9,499.6 1362.8,503.0 1361.7,506.4 1360.5,509.8 1359.4,513.0 1358.4,516.0 1357.5,518.7 1356.7,520.9 1356.1,522.7 1357.9,523.3 1358.5,521.6 1359.3,519.4 1360.3,516.7 1361.4,513.7 1362.6,510.5 1363.7,507.1 1364.9,503.7 1366.1,500.4 1367.3,496.7 1368.6,492.6 1370.0,488.3 1371.4,483.9 1372.8,479.7 1374.0,475.9 1375.0,472.8 1375.8,470.4" fill="#F5C41E" />
<polygon points="1611.0,472.5 1609.1,470.8 1606.5,468.5 1603.4,465.8 1600.0,462.8 1596.4,459.7 1592.7,456.5 1589.2,453.5 1585.9,450.9 1582.6,448.3 1579.3,445.7 1575.9,443.1 1572.5,440.5 1569.2,438.2 1566.0,436.1 1563.1,434.4 1560.5,433.1 1558.1,432.4 1556.0,432.4 1554.2,432.8 1552.6,433.6 1551.3,434.4 1550.2,435.1 1549.1,435.6 1547.9,435.8 1546.5,435.8 1545.1,435.8 1543.6,435.7 1542.2,435.6 1540.8,435.3 1539.4,434.9 1538.0,434.3 1536.6,433.4 1535.1,432.3 1533.5,430.7 1531.9,429.0 1530.3,427.0 1528.6,425.0 1527.0,422.9 1525.3,421.0 1523.6,419.2 1521.9,417.5 1520.0,415.8 1518.1,414.1 1516.2,412.4 1514.4,410.9 1512.8,409.5 1511.5,408.3 1510.5,407.5 1509.5,408.5 1510.5,409.4 1511.8,410.6 1513.4,412.0 1515.2,413.6 1517.0,415.3 1518.9,417.0 1520.7,418.7 1522.4,420.4 1524.0,422.1 1525.6,424.1 1527.2,426.1 1528.9,428.2 1530.5,430.2 1532.1,432.1 1533.8,433.7 1535.4,435.0 1537.1,436.1 1538.7,436.8 1540.3,437.3 1541.9,437.7 1543.5,437.8 1545.0,437.9 1546.5,438.0 1548.1,438.0 1549.7,437.7 1551.2,437.1 1552.5,436.4 1553.7,435.6 1554.9,435.1 1556.2,434.8 1557.7,434.8 1559.5,435.4 1561.9,436.6 1564.7,438.2 1567.7,440.3 1570.9,442.6 1574.2,445.2 1577.6,447.8 1580.9,450.5 1584.1,453.0 1587.4,455.7 1590.9,458.7 1594.5,461.8 1598.1,465.0 1601.5,468.0 1604.5,470.7 1607.1,473.0 1609.0,474.7" fill="#F5C41E" /><polygon points="1611.0,474.7 1612.9,473.0 1615.5,470.7 1618.5,468.0 1621.9,465.0 1625.5,461.8 1629.1,458.7 1632.6,455.7 1635.9,453.0 1639.1,450.5 1642.4,447.8 1645.8,445.2 1649.1,442.6 1652.3,440.3 1655.3,438.2 1658.1,436.6 1660.5,435.4 1662.3,434.8 1663.8,434.8 1665.1,435.1 1666.3,435.6 1667.5,436.4 1668.8,437.1 1670.3,437.7 1671.9,438.0 1673.5,438.0 1675.0,437.9 1676.5,437.8 1678.1,437.7 1679.7,437.3 1681.3,436.8 1682.9,436.1 1684.6,435.0 1686.2,433.7 1687.9,432.1 1689.5,430.2 1691.1,428.2 1692.8,426.1 1694.4,424.1 1696.0,422.1 1697.6,420.4 1699.3,418.7 1701.1,417.0 1703.0,415.3 1704.8,413.6 1706.6,412.0 1708.2,410.6 1709.5,409.4 1710.5,408.5 1709.5,407.5 1708.5,408.3 1707.2,409.5 1705.6,410.9 1703.8,412.4 1701.9,414.1 1700.0,415.8 1698.1,417.5 1696.4,419.2 1694.7,421.0 1693.0,422.9 1691.4,425.0 1689.7,427.0 1688.1,429.0 1686.5,430.7 1684.9,432.3 1683.4,433.4 1682.0,434.3 1680.6,434.9 1679.2,435.3 1677.8,435.6 1676.4,435.7 1674.9,435.8 1673.5,435.8 1672.1,435.8 1670.9,435.6 1669.8,435.1 1668.7,434.4 1667.4,433.6 1665.8,432.8 1664.0,432.4 1661.9,432.4 1659.5,433.1 1656.9,434.4 1654.0,436.1 1650.8,438.2 1647.5,440.5 1644.1,443.1 1640.7,445.7 1637.4,448.3 1634.1,450.9 1630.8,453.5 1627.3,456.5 1623.6,459.7 1620.0,462.8 1616.6,465.8 1613.5,468.5 1610.9,470.8 1609.0,472.5" fill="#F5C41E" /><path d="M1560.0,434.2 C1562.8,430.2 1574.2,424.9 1574.2,411.0" fill="none" stroke="#F5C41E" stroke-width="1.2" stroke-linecap="round" opacity="0.9"/><path d="M1560.0,434.2 C1560.6,430.2 1563.4,425.3 1563.4,411.8" fill="none" stroke="#F5C41E" stroke-width="1.2" stroke-linecap="round" opacity="0.9"/><path d="M1560.0,434.2 C1558.3,430.2 1552.1,425.2 1552.1,411.7" fill="none" stroke="#F5C41E" stroke-width="1.2" stroke-linecap="round" opacity="0.9"/><path d="M1536.0,434.2 C1538.4,430.2 1547.1,424.5 1547.1,409.9" fill="none" stroke="#F5C41E" stroke-width="1.2" stroke-linecap="round" opacity="0.9"/><path d="M1536.0,434.2 C1536.5,430.2 1539.3,424.8 1539.3,410.6" fill="none" stroke="#F5C41E" stroke-width="1.2" stroke-linecap="round" opacity="0.9"/><path d="M1536.0,434.2 C1534.6,430.2 1529.6,423.9 1529.6,408.5" fill="none" stroke="#F5C41E" stroke-width="1.2" stroke-linecap="round" opacity="0.9"/><path d="M1610.0,473.6 C1605.6,453.9 1588.0,440.8 1588.0,417.8" fill="none" stroke="#F5C41E" stroke-width="1.2" stroke-linecap="round" opacity="0.9"/><path d="M1610.0,473.6 C1603.4,453.9 1577.0,440.8 1577.0,427.7" fill="none" stroke="#F5C41E" stroke-width="1.2" stroke-linecap="round" opacity="0.9"/><path d="M1660.0,434.2 C1657.2,430.2 1645.9,424.1 1645.9,409.0" fill="none" stroke="#F5C41E" stroke-width="1.2" stroke-linecap="round" opacity="0.9"/><path d="M1660.0,434.2 C1659.4,430.2 1657.3,424.7 1657.3,410.3" fill="none" stroke="#F5C41E" stroke-width="1.2" stroke-linecap="round" opacity="0.9"/><path d="M1660.0,434.2 C1661.7,430.2 1667.4,424.1 1667.4,408.9" fill="none" stroke="#F5C41E" stroke-width="1.2" stroke-linecap="round" opacity="0.9"/><path d="M1684.0,434.2 C1681.6,430.2 1671.6,425.2 1671.6,411.7" fill="none" stroke="#F5C41E" stroke-width="1.2" stroke-linecap="round" opacity="0.9"/><path d="M1684.0,434.2 C1683.5,430.2 1682.1,424.0 1682.1,408.6" fill="none" stroke="#F5C41E" stroke-width="1.2" stroke-linecap="round" opacity="0.9"/><path d="M1684.0,434.2 C1685.4,430.2 1691.8,424.0 1691.8,408.6" fill="none" stroke="#F5C41E" stroke-width="1.2" stroke-linecap="round" opacity="0.9"/><path d="M1610.0,473.6 C1614.4,453.9 1632.0,440.8 1632.0,417.8" fill="none" stroke="#F5C41E" stroke-width="1.2" stroke-linecap="round" opacity="0.9"/><path d="M1610.0,473.6 C1616.6,453.9 1643.0,440.8 1643.0,427.7" fill="none" stroke="#F5C41E" stroke-width="1.2" stroke-linecap="round" opacity="0.9"/><polygon points="1608.7,473.2 1608.0,475.7 1606.9,479.1 1605.7,483.2 1604.3,487.7 1602.9,492.3 1601.5,496.9 1600.1,501.0 1598.9,504.6 1597.8,507.8 1596.7,510.9 1595.5,513.8 1594.4,516.6 1593.4,519.1 1592.5,521.3 1591.7,523.2 1591.1,524.6 1592.9,525.4 1593.5,523.9 1594.3,522.1 1595.3,519.9 1596.3,517.4 1597.5,514.6 1598.7,511.7 1599.9,508.6 1601.1,505.4 1602.3,501.8 1603.7,497.6 1605.2,493.0 1606.7,488.4 1608.1,483.9 1609.4,479.9 1610.5,476.5 1611.3,474.0" fill="#F5C41E" />
<polygon points="1352.7,574.6 1350.1,570.3 1346.6,564.6 1342.5,557.8 1337.9,550.2 1333.1,542.3 1328.5,534.3 1324.2,526.7 1320.6,519.7 1317.5,513.0 1314.5,506.2 1311.8,499.3 1309.2,492.5 1306.8,486.0 1304.5,479.9 1302.5,474.5 1300.5,469.8 1298.7,465.9 1297.0,462.6 1295.5,459.9 1294.1,457.6 1293.0,455.8 1291.9,454.2 1291.1,452.9 1290.3,451.8 1289.7,452.2 1290.4,453.4 1291.2,454.7 1292.2,456.3 1293.4,458.1 1294.7,460.4 1296.1,463.1 1297.7,466.3 1299.5,470.2 1301.4,474.9 1303.5,480.3 1305.7,486.4 1308.1,492.9 1310.6,499.7 1313.3,506.6 1316.3,513.6 1319.4,520.3 1323.0,527.3 1327.3,535.0 1331.9,543.0 1336.6,551.0 1341.2,558.6 1345.3,565.4 1348.8,571.1 1351.3,575.4" fill="#2D6AD8" /><polygon points="1356.4,560.7 1358.8,559.2 1362.0,557.0 1365.8,554.3 1369.9,551.5 1374.2,548.9 1378.3,546.9 1382.0,545.7 1384.9,545.6 1387.3,546.8 1389.6,549.4 1391.9,552.8 1393.9,556.8 1395.7,560.9 1397.2,564.7 1398.5,568.0 1399.6,570.2 1400.4,569.8 1399.3,567.6 1398.1,564.4 1396.5,560.5 1394.8,556.4 1392.8,552.3 1390.5,548.7 1388.0,545.9 1385.1,544.4 1381.7,544.4 1377.8,545.7 1373.6,547.8 1369.2,550.3 1365.0,553.1 1361.1,555.7 1357.9,557.9 1355.6,559.3" fill="#2D6AD8" /><polygon points="1320.7,699.6 1317.1,693.2 1312.1,684.3 1306.2,673.7 1299.7,662.1 1293.0,650.2 1286.5,638.7 1280.6,628.3 1275.5,619.7 1271.2,612.6 1267.0,606.2 1263.2,600.4 1259.6,595.2 1256.4,590.7 1253.6,586.8 1251.2,583.5 1249.3,580.8 1248.7,581.2 1250.5,584.0 1252.9,587.3 1255.6,591.2 1258.8,595.8 1262.3,601.0 1266.1,606.8 1270.2,613.2 1274.5,620.3 1279.5,628.9 1285.4,639.3 1291.9,650.8 1298.5,662.8 1305.0,674.4 1310.8,685.0 1315.7,693.9 1319.3,700.4" fill="#2D6AD8" /><polygon points="1330.8,649.8 1329.5,644.4 1327.8,637.0 1325.7,628.3 1323.5,618.6 1321.2,608.5 1319.0,598.3 1317.1,588.6 1315.6,579.9 1314.4,571.5 1313.5,562.8 1312.7,554.1 1312.1,545.6 1311.5,537.6 1311.1,530.5 1310.7,524.5 1310.4,520.0 1309.6,520.0 1309.9,524.6 1310.2,530.6 1310.6,537.7 1311.1,545.7 1311.6,554.2 1312.4,562.9 1313.3,571.7 1314.4,580.1 1315.9,588.9 1317.8,598.6 1319.9,608.7 1322.1,618.9 1324.3,628.6 1326.3,637.4 1328.0,644.7 1329.2,650.2" fill="#2D6AD8" /><polygon points="1315.6,752.2 1316.1,747.5 1316.7,741.5 1317.3,734.3 1318.1,726.2 1319.1,717.5 1320.3,708.5 1321.8,699.3 1323.5,690.3 1325.7,681.1 1328.4,671.1 1331.5,660.6 1334.7,649.9 1337.9,639.3 1341.0,629.0 1343.9,619.3 1346.3,610.3 1348.3,602.5 1349.9,595.5 1351.4,589.1 1352.7,583.0 1353.9,577.0 1355.1,570.7 1356.4,563.8 1357.8,556.2 1359.3,547.7 1360.7,538.4 1362.2,528.7 1363.7,518.8 1365.2,508.7 1366.9,498.8 1368.8,489.3 1370.9,480.2 1373.3,471.2 1376.3,461.9 1379.5,452.6 1382.7,443.5 1385.9,435.0 1388.8,427.5 1391.2,421.1 1393.0,416.2 1391.8,415.8 1390.0,420.6 1387.5,427.0 1384.6,434.5 1381.3,443.0 1378.0,452.0 1374.7,461.4 1371.7,470.7 1369.1,479.8 1367.0,488.9 1365.1,498.5 1363.3,508.4 1361.7,518.5 1360.2,528.4 1358.7,538.1 1357.2,547.3 1355.6,555.8 1354.1,563.4 1352.8,570.2 1351.5,576.5 1350.3,582.5 1348.9,588.5 1347.4,594.9 1345.7,601.8 1343.7,609.7 1341.2,618.5 1338.4,628.2 1335.2,638.5 1331.9,649.1 1328.6,659.8 1325.5,670.2 1322.8,680.3 1320.5,689.7 1318.6,698.8 1317.1,708.0 1315.8,717.1 1314.8,725.8 1313.9,733.9 1313.2,741.1 1312.6,747.2 1312.0,751.8" fill="#2D6AD8" />
<polygon points="1452.7,580.4 1454.4,577.1 1456.6,572.7 1459.2,567.4 1462.1,561.6 1465.3,555.6 1468.6,549.9 1472.0,544.7 1475.4,540.4 1479.2,536.8 1483.4,533.6 1488.0,530.6 1492.7,527.9 1497.2,525.6 1501.2,523.5 1504.7,521.8 1507.2,520.3 1506.8,519.7 1504.3,521.0 1500.8,522.7 1496.7,524.7 1492.2,527.1 1487.5,529.7 1482.8,532.7 1478.4,536.0 1474.6,539.6 1471.0,543.9 1467.5,549.2 1464.1,555.0 1460.9,560.9 1457.9,566.7 1455.3,572.0 1453.0,576.4 1451.3,579.6" fill="#E0141C" /><polygon points="1455.6,609.3 1453.6,610.6 1450.8,612.3 1447.5,614.3 1443.9,616.6 1440.1,618.9 1436.4,621.0 1432.9,622.9 1429.8,624.4 1426.9,625.6 1424.0,626.5 1421.1,627.3 1418.3,627.9 1415.7,628.5 1413.4,628.9 1411.4,629.3 1409.9,629.6 1410.1,630.4 1411.6,630.1 1413.5,629.8 1415.9,629.4 1418.5,628.9 1421.3,628.3 1424.3,627.6 1427.3,626.7 1430.2,625.6 1433.4,624.1 1437.0,622.2 1440.8,620.0 1444.6,617.8 1448.3,615.6 1451.6,613.6 1454.4,611.9 1456.4,610.7" fill="#E0141C" /><polygon points="1470.6,670.5 1472.8,668.1 1475.7,664.9 1479.1,661.0 1482.9,656.7 1487.0,652.3 1491.4,648.0 1495.9,644.0 1500.3,640.5 1505.3,637.4 1510.9,634.3 1516.9,631.4 1523.1,628.6 1529.0,626.0 1534.3,623.8 1538.8,621.9 1542.2,620.4 1541.8,619.6 1538.5,621.1 1534.0,622.9 1528.6,625.2 1522.7,627.7 1516.5,630.4 1510.4,633.3 1504.7,636.4 1499.7,639.5 1495.1,643.0 1490.5,647.0 1486.1,651.4 1481.9,655.8 1478.0,660.0 1474.5,663.9 1471.7,667.1 1469.4,669.5" fill="#E0141C" /><polygon points="1490.7,744.6 1489.2,738.7 1487.1,730.9 1484.6,721.6 1481.9,711.3 1479.1,700.5 1476.3,689.7 1473.7,679.2 1471.4,669.7 1469.4,660.9 1467.5,652.2 1465.7,643.7 1464.0,635.3 1462.4,627.0 1460.8,618.6 1459.3,610.3 1457.7,601.8 1456.1,592.9 1454.5,583.3 1452.9,573.4 1451.4,563.6 1449.9,554.4 1448.6,546.1 1447.5,539.1 1446.6,533.9 1445.4,534.1 1446.1,539.4 1447.1,546.3 1448.3,554.6 1449.7,563.9 1451.1,573.6 1452.7,583.6 1454.2,593.2 1455.7,602.2 1457.1,610.6 1458.6,619.0 1460.1,627.4 1461.6,635.8 1463.2,644.2 1464.9,652.8 1466.7,661.5 1468.6,670.3 1470.8,679.9 1473.3,690.4 1476.0,701.3 1478.8,712.2 1481.4,722.5 1483.8,731.8 1485.8,739.6 1487.3,745.4" fill="#E0141C" />
<polygon points="1575.7,580.5 1577.5,577.7 1580.0,574.1 1582.8,569.7 1586.1,564.9 1589.6,559.8 1593.2,554.7 1596.9,549.9 1600.5,545.4 1604.3,541.0 1608.7,536.4 1613.3,531.7 1617.9,527.2 1622.4,522.9 1626.4,519.0 1629.8,515.8 1632.3,513.3 1631.7,512.7 1629.2,515.1 1625.8,518.4 1621.7,522.2 1617.2,526.5 1612.5,531.0 1607.9,535.7 1603.5,540.2 1599.5,544.6 1595.9,549.1 1592.1,554.0 1588.5,559.1 1584.9,564.1 1581.6,568.9 1578.7,573.2 1576.2,576.8 1574.3,579.5" fill="#E0141C" /><polygon points="1590.5,670.6 1593.2,668.2 1596.7,665.0 1600.9,661.2 1605.5,657.0 1610.5,652.6 1615.6,648.3 1620.6,644.2 1625.4,640.5 1630.3,637.0 1635.7,633.5 1641.3,630.0 1646.9,626.6 1652.3,623.4 1657.1,620.6 1661.2,618.2 1664.2,616.3 1663.8,615.7 1660.7,617.4 1656.7,619.8 1651.8,622.6 1646.4,625.7 1640.8,629.1 1635.1,632.6 1629.6,636.1 1624.6,639.5 1619.8,643.2 1614.7,647.3 1609.6,651.6 1604.6,656.0 1599.9,660.1 1595.7,663.9 1592.2,667.1 1589.5,669.4" fill="#E0141C" /><polygon points="1613.7,755.6 1612.4,750.5 1610.6,743.7 1608.5,735.7 1606.1,726.7 1603.6,717.3 1601.1,707.7 1598.7,698.3 1596.4,689.6 1594.1,681.6 1591.8,673.8 1589.4,666.1 1587.1,658.3 1584.8,650.4 1582.6,642.1 1580.7,633.3 1579.0,623.8 1577.6,612.9 1576.3,600.4 1575.2,587.0 1574.3,573.3 1573.5,560.2 1572.8,548.3 1572.2,538.3 1571.6,531.0 1570.4,531.0 1570.8,538.4 1571.3,548.4 1571.9,560.3 1572.6,573.4 1573.4,587.1 1574.4,600.6 1575.6,613.1 1577.0,624.2 1578.6,633.7 1580.4,642.7 1582.5,651.0 1584.7,659.0 1587.0,666.8 1589.2,674.5 1591.5,682.3 1593.6,690.4 1595.8,699.1 1598.2,708.4 1600.6,718.0 1603.0,727.5 1605.3,736.5 1607.3,744.6 1609.0,751.3 1610.3,756.4" fill="#E0141C" />
<polygon points="1710.7,562.7 1708.4,557.7 1705.2,550.9 1701.5,542.9 1697.4,534.0 1693.0,524.7 1688.6,515.6 1684.4,507.1 1680.5,499.7 1676.7,493.0 1672.7,486.3 1668.6,479.9 1664.5,473.8 1660.8,468.2 1657.4,463.2 1654.5,459.0 1652.3,455.8 1651.7,456.2 1653.8,459.5 1656.6,463.7 1660.0,468.7 1663.7,474.3 1667.7,480.5 1671.7,486.9 1675.7,493.6 1679.5,500.3 1683.3,507.7 1687.5,516.2 1691.8,525.3 1696.1,534.5 1700.2,543.5 1703.9,551.5 1707.0,558.3 1709.3,563.3" fill="#2D6AD8" /><polygon points="1711.7,580.7 1713.9,581.6 1716.9,583.0 1720.5,584.7 1724.5,586.5 1728.6,588.1 1732.7,589.5 1736.6,590.4 1740.0,590.6 1743.2,589.9 1746.3,588.5 1749.3,586.7 1752.1,584.5 1754.6,582.3 1756.9,580.2 1758.8,578.5 1760.2,577.3 1759.8,576.7 1758.2,577.8 1756.3,579.5 1754.0,581.6 1751.4,583.7 1748.7,585.8 1745.8,587.6 1742.8,588.8 1740.0,589.4 1736.8,589.2 1733.1,588.3 1729.1,586.9 1725.0,585.2 1721.1,583.4 1717.5,581.7 1714.5,580.2 1712.3,579.3" fill="#2D6AD8" /><polygon points="1680.7,689.7 1678.5,685.0 1675.6,678.7 1672.3,671.1 1668.4,662.8 1664.3,654.0 1659.8,645.3 1655.2,637.1 1650.5,629.7 1645.2,622.7 1639.2,615.5 1632.6,608.3 1626.0,601.4 1619.6,595.0 1613.8,589.2 1608.9,584.4 1605.3,580.7 1604.7,581.3 1608.3,585.0 1613.1,589.9 1618.9,595.6 1625.3,602.1 1631.9,609.0 1638.3,616.2 1644.3,623.4 1649.5,630.3 1654.1,637.7 1658.7,645.9 1663.1,654.6 1667.2,663.4 1670.9,671.7 1674.3,679.3 1677.1,685.6 1679.3,690.3" fill="#2D6AD8" /><polygon points="1672.8,763.2 1673.4,758.5 1674.1,752.3 1674.9,744.9 1675.9,736.7 1677.1,727.9 1678.4,718.7 1679.9,709.4 1681.5,700.3 1683.5,691.0 1685.9,681.0 1688.5,670.6 1691.3,660.0 1694.1,649.4 1696.8,639.1 1699.2,629.3 1701.3,620.3 1703.0,612.2 1704.3,605.0 1705.5,598.3 1706.5,591.9 1707.5,585.5 1708.6,578.7 1709.9,571.4 1711.6,563.2 1713.6,554.0 1715.8,543.9 1718.1,533.2 1720.6,522.2 1723.2,511.1 1725.8,500.2 1728.4,489.9 1730.8,480.2 1733.4,470.9 1736.2,461.4 1739.0,452.0 1741.8,443.0 1744.5,434.7 1746.9,427.3 1748.9,421.0 1750.4,416.2 1749.2,415.8 1747.6,420.6 1745.6,426.8 1743.1,434.3 1740.4,442.6 1737.5,451.6 1734.6,460.9 1731.8,470.4 1729.2,479.8 1726.6,489.4 1724.0,499.8 1721.3,510.7 1718.7,521.7 1716.1,532.7 1713.7,543.4 1711.4,553.5 1709.4,562.8 1707.7,571.0 1706.3,578.3 1705.1,585.1 1704.1,591.5 1703.0,597.9 1701.8,604.5 1700.4,611.7 1698.7,619.7 1696.5,628.7 1694.1,638.4 1691.3,648.7 1688.5,659.3 1685.7,669.9 1683.0,680.3 1680.5,690.3 1678.5,699.7 1676.7,708.8 1675.2,718.2 1673.8,727.4 1672.6,736.3 1671.5,744.5 1670.6,751.9 1669.9,758.0 1669.2,762.8" fill="#2D6AD8" />
</g><g clip-path="url(#rf1158)">
<g transform="matrix(1,-0.965,0,1,0,1687.78)"><polygon points="1866.9,473.1 1865.5,471.7 1863.5,469.8 1861.2,467.6 1858.7,465.1 1856.0,462.5 1853.2,459.9 1850.5,457.5 1848.0,455.3 1845.6,453.2 1843.1,451.0 1840.5,448.9 1838.0,446.8 1835.5,444.8 1833.1,443.1 1830.9,441.7 1828.9,440.6 1827.1,440.0 1825.4,440.0 1824.0,440.4 1822.9,441.0 1821.9,441.7 1821.0,442.3 1820.3,442.6 1819.4,442.8 1818.4,442.8 1817.3,442.8 1816.2,442.8 1815.2,442.7 1814.2,442.4 1813.1,442.1 1812.1,441.6 1811.0,440.9 1809.9,440.0 1808.7,438.7 1807.5,437.3 1806.3,435.7 1805.1,434.0 1803.8,432.3 1802.6,430.7 1801.3,429.2 1800.0,427.8 1798.6,426.4 1797.2,425.0 1795.7,423.6 1794.4,422.4 1793.2,421.2 1792.2,420.3 1791.4,419.5 1790.6,420.5 1791.3,421.2 1792.3,422.2 1793.5,423.3 1794.8,424.6 1796.2,426.0 1797.6,427.4 1798.9,428.8 1800.2,430.2 1801.4,431.6 1802.6,433.2 1803.8,434.9 1805.0,436.6 1806.3,438.3 1807.5,439.8 1808.7,441.2 1810.0,442.3 1811.2,443.1 1812.5,443.7 1813.7,444.2 1814.9,444.5 1816.1,444.6 1817.2,444.7 1818.4,444.7 1819.6,444.7 1820.9,444.5 1822.0,444.0 1823.0,443.4 1823.9,442.8 1824.8,442.3 1825.7,442.1 1826.7,442.2 1828.1,442.6 1829.8,443.5 1831.9,444.9 1834.1,446.6 1836.5,448.5 1839.0,450.6 1841.6,452.8 1844.1,455.0 1846.5,457.1 1848.9,459.3 1851.5,461.7 1854.2,464.3 1856.9,466.9 1859.5,469.4 1861.7,471.6 1863.6,473.5 1865.1,474.9" fill="#F5C41E" /><polygon points="1866.9,474.9 1868.4,473.5 1870.3,471.6 1872.5,469.4 1875.1,466.9 1877.8,464.3 1880.5,461.7 1883.1,459.3 1885.5,457.1 1887.9,455.0 1890.4,452.8 1893.0,450.6 1895.5,448.5 1897.9,446.6 1900.1,444.9 1902.2,443.5 1903.9,442.6 1905.3,442.2 1906.3,442.1 1907.2,442.3 1908.1,442.8 1909.0,443.4 1910.0,444.0 1911.1,444.5 1912.4,444.7 1913.6,444.7 1914.8,444.7 1915.9,444.6 1917.1,444.5 1918.3,444.2 1919.5,443.7 1920.8,443.1 1922.0,442.3 1923.3,441.2 1924.5,439.8 1925.7,438.3 1927.0,436.6 1928.2,434.9 1929.4,433.2 1930.6,431.6 1931.8,430.2 1933.1,428.8 1934.4,427.4 1935.8,426.0 1937.2,424.6 1938.5,423.3 1939.7,422.2 1940.7,421.2 1941.4,420.5 1940.6,419.5 1939.8,420.3 1938.8,421.2 1937.6,422.4 1936.3,423.6 1934.8,425.0 1933.4,426.4 1932.0,427.8 1930.7,429.2 1929.4,430.7 1928.2,432.3 1926.9,434.0 1925.7,435.7 1924.5,437.3 1923.3,438.7 1922.1,440.0 1921.0,440.9 1919.9,441.6 1918.9,442.1 1917.8,442.4 1916.8,442.7 1915.8,442.8 1914.7,442.8 1913.6,442.8 1912.6,442.8 1911.7,442.6 1911.0,442.3 1910.1,441.7 1909.1,441.0 1908.0,440.4 1906.6,440.0 1904.9,440.0 1903.1,440.6 1901.1,441.7 1898.9,443.1 1896.5,444.8 1894.0,446.8 1891.5,448.9 1888.9,451.0 1886.4,453.2 1884.0,455.3 1881.5,457.5 1878.8,459.9 1876.0,462.5 1873.3,465.1 1870.8,467.6 1868.5,469.8 1866.5,471.7 1865.1,473.1" fill="#F5C41E" /><path d="M1828.5,441.6 C1830.6,437.6 1839.6,434.3 1839.6,423.3" fill="none" stroke="#F5C41E" stroke-width="1.05" stroke-linecap="round" opacity="0.9"/><path d="M1828.5,441.6 C1828.9,437.6 1830.6,433.4 1830.6,421.0" fill="none" stroke="#F5C41E" stroke-width="1.05" stroke-linecap="round" opacity="0.9"/><path d="M1828.5,441.6 C1827.2,437.6 1821.2,434.0 1821.2,422.7" fill="none" stroke="#F5C41E" stroke-width="1.05" stroke-linecap="round" opacity="0.9"/><path d="M1810.5,441.6 C1812.3,437.6 1819.4,434.2 1819.4,423.0" fill="none" stroke="#F5C41E" stroke-width="1.05" stroke-linecap="round" opacity="0.9"/><path d="M1810.5,441.6 C1810.9,437.6 1812.0,434.2 1812.0,423.1" fill="none" stroke="#F5C41E" stroke-width="1.05" stroke-linecap="round" opacity="0.9"/><path d="M1810.5,441.6 C1809.4,437.6 1804.6,434.2 1804.6,423.2" fill="none" stroke="#F5C41E" stroke-width="1.05" stroke-linecap="round" opacity="0.9"/><path d="M1866.0,474.0 C1862.7,457.8 1849.5,447.0 1849.5,428.1" fill="none" stroke="#F5C41E" stroke-width="1.05" stroke-linecap="round" opacity="0.9"/><path d="M1866.0,474.0 C1861.0,457.8 1841.2,447.0 1841.2,436.2" fill="none" stroke="#F5C41E" stroke-width="1.05" stroke-linecap="round" opacity="0.9"/><path d="M1903.5,441.6 C1901.4,437.6 1893.5,433.6 1893.5,421.7" fill="none" stroke="#F5C41E" stroke-width="1.05" stroke-linecap="round" opacity="0.9"/><path d="M1903.5,441.6 C1903.1,437.6 1901.5,434.1 1901.5,422.7" fill="none" stroke="#F5C41E" stroke-width="1.05" stroke-linecap="round" opacity="0.9"/><path d="M1903.5,441.6 C1904.8,437.6 1909.2,433.8 1909.2,422.2" fill="none" stroke="#F5C41E" stroke-width="1.05" stroke-linecap="round" opacity="0.9"/><path d="M1921.5,441.6 C1919.7,437.6 1913.1,433.4 1913.1,421.1" fill="none" stroke="#F5C41E" stroke-width="1.05" stroke-linecap="round" opacity="0.9"/><path d="M1921.5,441.6 C1921.1,437.6 1920.3,434.1 1920.3,422.7" fill="none" stroke="#F5C41E" stroke-width="1.05" stroke-linecap="round" opacity="0.9"/><path d="M1921.5,441.6 C1922.6,437.6 1927.6,433.5 1927.6,421.3" fill="none" stroke="#F5C41E" stroke-width="1.05" stroke-linecap="round" opacity="0.9"/><path d="M1866.0,474.0 C1869.3,457.8 1882.5,447.0 1882.5,428.1" fill="none" stroke="#F5C41E" stroke-width="1.05" stroke-linecap="round" opacity="0.9"/><path d="M1866.0,474.0 C1871.0,457.8 1890.8,447.0 1890.8,436.2" fill="none" stroke="#F5C41E" stroke-width="1.05" stroke-linecap="round" opacity="0.9"/></g><polygon points="1865.1,360.7 1866.6,362.5 1868.6,364.8 1870.9,367.4 1873.5,370.5 1876.2,373.8 1878.9,377.5 1881.6,381.4 1884.1,385.5 1886.4,390.2 1888.8,395.6 1891.2,401.5 1893.6,407.7 1896.0,413.8 1898.4,419.6 1900.8,424.9 1903.2,429.5 1905.8,433.3 1908.5,436.8 1911.3,439.8 1914.1,442.4 1916.7,444.7 1919.0,446.6 1921.0,448.3 1922.4,449.6 1923.6,448.4 1922.1,447.0 1920.1,445.3 1917.8,443.4 1915.3,441.1 1912.6,438.5 1909.9,435.6 1907.3,432.2 1904.8,428.5 1902.5,424.1 1900.1,418.9 1897.8,413.1 1895.4,407.0 1893.1,400.8 1890.7,394.8 1888.3,389.3 1885.9,384.5 1883.4,380.2 1880.7,376.2 1877.9,372.5 1875.2,369.0 1872.6,366.0 1870.3,363.3 1868.3,361.1 1866.9,359.3" fill="#F5C41E" />
<polygon points="1808.5,469.4 1806.7,467.8 1804.2,465.6 1801.2,463.0 1797.9,460.1 1794.5,457.1 1791.1,454.3 1788.0,451.7 1785.4,449.5 1783.0,447.7 1780.6,446.1 1778.4,444.6 1776.3,443.3 1774.4,442.2 1772.7,441.2 1771.3,440.3 1770.2,439.7 1769.8,440.3 1770.9,441.1 1772.3,441.9 1773.9,443.0 1775.8,444.2 1777.8,445.5 1780.0,447.0 1782.3,448.7 1784.6,450.5 1787.2,452.6 1790.3,455.3 1793.6,458.2 1797.0,461.1 1800.2,464.1 1803.2,466.7 1805.7,469.0 1807.5,470.6" fill="#E0141C" /><polygon points="1810.7,480.4 1812.2,478.0 1814.2,474.8 1816.6,470.9 1819.3,466.6 1822.2,462.2 1825.1,457.9 1827.9,453.8 1830.5,450.4 1833.1,447.3 1835.9,444.2 1838.7,441.3 1841.6,438.5 1844.3,435.9 1846.7,433.7 1848.7,431.8 1850.3,430.3 1849.7,429.7 1848.2,431.2 1846.1,433.0 1843.6,435.2 1840.9,437.8 1838.0,440.5 1835.1,443.4 1832.2,446.5 1829.5,449.6 1826.9,453.1 1824.0,457.1 1821.1,461.5 1818.2,465.9 1815.4,470.1 1813.0,474.0 1810.9,477.2 1809.3,479.6" fill="#E0141C" /><polygon points="1825.6,520.5 1827.5,518.1 1830.0,514.8 1832.9,510.9 1836.2,506.7 1839.7,502.3 1843.3,497.9 1846.9,493.9 1850.4,490.4 1854.1,487.3 1858.2,484.3 1862.5,481.3 1866.8,478.5 1871.0,476.0 1874.7,473.7 1877.9,471.8 1880.2,470.3 1879.8,469.7 1877.4,471.1 1874.3,473.0 1870.5,475.2 1866.3,477.7 1861.9,480.4 1857.5,483.4 1853.4,486.4 1849.6,489.6 1846.0,493.0 1842.3,497.1 1838.6,501.4 1835.1,505.8 1831.7,510.1 1828.8,513.9 1826.3,517.1 1824.4,519.5" fill="#E0141C" /><polygon points="1831.6,539.6 1830.8,536.5 1829.7,532.2 1828.5,527.2 1827.2,521.5 1825.7,515.7 1824.2,509.9 1822.7,504.4 1821.2,499.6 1819.7,495.4 1818.2,491.6 1816.5,488.0 1814.9,484.5 1813.3,481.1 1811.7,477.6 1810.3,473.8 1808.9,469.7 1807.7,465.0 1806.4,459.6 1805.2,453.8 1804.0,448.0 1803.0,442.4 1802.1,437.3 1801.3,433.0 1800.6,429.9 1799.4,430.1 1799.9,433.3 1800.6,437.5 1801.5,442.6 1802.5,448.3 1803.5,454.1 1804.7,460.0 1805.9,465.4 1807.1,470.3 1808.4,474.5 1809.8,478.4 1811.3,482.0 1812.9,485.5 1814.4,488.9 1815.9,492.5 1817.4,496.3 1818.8,500.4 1820.1,505.2 1821.6,510.6 1823.0,516.4 1824.3,522.2 1825.6,527.8 1826.8,532.9 1827.7,537.2 1828.4,540.4" fill="#E0141C" />
<polygon points="1862.6,439.5 1860.5,437.1 1857.6,433.8 1854.1,429.8 1850.3,425.5 1846.3,421.0 1842.4,416.7 1838.7,412.8 1835.4,409.6 1832.4,406.9 1829.4,404.4 1826.4,402.2 1823.6,400.2 1821.0,398.5 1818.7,397.0 1816.7,395.7 1815.2,394.7 1814.8,395.3 1816.3,396.4 1818.2,397.7 1820.5,399.3 1823.0,401.0 1825.8,403.0 1828.7,405.3 1831.7,407.7 1834.6,410.4 1837.8,413.7 1841.4,417.6 1845.3,421.9 1849.2,426.4 1853.0,430.8 1856.4,434.7 1859.3,438.1 1861.4,440.5" fill="#2D6AD8" /><polygon points="1860.6,480.6 1862.5,478.6 1865.3,475.8 1868.5,472.5 1872.1,468.9 1875.7,465.2 1879.3,461.6 1882.6,458.3 1885.4,455.4 1887.9,453.0 1890.2,450.6 1892.4,448.4 1894.4,446.3 1896.2,444.4 1897.9,442.8 1899.2,441.4 1900.3,440.3 1899.7,439.7 1898.6,440.8 1897.2,442.1 1895.6,443.8 1893.7,445.6 1891.6,447.6 1889.4,449.8 1887.0,452.1 1884.6,454.6 1881.7,457.4 1878.4,460.7 1874.8,464.3 1871.1,467.9 1867.5,471.5 1864.2,474.7 1861.4,477.5 1859.4,479.4" fill="#2D6AD8" /><polygon points="1852.7,539.6 1851.1,536.9 1849.0,533.1 1846.6,528.7 1843.8,523.7 1840.7,518.6 1837.5,513.5 1834.0,508.8 1830.4,504.6 1826.4,500.8 1821.7,497.0 1816.6,493.4 1811.4,489.9 1806.4,486.7 1801.8,483.9 1798.0,481.5 1795.2,479.7 1794.8,480.3 1797.6,482.2 1801.4,484.6 1805.9,487.5 1810.8,490.7 1816.0,494.2 1821.0,497.9 1825.6,501.7 1829.6,505.4 1833.0,509.5 1836.4,514.2 1839.6,519.3 1842.6,524.4 1845.3,529.3 1847.7,533.8 1849.7,537.6 1851.3,540.4" fill="#2D6AD8" /><polygon points="1849.7,590.1 1849.9,586.3 1850.3,581.4 1850.6,575.5 1851.1,568.9 1851.6,561.8 1852.1,554.5 1852.7,547.2 1853.4,540.2 1854.2,533.2 1855.1,525.9 1856.2,518.4 1857.2,510.8 1858.3,503.1 1859.3,495.4 1860.3,487.7 1861.2,480.1 1861.9,472.6 1862.5,465.1 1863.1,457.6 1863.6,450.1 1864.1,442.6 1864.7,435.1 1865.2,427.6 1865.9,420.1 1866.7,412.2 1867.6,403.7 1868.6,395.0 1869.6,386.3 1870.5,378.2 1871.4,370.9 1872.1,364.7 1872.6,360.1 1871.4,359.9 1870.8,364.5 1870.0,370.7 1869.1,378.0 1868.0,386.2 1867.0,394.8 1865.9,403.5 1865.0,412.0 1864.1,419.9 1863.4,427.4 1862.7,434.9 1862.1,442.4 1861.5,449.9 1860.9,457.4 1860.3,464.9 1859.6,472.4 1858.8,479.9 1857.9,487.4 1856.9,495.1 1855.8,502.8 1854.6,510.4 1853.5,518.0 1852.4,525.5 1851.4,532.8 1850.6,539.8 1849.8,546.9 1849.1,554.2 1848.5,561.6 1847.9,568.6 1847.4,575.2 1847.0,581.1 1846.6,586.1 1846.3,589.9" fill="#2D6AD8" />
</g>
<path d="M1213.0,749.0 C1237.2,749.2 1312.2,748.8 1358.0,750.0 C1403.8,751.2 1433.0,756.2 1488.0,756.0 C1543.0,755.8 1635.5,750.7 1688.0,749.0 C1740.5,747.3 1783.8,746.5 1803.0,746.0" fill="none" stroke="#E0141C" stroke-width="11.5" stroke-linecap="round"/>
<path d="M1213.0,762.0 C1237.2,762.5 1305.3,763.5 1358.0,765.0 C1410.7,766.5 1472.3,771.3 1529.0,771.0 C1585.7,770.7 1652.3,765.2 1698.0,763.0 C1743.7,760.8 1785.5,758.8 1803.0,758.0" fill="none" stroke="#2D6AD8" stroke-width="12" stroke-linecap="round"/>
<path d="M1213.0,747.0 C1237.2,747.2 1312.2,746.8 1358.0,748.0 C1403.8,749.2 1433.0,754.2 1488.0,754.0 C1543.0,753.8 1635.5,748.7 1688.0,747.0 C1740.5,745.3 1783.8,744.5 1803.0,744.0" fill="none" stroke="#F05A5A" stroke-width="2" opacity="0.6"/>
<path d="M1213.0,760.0 C1237.2,760.5 1305.3,761.5 1358.0,763.0 C1410.7,764.5 1472.3,769.3 1529.0,769.0 C1585.7,768.7 1652.3,763.2 1698.0,761.0 C1743.7,758.8 1785.5,756.8 1803.0,756.0" fill="none" stroke="#6A9AF0" stroke-width="2" opacity="0.6"/>
<ellipse cx="1803" cy="746" rx="4.5" ry="5.5" fill="#6A0A0A"/><ellipse cx="1803" cy="758" rx="4.5" ry="5.5" fill="#0A2A90"/>
<path d="M1727.5,793.0 C1732.7,786.2 1747.5,765.3 1758.5,752.0 C1769.5,738.7 1781.7,723.7 1793.5,713.0 C1805.3,702.3 1817.5,697.0 1829.5,688.0 C1841.5,679.0 1853.5,671.0 1865.5,659.0 C1877.5,647.0 1887.8,630.5 1901.5,616.0 C1915.2,601.5 1939.8,579.3 1947.5,572.0" fill="none" stroke="#E0141C" stroke-width="7" stroke-linecap="round"/>
<path d="M1723.0,788.0 C1728.2,781.2 1743.0,760.3 1754.0,747.0 C1765.0,733.7 1777.2,718.7 1789.0,708.0 C1800.8,697.3 1813.0,692.0 1825.0,683.0 C1837.0,674.0 1849.0,666.0 1861.0,654.0 C1873.0,642.0 1883.3,625.5 1897.0,611.0 C1910.7,596.5 1935.3,574.3 1943.0,567.0" fill="none" stroke="#2D6AD8" stroke-width="7" stroke-linecap="round"/>
<path d="M1722.0,786.5 C1727.2,779.7 1742.0,758.8 1753.0,745.5 C1764.0,732.2 1776.2,717.2 1788.0,706.5 C1799.8,695.8 1812.0,690.5 1824.0,681.5 C1836.0,672.5 1848.0,664.5 1860.0,652.5 C1872.0,640.5 1882.3,624.0 1896.0,609.5 C1909.7,595.0 1934.3,572.8 1942.0,565.5" fill="none" stroke="#7FA8F5" stroke-width="1.5" opacity="0.7"/>
<polygon points="250.8,174.5 249.7,176.5 249.0,179.3 248.3,182.6 247.5,186.2 246.6,190.2 245.8,194.4 244.9,198.6 244.1,202.9 243.3,206.9 242.6,210.7 241.9,214.4 241.2,218.0 240.6,221.7 239.9,225.3 239.3,229.0 238.6,232.6 238.0,236.3 237.4,240.0 236.8,243.6 236.2,247.3 235.7,250.9 235.1,254.6 234.6,258.2 234.0,261.9 233.5,265.5 233.0,269.2 232.5,272.9 232.0,276.5 231.5,280.2 231.1,283.8 230.6,287.7 230.1,291.7 229.6,296.0 229.1,300.2 228.6,304.4 228.1,308.4 227.7,312.1 227.3,315.4 227.0,318.2 226.7,320.4 232.7,321.0 232.9,318.8 233.2,316.0 233.5,312.7 233.9,309.0 234.3,305.0 234.7,300.8 235.1,296.6 235.6,292.4 236.0,288.3 236.4,284.5 236.8,280.8 237.3,277.2 237.7,273.5 238.1,269.9 238.5,266.2 239.0,262.5 239.4,258.9 239.9,255.2 240.4,251.6 240.9,247.9 241.4,244.3 241.9,240.6 242.4,237.0 242.9,233.3 243.4,229.7 244.0,226.0 244.5,222.3 245.1,218.7 245.6,215.0 246.2,211.4 246.8,207.5 247.4,203.5 248.1,199.2 248.8,195.0 249.5,190.8 250.1,186.7 250.7,183.0 251.2,179.7 251.5,176.8 251.2,174.5" fill="#2B211A" />
<circle cx="229.7" cy="320.7" r="3.0" fill="#2B211A"/>
<polygon points="525.8,104.2 524.7,106.2 524.0,108.9 523.2,112.2 522.4,115.9 521.5,119.8 520.7,124.0 519.8,128.2 518.9,132.4 518.1,136.5 517.4,140.3 516.7,143.9 516.0,147.5 515.3,151.1 514.6,154.8 513.9,158.4 513.3,162.0 512.6,165.7 512.0,169.3 511.4,173.0 510.8,176.6 510.2,180.2 509.6,183.9 509.1,187.5 508.5,191.2 508.0,194.8 507.4,198.4 506.9,202.1 506.4,205.7 505.9,209.3 505.4,213.0 504.9,216.8 504.4,220.9 503.8,225.1 503.3,229.3 502.8,233.5 502.3,237.4 501.8,241.1 501.4,244.4 501.1,247.2 500.8,249.4 506.8,250.0 507.0,247.9 507.3,245.1 507.6,241.8 508.0,238.1 508.5,234.1 508.9,229.9 509.4,225.7 509.9,221.5 510.3,217.5 510.8,213.7 511.2,210.0 511.6,206.4 512.1,202.8 512.5,199.1 513.0,195.5 513.4,191.8 513.9,188.2 514.4,184.6 514.9,180.9 515.4,177.3 515.9,173.7 516.5,170.0 517.0,166.4 517.5,162.8 518.1,159.1 518.7,155.5 519.2,151.8 519.8,148.2 520.4,144.5 521.0,140.9 521.6,137.1 522.3,133.0 523.0,128.8 523.7,124.6 524.4,120.4 525.0,116.4 525.6,112.7 526.1,109.3 526.5,106.5 526.2,104.2" fill="#2B211A" />
<circle cx="503.8" cy="249.7" r="3.0" fill="#2B211A"/>
<polygon points="643.8,175.2 642.7,177.2 642.0,180.0 641.2,183.3 640.4,187.0 639.6,191.0 638.7,195.2 637.8,199.5 637.0,203.8 636.2,207.9 635.4,211.7 634.7,215.4 634.0,219.1 633.4,222.7 632.7,226.4 632.0,230.1 631.4,233.8 630.7,237.5 630.1,241.1 629.5,244.8 628.9,248.5 628.3,252.2 627.7,255.9 627.2,259.6 626.6,263.2 626.1,266.9 625.6,270.6 625.1,274.3 624.5,278.0 624.0,281.7 623.5,285.3 623.0,289.2 622.5,293.3 622.0,297.6 621.5,301.9 621.0,306.1 620.5,310.1 620.0,313.8 619.6,317.2 619.3,320.0 619.0,322.2 625.0,322.8 625.2,320.6 625.5,317.8 625.8,314.5 626.2,310.7 626.6,306.7 627.1,302.5 627.5,298.2 628.0,294.0 628.5,289.9 628.9,286.0 629.3,282.3 629.8,278.6 630.2,275.0 630.7,271.3 631.1,267.6 631.6,263.9 632.0,260.2 632.5,256.6 633.0,252.9 633.5,249.2 634.0,245.5 634.5,241.8 635.1,238.1 635.6,234.5 636.2,230.8 636.7,227.1 637.3,223.4 637.9,219.7 638.5,216.0 639.0,212.3 639.6,208.5 640.3,204.4 641.0,200.1 641.7,195.8 642.4,191.6 643.1,187.5 643.6,183.8 644.1,180.4 644.5,177.6 644.2,175.2" fill="#2B211A" />
<circle cx="622.0" cy="322.5" r="3.0" fill="#2B211A"/>
<polygon points="1420.0,171.6 1418.9,173.6 1418.2,176.3 1417.4,179.6 1416.6,183.3 1415.8,187.3 1414.9,191.4 1414.0,195.6 1413.2,199.8 1412.4,203.9 1411.6,207.7 1410.9,211.3 1410.2,214.9 1409.6,218.6 1408.9,222.2 1408.2,225.9 1407.6,229.5 1406.9,233.1 1406.3,236.8 1405.7,240.4 1405.1,244.1 1404.5,247.7 1403.9,251.3 1403.4,255.0 1402.8,258.6 1402.3,262.3 1401.8,265.9 1401.3,269.5 1400.7,273.2 1400.2,276.8 1399.7,280.5 1399.2,284.3 1398.7,288.3 1398.2,292.5 1397.7,296.8 1397.2,301.0 1396.7,304.9 1396.2,308.6 1395.8,311.9 1395.5,314.7 1395.2,316.9 1401.2,317.5 1401.4,315.4 1401.7,312.6 1402.0,309.3 1402.4,305.6 1402.8,301.6 1403.3,297.4 1403.7,293.2 1404.2,289.0 1404.7,284.9 1405.1,281.1 1405.5,277.5 1406.0,273.9 1406.4,270.2 1406.9,266.6 1407.3,262.9 1407.8,259.3 1408.2,255.7 1408.7,252.0 1409.2,248.4 1409.7,244.7 1410.2,241.1 1410.7,237.5 1411.3,233.8 1411.8,230.2 1412.4,226.5 1412.9,222.9 1413.5,219.3 1414.1,215.6 1414.7,212.0 1415.2,208.3 1415.8,204.5 1416.5,200.4 1417.2,196.2 1417.9,192.0 1418.6,187.8 1419.3,183.8 1419.8,180.1 1420.3,176.8 1420.7,173.9 1420.4,171.6" fill="#2B211A" />
<circle cx="1398.2" cy="317.2" r="3.0" fill="#2B211A"/>
<polygon points="1673.8,100.6 1672.7,102.6 1672.0,105.3 1671.2,108.6 1670.4,112.3 1669.5,116.3 1668.7,120.4 1667.8,124.6 1666.9,128.8 1666.1,132.9 1665.4,136.7 1664.6,140.3 1663.9,143.9 1663.3,147.6 1662.6,151.2 1661.9,154.8 1661.3,158.5 1660.6,162.1 1660.0,165.8 1659.4,169.4 1658.7,173.0 1658.2,176.7 1657.6,180.3 1657.0,184.0 1656.5,187.6 1655.9,191.3 1655.4,194.9 1654.9,198.5 1654.3,202.2 1653.8,205.8 1653.3,209.5 1652.8,213.3 1652.3,217.3 1651.7,221.5 1651.2,225.8 1650.7,229.9 1650.2,233.9 1649.8,237.6 1649.3,240.9 1649.0,243.7 1648.7,245.9 1654.7,246.5 1654.9,244.4 1655.2,241.6 1655.5,238.3 1655.9,234.6 1656.4,230.6 1656.8,226.4 1657.3,222.2 1657.8,218.0 1658.2,213.9 1658.7,210.1 1659.1,206.5 1659.6,202.9 1660.0,199.2 1660.5,195.6 1660.9,191.9 1661.4,188.3 1661.9,184.7 1662.4,181.0 1662.8,177.4 1663.4,173.8 1663.9,170.1 1664.4,166.5 1665.0,162.8 1665.5,159.2 1666.1,155.6 1666.6,151.9 1667.2,148.3 1667.8,144.6 1668.4,141.0 1669.0,137.3 1669.6,133.5 1670.2,129.4 1671.0,125.2 1671.7,121.0 1672.4,116.8 1673.0,112.8 1673.6,109.1 1674.1,105.8 1674.5,102.9 1674.2,100.6" fill="#2B211A" />
<circle cx="1651.7" cy="246.2" r="3.0" fill="#2B211A"/>
<polygon points="1799.8,162.8 1798.7,164.8 1798.0,167.5 1797.2,170.8 1796.4,174.5 1795.5,178.4 1794.7,182.6 1793.8,186.8 1792.9,191.0 1792.1,195.1 1791.4,198.9 1790.6,202.5 1789.9,206.1 1789.3,209.7 1788.6,213.4 1787.9,217.0 1787.3,220.6 1786.6,224.3 1786.0,227.9 1785.4,231.6 1784.7,235.2 1784.2,238.8 1783.6,242.5 1783.0,246.1 1782.5,249.8 1781.9,253.4 1781.4,257.0 1780.9,260.7 1780.3,264.3 1779.8,267.9 1779.3,271.6 1778.8,275.4 1778.3,279.4 1777.7,283.7 1777.2,287.9 1776.7,292.1 1776.2,296.0 1775.8,299.7 1775.3,303.0 1775.0,305.8 1774.7,308.0 1780.7,308.6 1780.9,306.5 1781.2,303.7 1781.5,300.4 1781.9,296.7 1782.4,292.7 1782.8,288.6 1783.3,284.3 1783.8,280.1 1784.2,276.1 1784.7,272.3 1785.1,268.6 1785.6,265.0 1786.0,261.4 1786.5,257.7 1786.9,254.1 1787.4,250.4 1787.9,246.8 1788.4,243.2 1788.8,239.5 1789.4,235.9 1789.9,232.3 1790.4,228.6 1791.0,225.0 1791.5,221.4 1792.1,217.7 1792.6,214.1 1793.2,210.4 1793.8,206.8 1794.4,203.1 1795.0,199.5 1795.6,195.7 1796.2,191.6 1797.0,187.4 1797.7,183.2 1798.4,179.0 1799.0,175.0 1799.6,171.3 1800.1,168.0 1800.5,165.1 1800.2,162.8" fill="#2B211A" />
<circle cx="1777.7" cy="308.3" r="3.0" fill="#2B211A"/>
<line x1="295.0" y1="82.5" x2="367.5" y2="239.0" stroke="#1A1A1A" stroke-width="1.35"/>
<line x1="909.6" y1="182.9" x2="759.2" y2="274.4" stroke="#1A1A1A" stroke-width="1.35"/>
<line x1="917.9" y1="278.4" x2="745.0" y2="346.0" stroke="#1A1A1A" stroke-width="1.35"/>
<line x1="917.9" y1="278.4" x2="750.0" y2="406.0" stroke="#1A1A1A" stroke-width="1.35"/>
<line x1="937.6" y1="394.2" x2="760.0" y2="414.0" stroke="#1A1A1A" stroke-width="1.35"/>
<line x1="926.7" y1="461.9" x2="737.5" y2="510.0" stroke="#1A1A1A" stroke-width="1.35"/>
<line x1="847.4" y1="551.6" x2="754.0" y2="548.7" stroke="#1A1A1A" stroke-width="1.35"/>
<line x1="860.7" y1="831.0" x2="622.4" y2="774.4" stroke="#1A1A1A" stroke-width="1.35"/>
<line x1="924.4" y1="923.6" x2="622.4" y2="860.2" stroke="#1A1A1A" stroke-width="1.35"/>
<line x1="1770.0" y1="90.0" x2="1678.7" y2="320.7" stroke="#1A1A1A" stroke-width="1.35"/>
<line x1="1770.0" y1="90.0" x2="1742.6" y2="253.3" stroke="#1A1A1A" stroke-width="1.35"/>
<line x1="1101.5" y1="183.0" x2="1295.0" y2="405.0" stroke="#1A1A1A" stroke-width="1.35"/>
<line x1="1097.3" y1="278.4" x2="1315.0" y2="470.0" stroke="#1A1A1A" stroke-width="1.35"/>
<line x1="1097.3" y1="278.4" x2="1275.0" y2="492.5" stroke="#1A1A1A" stroke-width="1.35"/>
<line x1="1073.3" y1="395.3" x2="1239.0" y2="482.5" stroke="#1A1A1A" stroke-width="1.35"/>
<line x1="1086.0" y1="459.3" x2="1324.5" y2="552.0" stroke="#1A1A1A" stroke-width="1.35"/>
<line x1="1102.7" y1="635.5" x2="1257.2" y2="620.8" stroke="#1A1A1A" stroke-width="1.35"/>
<line x1="1159.8" y1="744.7" x2="1287.4" y2="688.0" stroke="#1A1A1A" stroke-width="1.35"/>
<line x1="1146.7" y1="839.6" x2="1287.4" y2="792.4" stroke="#1A1A1A" stroke-width="1.35"/>
<line x1="1082.0" y1="926.0" x2="1287.4" y2="860.3" stroke="#1A1A1A" stroke-width="1.35"/>
<text x="923.8" y="191.3" font-size="37.0" font-family="Liberation Sans, sans-serif"  fill="#111" textLength="161.6" lengthAdjust="spacingAndGlyphs">Epidermis</text>
<text x="931.8" y="268.0" font-size="37.0" font-family="Liberation Sans, sans-serif"  fill="#111" textLength="143.7" lengthAdjust="spacingAndGlyphs">Collagen</text>
<text x="915.3" y="306.0" font-size="37.0" font-family="Liberation Sans, sans-serif"  fill="#111" textLength="176.5" lengthAdjust="spacingAndGlyphs">and elastin</text>
<text x="946.3" y="408.5" font-size="37.0" font-family="Liberation Sans, sans-serif"  fill="#111" textLength="115.6" lengthAdjust="spacingAndGlyphs">Dermis</text>
<text x="940.4" y="474.7" font-size="37.0" font-family="Liberation Sans, sans-serif"  fill="#111" textLength="127.9" lengthAdjust="spacingAndGlyphs">Fat cells</text>
<text x="860.8" y="565.2" font-size="37.0" font-family="Liberation Sans, sans-serif"  fill="#111" textLength="286.5" lengthAdjust="spacingAndGlyphs">Connective tissue</text>
<text x="922.4" y="640.8" font-size="37.0" font-family="Liberation Sans, sans-serif"  fill="#111" textLength="165.5" lengthAdjust="spacingAndGlyphs">Fibrosis of</text>
<text x="861.3" y="679.2" font-size="37.0" font-family="Liberation Sans, sans-serif"  fill="#111" textLength="285.3" lengthAdjust="spacingAndGlyphs">connection tissue</text>
<text x="868.0" y="754.3" font-size="37.0" font-family="Liberation Sans, sans-serif"  fill="#111" textLength="273.3" lengthAdjust="spacingAndGlyphs">Enlarged fat cells</text>
<text x="872.5" y="844.9" font-size="37.0" font-family="Liberation Sans, sans-serif"  fill="#111" textLength="264.5" lengthAdjust="spacingAndGlyphs">Reserve fat layer</text>
<text x="939.4" y="935.6" font-size="37.0" font-family="Liberation Sans, sans-serif"  fill="#111" textLength="129.6" lengthAdjust="spacingAndGlyphs">Muscles</text>
<text x="77.0" y="74.8" font-size="36.0" font-family="Liberation Sans, sans-serif" font-weight="bold" fill="#111" textLength="207.0" lengthAdjust="spacingAndGlyphs">Normal skin</text>
<text x="1669.0" y="74.7" font-size="36.0" font-family="Liberation Sans, sans-serif" font-weight="bold" fill="#111" textLength="248.0" lengthAdjust="spacingAndGlyphs">«Orange peel»</text>
<text x="249.5" y="1009.2" font-size="44.0" font-family="Liberation Sans, sans-serif" font-weight="bold" fill="#111" textLength="191.5" lengthAdjust="spacingAndGlyphs">HEALTHY</text>
<text x="1393.0" y="1009.3" font-size="44.0" font-family="Liberation Sans, sans-serif" font-weight="bold" fill="#111" textLength="255.0" lengthAdjust="spacingAndGlyphs">UNHEALTHY</text>
</svg></body></html>
